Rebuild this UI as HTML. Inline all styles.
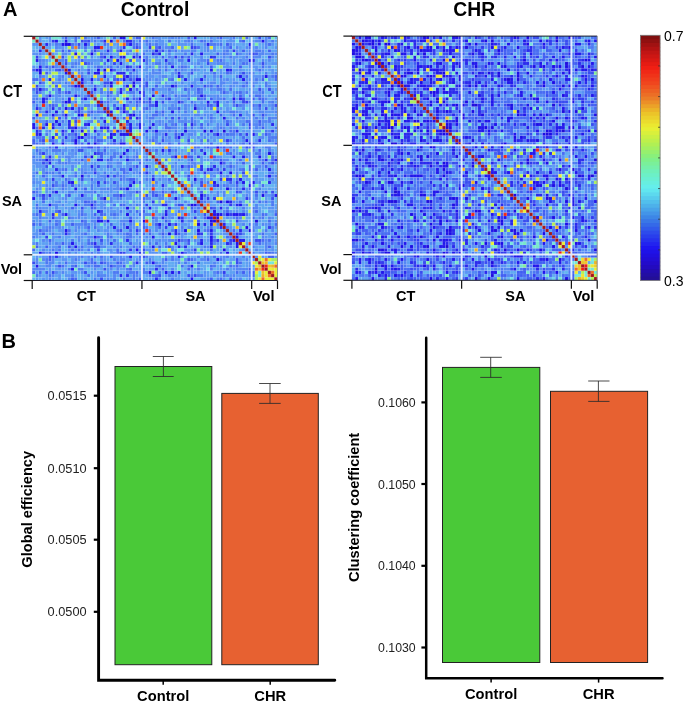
<!DOCTYPE html>
<html><head><meta charset="utf-8"><style>
html,body{margin:0;padding:0;background:#fff;width:685px;height:703px;overflow:hidden}
svg{display:block;font-family:"Liberation Sans",sans-serif;will-change:transform}
</style></head><body><svg width="685" height="703" viewBox="0 0 685 703" font-family="Liberation Sans, sans-serif"><defs><filter id="bl" x="-2%" y="-2%" width="104%" height="104%"><feGaussianBlur stdDeviation="0.45"/></filter></defs><rect width="685" height="703" fill="#fff"/><text x="3" y="16" font-size="20" font-weight="bold">A</text><text x="155" y="15.5" text-anchor="middle" font-size="19.3" font-weight="bold">Control</text><text x="474.2" y="15.5" text-anchor="middle" font-size="19.3" font-weight="bold">CHR</text><g filter="url(#bl)"><g transform="translate(32.20 36.30) scale(3.2276 3.2132)"><path fill="#200ddd" d="M22 10h1v1h-1zM10 22h1v1h-1zM50 22h1v1h-1zM59 29h1v1h-1zM22 50h1v1h-1zM57 55h1v1h-1zM55 57h1v1h-1zM69 57h1v1h-1zM29 59h1v1h-1zM57 69h1v1h-1z"/><path fill="#1f0ee6" d="M24 1h1v1h-1zM10 2h1v1h-1zM11 2h1v1h-1zM18 5h1v1h-1zM67 7h1v1h-1zM2 10h1v1h-1zM20 10h1v1h-1zM2 11h1v1h-1zM15 13h1v1h-1zM28 13h1v1h-1zM32 13h1v1h-1zM33 13h1v1h-1zM24 14h1v1h-1zM13 15h1v1h-1zM31 15h1v1h-1zM43 15h1v1h-1zM30 16h1v1h-1zM5 18h1v1h-1zM37 18h1v1h-1zM33 19h1v1h-1zM10 20h1v1h-1zM1 24h1v1h-1zM14 24h1v1h-1zM31 24h1v1h-1zM13 28h1v1h-1zM47 29h1v1h-1zM53 29h1v1h-1zM55 29h1v1h-1zM16 30h1v1h-1zM15 31h1v1h-1zM24 31h1v1h-1zM13 32h1v1h-1zM13 33h1v1h-1zM19 33h1v1h-1zM57 34h1v1h-1zM73 36h1v1h-1zM18 37h1v1h-1zM61 42h1v1h-1zM15 43h1v1h-1zM50 44h1v1h-1zM29 47h1v1h-1zM60 47h1v1h-1zM52 49h1v1h-1zM71 49h1v1h-1zM44 50h1v1h-1zM58 51h1v1h-1zM60 51h1v1h-1zM49 52h1v1h-1zM29 53h1v1h-1zM29 55h1v1h-1zM57 56h1v1h-1zM34 57h1v1h-1zM56 57h1v1h-1zM51 58h1v1h-1zM66 59h1v1h-1zM47 60h1v1h-1zM51 60h1v1h-1zM67 60h1v1h-1zM42 61h1v1h-1zM59 66h1v1h-1zM7 67h1v1h-1zM60 67h1v1h-1zM49 71h1v1h-1zM36 73h1v1h-1z"/><path fill="#2117ec" d="M27 0h1v1h-1zM28 0h1v1h-1zM50 0h1v1h-1zM7 1h1v1h-1zM10 1h1v1h-1zM71 1h1v1h-1zM9 2h1v1h-1zM16 2h1v1h-1zM30 2h1v1h-1zM67 2h1v1h-1zM19 3h1v1h-1zM20 3h1v1h-1zM27 4h1v1h-1zM38 4h1v1h-1zM13 5h1v1h-1zM39 5h1v1h-1zM52 5h1v1h-1zM24 6h1v1h-1zM28 6h1v1h-1zM31 6h1v1h-1zM33 6h1v1h-1zM1 7h1v1h-1zM23 7h1v1h-1zM26 7h1v1h-1zM48 7h1v1h-1zM27 8h1v1h-1zM2 9h1v1h-1zM33 9h1v1h-1zM43 9h1v1h-1zM1 10h1v1h-1zM11 10h1v1h-1zM24 10h1v1h-1zM55 10h1v1h-1zM60 10h1v1h-1zM10 11h1v1h-1zM19 11h1v1h-1zM20 11h1v1h-1zM22 12h1v1h-1zM29 12h1v1h-1zM45 12h1v1h-1zM64 12h1v1h-1zM72 12h1v1h-1zM5 13h1v1h-1zM18 13h1v1h-1zM47 13h1v1h-1zM52 13h1v1h-1zM65 13h1v1h-1zM15 14h1v1h-1zM31 14h1v1h-1zM14 15h1v1h-1zM24 15h1v1h-1zM29 15h1v1h-1zM49 15h1v1h-1zM2 16h1v1h-1zM19 16h1v1h-1zM27 17h1v1h-1zM33 17h1v1h-1zM13 18h1v1h-1zM52 18h1v1h-1zM3 19h1v1h-1zM11 19h1v1h-1zM16 19h1v1h-1zM29 19h1v1h-1zM62 19h1v1h-1zM3 20h1v1h-1zM11 20h1v1h-1zM38 20h1v1h-1zM54 20h1v1h-1zM57 20h1v1h-1zM28 21h1v1h-1zM38 21h1v1h-1zM57 21h1v1h-1zM12 22h1v1h-1zM26 22h1v1h-1zM7 23h1v1h-1zM24 23h1v1h-1zM28 23h1v1h-1zM43 23h1v1h-1zM57 23h1v1h-1zM6 24h1v1h-1zM10 24h1v1h-1zM15 24h1v1h-1zM23 24h1v1h-1zM30 24h1v1h-1zM59 25h1v1h-1zM7 26h1v1h-1zM22 26h1v1h-1zM0 27h1v1h-1zM4 27h1v1h-1zM8 27h1v1h-1zM17 27h1v1h-1zM30 27h1v1h-1zM33 27h1v1h-1zM37 27h1v1h-1zM0 28h1v1h-1zM6 28h1v1h-1zM21 28h1v1h-1zM23 28h1v1h-1zM30 28h1v1h-1zM33 28h1v1h-1zM36 28h1v1h-1zM12 29h1v1h-1zM15 29h1v1h-1zM19 29h1v1h-1zM30 29h1v1h-1zM35 29h1v1h-1zM38 29h1v1h-1zM2 30h1v1h-1zM24 30h1v1h-1zM27 30h1v1h-1zM28 30h1v1h-1zM29 30h1v1h-1zM46 30h1v1h-1zM57 30h1v1h-1zM68 30h1v1h-1zM6 31h1v1h-1zM14 31h1v1h-1zM45 31h1v1h-1zM66 32h1v1h-1zM6 33h1v1h-1zM9 33h1v1h-1zM17 33h1v1h-1zM27 33h1v1h-1zM28 33h1v1h-1zM29 35h1v1h-1zM40 35h1v1h-1zM28 36h1v1h-1zM53 36h1v1h-1zM27 37h1v1h-1zM44 37h1v1h-1zM62 37h1v1h-1zM65 37h1v1h-1zM70 37h1v1h-1zM4 38h1v1h-1zM20 38h1v1h-1zM21 38h1v1h-1zM29 38h1v1h-1zM5 39h1v1h-1zM58 39h1v1h-1zM35 40h1v1h-1zM55 41h1v1h-1zM73 41h1v1h-1zM58 42h1v1h-1zM9 43h1v1h-1zM23 43h1v1h-1zM73 43h1v1h-1zM37 44h1v1h-1zM64 44h1v1h-1zM12 45h1v1h-1zM31 45h1v1h-1zM56 45h1v1h-1zM65 45h1v1h-1zM68 45h1v1h-1zM30 46h1v1h-1zM67 46h1v1h-1zM13 47h1v1h-1zM7 48h1v1h-1zM15 49h1v1h-1zM75 49h1v1h-1zM0 50h1v1h-1zM52 50h1v1h-1zM5 52h1v1h-1zM13 52h1v1h-1zM18 52h1v1h-1zM50 52h1v1h-1zM64 52h1v1h-1zM36 53h1v1h-1zM20 54h1v1h-1zM56 54h1v1h-1zM10 55h1v1h-1zM41 55h1v1h-1zM56 55h1v1h-1zM58 55h1v1h-1zM60 55h1v1h-1zM62 55h1v1h-1zM63 55h1v1h-1zM65 55h1v1h-1zM45 56h1v1h-1zM54 56h1v1h-1zM55 56h1v1h-1zM20 57h1v1h-1zM21 57h1v1h-1zM23 57h1v1h-1zM30 57h1v1h-1zM39 58h1v1h-1zM42 58h1v1h-1zM55 58h1v1h-1zM25 59h1v1h-1zM10 60h1v1h-1zM55 60h1v1h-1zM19 62h1v1h-1zM37 62h1v1h-1zM55 62h1v1h-1zM63 62h1v1h-1zM55 63h1v1h-1zM62 63h1v1h-1zM64 63h1v1h-1zM65 63h1v1h-1zM12 64h1v1h-1zM44 64h1v1h-1zM52 64h1v1h-1zM63 64h1v1h-1zM13 65h1v1h-1zM37 65h1v1h-1zM45 65h1v1h-1zM55 65h1v1h-1zM63 65h1v1h-1zM32 66h1v1h-1zM2 67h1v1h-1zM46 67h1v1h-1zM30 68h1v1h-1zM45 68h1v1h-1zM37 70h1v1h-1zM1 71h1v1h-1zM12 72h1v1h-1zM41 73h1v1h-1zM43 73h1v1h-1zM49 75h1v1h-1z"/><path fill="#2929ed" d="M22 1h1v1h-1zM29 1h1v1h-1zM30 1h1v1h-1zM4 2h1v1h-1zM54 2h1v1h-1zM28 3h1v1h-1zM2 4h1v1h-1zM23 4h1v1h-1zM37 5h1v1h-1zM49 5h1v1h-1zM22 6h1v1h-1zM27 6h1v1h-1zM55 6h1v1h-1zM34 7h1v1h-1zM41 7h1v1h-1zM68 7h1v1h-1zM29 9h1v1h-1zM31 10h1v1h-1zM61 10h1v1h-1zM26 11h1v1h-1zM27 11h1v1h-1zM28 11h1v1h-1zM45 11h1v1h-1zM27 16h1v1h-1zM40 18h1v1h-1zM36 19h1v1h-1zM64 19h1v1h-1zM21 20h1v1h-1zM45 20h1v1h-1zM20 21h1v1h-1zM1 22h1v1h-1zM6 22h1v1h-1zM28 22h1v1h-1zM4 23h1v1h-1zM64 24h1v1h-1zM30 25h1v1h-1zM32 25h1v1h-1zM11 26h1v1h-1zM29 26h1v1h-1zM6 27h1v1h-1zM11 27h1v1h-1zM16 27h1v1h-1zM49 27h1v1h-1zM74 27h1v1h-1zM3 28h1v1h-1zM11 28h1v1h-1zM22 28h1v1h-1zM1 29h1v1h-1zM9 29h1v1h-1zM26 29h1v1h-1zM63 29h1v1h-1zM1 30h1v1h-1zM25 30h1v1h-1zM41 30h1v1h-1zM10 31h1v1h-1zM25 32h1v1h-1zM70 32h1v1h-1zM67 33h1v1h-1zM7 34h1v1h-1zM19 36h1v1h-1zM5 37h1v1h-1zM72 38h1v1h-1zM75 38h1v1h-1zM18 40h1v1h-1zM46 40h1v1h-1zM52 40h1v1h-1zM56 40h1v1h-1zM7 41h1v1h-1zM30 41h1v1h-1zM52 41h1v1h-1zM54 41h1v1h-1zM60 44h1v1h-1zM61 44h1v1h-1zM11 45h1v1h-1zM20 45h1v1h-1zM73 45h1v1h-1zM40 46h1v1h-1zM57 46h1v1h-1zM65 47h1v1h-1zM5 49h1v1h-1zM27 49h1v1h-1zM61 51h1v1h-1zM40 52h1v1h-1zM41 52h1v1h-1zM63 52h1v1h-1zM58 53h1v1h-1zM2 54h1v1h-1zM41 54h1v1h-1zM6 55h1v1h-1zM64 55h1v1h-1zM40 56h1v1h-1zM46 57h1v1h-1zM53 58h1v1h-1zM59 58h1v1h-1zM58 59h1v1h-1zM44 60h1v1h-1zM64 60h1v1h-1zM10 61h1v1h-1zM44 61h1v1h-1zM51 61h1v1h-1zM29 63h1v1h-1zM52 63h1v1h-1zM19 64h1v1h-1zM24 64h1v1h-1zM55 64h1v1h-1zM60 64h1v1h-1zM47 65h1v1h-1zM33 67h1v1h-1zM7 68h1v1h-1zM32 70h1v1h-1zM38 72h1v1h-1zM45 73h1v1h-1zM27 74h1v1h-1zM38 75h1v1h-1z"/><path fill="#313bef" d="M6 1h1v1h-1zM36 3h1v1h-1zM49 3h1v1h-1zM62 4h1v1h-1zM1 6h1v1h-1zM44 6h1v1h-1zM56 6h1v1h-1zM28 12h1v1h-1zM42 19h1v1h-1zM66 20h1v1h-1zM23 22h1v1h-1zM22 23h1v1h-1zM67 27h1v1h-1zM12 28h1v1h-1zM74 29h1v1h-1zM66 30h1v1h-1zM60 32h1v1h-1zM42 35h1v1h-1zM52 35h1v1h-1zM3 36h1v1h-1zM51 37h1v1h-1zM59 41h1v1h-1zM19 42h1v1h-1zM35 42h1v1h-1zM53 42h1v1h-1zM6 44h1v1h-1zM58 44h1v1h-1zM63 45h1v1h-1zM56 46h1v1h-1zM3 49h1v1h-1zM54 50h1v1h-1zM56 50h1v1h-1zM66 50h1v1h-1zM37 51h1v1h-1zM35 52h1v1h-1zM61 52h1v1h-1zM42 53h1v1h-1zM50 54h1v1h-1zM61 55h1v1h-1zM6 56h1v1h-1zM46 56h1v1h-1zM50 56h1v1h-1zM63 57h1v1h-1zM44 58h1v1h-1zM41 59h1v1h-1zM73 59h1v1h-1zM32 60h1v1h-1zM52 61h1v1h-1zM55 61h1v1h-1zM63 61h1v1h-1zM4 62h1v1h-1zM45 63h1v1h-1zM57 63h1v1h-1zM61 63h1v1h-1zM20 66h1v1h-1zM30 66h1v1h-1zM50 66h1v1h-1zM27 67h1v1h-1zM59 73h1v1h-1zM29 74h1v1h-1z"/><path fill="#394df0" d="M70 0h1v1h-1zM15 1h1v1h-1zM17 1h1v1h-1zM14 2h1v1h-1zM32 3h1v1h-1zM39 3h1v1h-1zM50 3h1v1h-1zM19 4h1v1h-1zM40 4h1v1h-1zM68 5h1v1h-1zM9 6h1v1h-1zM46 6h1v1h-1zM73 6h1v1h-1zM30 7h1v1h-1zM10 8h1v1h-1zM16 8h1v1h-1zM25 8h1v1h-1zM54 8h1v1h-1zM71 8h1v1h-1zM6 9h1v1h-1zM30 9h1v1h-1zM8 10h1v1h-1zM17 11h1v1h-1zM49 11h1v1h-1zM65 11h1v1h-1zM26 13h1v1h-1zM30 13h1v1h-1zM2 14h1v1h-1zM22 14h1v1h-1zM23 14h1v1h-1zM35 14h1v1h-1zM1 15h1v1h-1zM35 15h1v1h-1zM44 15h1v1h-1zM53 15h1v1h-1zM8 16h1v1h-1zM37 16h1v1h-1zM70 16h1v1h-1zM73 16h1v1h-1zM1 17h1v1h-1zM11 17h1v1h-1zM18 17h1v1h-1zM34 17h1v1h-1zM17 18h1v1h-1zM34 18h1v1h-1zM4 19h1v1h-1zM65 19h1v1h-1zM36 20h1v1h-1zM40 20h1v1h-1zM65 20h1v1h-1zM54 21h1v1h-1zM63 21h1v1h-1zM70 21h1v1h-1zM75 21h1v1h-1zM14 22h1v1h-1zM45 22h1v1h-1zM72 22h1v1h-1zM14 23h1v1h-1zM68 24h1v1h-1zM71 24h1v1h-1zM8 25h1v1h-1zM43 25h1v1h-1zM45 25h1v1h-1zM13 26h1v1h-1zM47 27h1v1h-1zM60 27h1v1h-1zM67 28h1v1h-1zM7 30h1v1h-1zM9 30h1v1h-1zM13 30h1v1h-1zM3 32h1v1h-1zM40 32h1v1h-1zM48 32h1v1h-1zM17 34h1v1h-1zM18 34h1v1h-1zM66 34h1v1h-1zM68 34h1v1h-1zM14 35h1v1h-1zM15 35h1v1h-1zM49 35h1v1h-1zM20 36h1v1h-1zM16 37h1v1h-1zM49 38h1v1h-1zM3 39h1v1h-1zM74 39h1v1h-1zM4 40h1v1h-1zM20 40h1v1h-1zM32 40h1v1h-1zM65 42h1v1h-1zM25 43h1v1h-1zM48 43h1v1h-1zM15 44h1v1h-1zM22 45h1v1h-1zM25 45h1v1h-1zM52 45h1v1h-1zM6 46h1v1h-1zM52 46h1v1h-1zM27 47h1v1h-1zM32 48h1v1h-1zM43 48h1v1h-1zM63 48h1v1h-1zM69 48h1v1h-1zM74 48h1v1h-1zM11 49h1v1h-1zM35 49h1v1h-1zM38 49h1v1h-1zM3 50h1v1h-1zM74 50h1v1h-1zM45 52h1v1h-1zM46 52h1v1h-1zM15 53h1v1h-1zM55 53h1v1h-1zM8 54h1v1h-1zM21 54h1v1h-1zM53 55h1v1h-1zM27 60h1v1h-1zM64 61h1v1h-1zM21 63h1v1h-1zM48 63h1v1h-1zM69 63h1v1h-1zM70 63h1v1h-1zM61 64h1v1h-1zM11 65h1v1h-1zM19 65h1v1h-1zM20 65h1v1h-1zM42 65h1v1h-1zM34 66h1v1h-1zM28 67h1v1h-1zM5 68h1v1h-1zM24 68h1v1h-1zM34 68h1v1h-1zM48 69h1v1h-1zM63 69h1v1h-1zM0 70h1v1h-1zM16 70h1v1h-1zM21 70h1v1h-1zM63 70h1v1h-1zM8 71h1v1h-1zM24 71h1v1h-1zM22 72h1v1h-1zM6 73h1v1h-1zM16 73h1v1h-1zM39 74h1v1h-1zM48 74h1v1h-1zM50 74h1v1h-1zM21 75h1v1h-1z"/><path fill="#415ff2" d="M10 0h1v1h-1zM20 0h1v1h-1zM25 0h1v1h-1zM32 0h1v1h-1zM33 0h1v1h-1zM48 0h1v1h-1zM58 0h1v1h-1zM16 1h1v1h-1zM65 1h1v1h-1zM29 2h1v1h-1zM60 2h1v1h-1zM43 3h1v1h-1zM61 3h1v1h-1zM9 4h1v1h-1zM11 4h1v1h-1zM65 4h1v1h-1zM73 4h1v1h-1zM38 5h1v1h-1zM57 5h1v1h-1zM63 5h1v1h-1zM69 5h1v1h-1zM21 6h1v1h-1zM40 6h1v1h-1zM48 6h1v1h-1zM10 7h1v1h-1zM15 7h1v1h-1zM4 9h1v1h-1zM55 9h1v1h-1zM64 9h1v1h-1zM0 10h1v1h-1zM7 10h1v1h-1zM17 10h1v1h-1zM25 10h1v1h-1zM4 11h1v1h-1zM46 12h1v1h-1zM53 12h1v1h-1zM58 12h1v1h-1zM75 12h1v1h-1zM25 13h1v1h-1zM71 13h1v1h-1zM7 15h1v1h-1zM19 15h1v1h-1zM22 15h1v1h-1zM33 15h1v1h-1zM38 15h1v1h-1zM57 15h1v1h-1zM1 16h1v1h-1zM32 16h1v1h-1zM47 16h1v1h-1zM51 16h1v1h-1zM10 17h1v1h-1zM24 17h1v1h-1zM59 17h1v1h-1zM23 18h1v1h-1zM53 18h1v1h-1zM64 18h1v1h-1zM15 19h1v1h-1zM31 19h1v1h-1zM51 19h1v1h-1zM55 19h1v1h-1zM68 19h1v1h-1zM70 19h1v1h-1zM0 20h1v1h-1zM32 20h1v1h-1zM34 20h1v1h-1zM46 20h1v1h-1zM56 20h1v1h-1zM62 20h1v1h-1zM6 21h1v1h-1zM25 21h1v1h-1zM36 21h1v1h-1zM37 21h1v1h-1zM50 21h1v1h-1zM55 21h1v1h-1zM15 22h1v1h-1zM35 22h1v1h-1zM18 23h1v1h-1zM29 23h1v1h-1zM38 23h1v1h-1zM40 23h1v1h-1zM17 24h1v1h-1zM58 24h1v1h-1zM0 25h1v1h-1zM10 25h1v1h-1zM13 25h1v1h-1zM21 25h1v1h-1zM28 25h1v1h-1zM33 25h1v1h-1zM70 26h1v1h-1zM52 27h1v1h-1zM25 28h1v1h-1zM47 28h1v1h-1zM71 28h1v1h-1zM2 29h1v1h-1zM23 29h1v1h-1zM44 30h1v1h-1zM56 30h1v1h-1zM64 30h1v1h-1zM72 30h1v1h-1zM19 31h1v1h-1zM44 31h1v1h-1zM0 32h1v1h-1zM16 32h1v1h-1zM20 32h1v1h-1zM0 33h1v1h-1zM15 33h1v1h-1zM25 33h1v1h-1zM39 33h1v1h-1zM45 33h1v1h-1zM55 33h1v1h-1zM75 33h1v1h-1zM20 34h1v1h-1zM54 34h1v1h-1zM59 34h1v1h-1zM22 35h1v1h-1zM70 35h1v1h-1zM21 36h1v1h-1zM21 37h1v1h-1zM43 37h1v1h-1zM48 37h1v1h-1zM49 37h1v1h-1zM56 37h1v1h-1zM5 38h1v1h-1zM15 38h1v1h-1zM23 38h1v1h-1zM58 38h1v1h-1zM33 39h1v1h-1zM59 39h1v1h-1zM65 39h1v1h-1zM71 39h1v1h-1zM6 40h1v1h-1zM23 40h1v1h-1zM48 40h1v1h-1zM61 40h1v1h-1zM67 40h1v1h-1zM72 40h1v1h-1zM57 41h1v1h-1zM67 41h1v1h-1zM69 41h1v1h-1zM3 43h1v1h-1zM37 43h1v1h-1zM30 44h1v1h-1zM31 44h1v1h-1zM48 44h1v1h-1zM33 45h1v1h-1zM61 45h1v1h-1zM12 46h1v1h-1zM20 46h1v1h-1zM16 47h1v1h-1zM28 47h1v1h-1zM0 48h1v1h-1zM6 48h1v1h-1zM37 48h1v1h-1zM40 48h1v1h-1zM44 48h1v1h-1zM52 48h1v1h-1zM64 48h1v1h-1zM72 48h1v1h-1zM37 49h1v1h-1zM53 49h1v1h-1zM21 50h1v1h-1zM16 51h1v1h-1zM19 51h1v1h-1zM57 51h1v1h-1zM27 52h1v1h-1zM48 52h1v1h-1zM12 53h1v1h-1zM18 53h1v1h-1zM49 53h1v1h-1zM56 53h1v1h-1zM34 54h1v1h-1zM69 54h1v1h-1zM9 55h1v1h-1zM19 55h1v1h-1zM21 55h1v1h-1zM33 55h1v1h-1zM75 55h1v1h-1zM20 56h1v1h-1zM30 56h1v1h-1zM37 56h1v1h-1zM53 56h1v1h-1zM5 57h1v1h-1zM15 57h1v1h-1zM41 57h1v1h-1zM51 57h1v1h-1zM0 58h1v1h-1zM12 58h1v1h-1zM24 58h1v1h-1zM38 58h1v1h-1zM17 59h1v1h-1zM34 59h1v1h-1zM39 59h1v1h-1zM2 60h1v1h-1zM3 61h1v1h-1zM40 61h1v1h-1zM45 61h1v1h-1zM75 61h1v1h-1zM20 62h1v1h-1zM5 63h1v1h-1zM9 64h1v1h-1zM18 64h1v1h-1zM30 64h1v1h-1zM48 64h1v1h-1zM1 65h1v1h-1zM4 65h1v1h-1zM39 65h1v1h-1zM73 65h1v1h-1zM40 67h1v1h-1zM41 67h1v1h-1zM72 67h1v1h-1zM19 68h1v1h-1zM73 68h1v1h-1zM74 68h1v1h-1zM5 69h1v1h-1zM41 69h1v1h-1zM54 69h1v1h-1zM19 70h1v1h-1zM26 70h1v1h-1zM35 70h1v1h-1zM13 71h1v1h-1zM28 71h1v1h-1zM39 71h1v1h-1zM30 72h1v1h-1zM40 72h1v1h-1zM48 72h1v1h-1zM67 72h1v1h-1zM4 73h1v1h-1zM65 73h1v1h-1zM68 73h1v1h-1zM68 74h1v1h-1zM12 75h1v1h-1zM33 75h1v1h-1zM55 75h1v1h-1zM61 75h1v1h-1z"/><path fill="#476cf3" d="M13 0h1v1h-1zM66 0h1v1h-1zM73 0h1v1h-1zM13 1h1v1h-1zM28 1h1v1h-1zM33 1h1v1h-1zM35 1h1v1h-1zM42 1h1v1h-1zM52 1h1v1h-1zM55 1h1v1h-1zM12 2h1v1h-1zM22 2h1v1h-1zM32 2h1v1h-1zM36 2h1v1h-1zM49 2h1v1h-1zM58 2h1v1h-1zM73 2h1v1h-1zM16 3h1v1h-1zM31 3h1v1h-1zM33 3h1v1h-1zM38 3h1v1h-1zM51 3h1v1h-1zM67 3h1v1h-1zM26 4h1v1h-1zM42 4h1v1h-1zM21 5h1v1h-1zM32 5h1v1h-1zM34 5h1v1h-1zM67 5h1v1h-1zM14 6h1v1h-1zM32 6h1v1h-1zM54 7h1v1h-1zM58 7h1v1h-1zM17 8h1v1h-1zM22 8h1v1h-1zM42 8h1v1h-1zM65 8h1v1h-1zM20 9h1v1h-1zM24 9h1v1h-1zM32 9h1v1h-1zM46 9h1v1h-1zM71 9h1v1h-1zM29 10h1v1h-1zM41 10h1v1h-1zM44 10h1v1h-1zM70 10h1v1h-1zM22 11h1v1h-1zM30 11h1v1h-1zM56 11h1v1h-1zM60 11h1v1h-1zM2 12h1v1h-1zM15 12h1v1h-1zM32 12h1v1h-1zM66 12h1v1h-1zM0 13h1v1h-1zM1 13h1v1h-1zM23 13h1v1h-1zM31 13h1v1h-1zM43 13h1v1h-1zM75 13h1v1h-1zM6 14h1v1h-1zM18 14h1v1h-1zM66 14h1v1h-1zM12 15h1v1h-1zM55 15h1v1h-1zM65 15h1v1h-1zM3 16h1v1h-1zM61 16h1v1h-1zM8 17h1v1h-1zM51 17h1v1h-1zM64 17h1v1h-1zM74 17h1v1h-1zM14 18h1v1h-1zM44 18h1v1h-1zM69 18h1v1h-1zM70 18h1v1h-1zM32 19h1v1h-1zM41 19h1v1h-1zM48 19h1v1h-1zM53 19h1v1h-1zM59 19h1v1h-1zM71 19h1v1h-1zM9 20h1v1h-1zM23 20h1v1h-1zM30 20h1v1h-1zM33 20h1v1h-1zM49 20h1v1h-1zM71 20h1v1h-1zM5 21h1v1h-1zM32 21h1v1h-1zM68 21h1v1h-1zM2 22h1v1h-1zM8 22h1v1h-1zM11 22h1v1h-1zM70 22h1v1h-1zM13 23h1v1h-1zM20 23h1v1h-1zM9 24h1v1h-1zM37 24h1v1h-1zM38 24h1v1h-1zM62 24h1v1h-1zM49 25h1v1h-1zM52 25h1v1h-1zM55 25h1v1h-1zM63 25h1v1h-1zM4 26h1v1h-1zM49 26h1v1h-1zM60 26h1v1h-1zM66 26h1v1h-1zM67 26h1v1h-1zM29 27h1v1h-1zM41 27h1v1h-1zM44 27h1v1h-1zM70 27h1v1h-1zM1 28h1v1h-1zM41 28h1v1h-1zM42 28h1v1h-1zM49 28h1v1h-1zM52 28h1v1h-1zM10 29h1v1h-1zM27 29h1v1h-1zM61 29h1v1h-1zM11 30h1v1h-1zM20 30h1v1h-1zM60 30h1v1h-1zM3 31h1v1h-1zM13 31h1v1h-1zM65 31h1v1h-1zM2 32h1v1h-1zM5 32h1v1h-1zM6 32h1v1h-1zM9 32h1v1h-1zM12 32h1v1h-1zM19 32h1v1h-1zM21 32h1v1h-1zM37 32h1v1h-1zM54 32h1v1h-1zM61 32h1v1h-1zM73 32h1v1h-1zM1 33h1v1h-1zM3 33h1v1h-1zM20 33h1v1h-1zM42 33h1v1h-1zM65 33h1v1h-1zM68 33h1v1h-1zM5 34h1v1h-1zM50 34h1v1h-1zM61 34h1v1h-1zM67 34h1v1h-1zM1 35h1v1h-1zM38 35h1v1h-1zM2 36h1v1h-1zM61 36h1v1h-1zM24 37h1v1h-1zM32 37h1v1h-1zM74 37h1v1h-1zM3 38h1v1h-1zM24 38h1v1h-1zM35 38h1v1h-1zM39 38h1v1h-1zM64 38h1v1h-1zM74 38h1v1h-1zM38 39h1v1h-1zM10 41h1v1h-1zM19 41h1v1h-1zM27 41h1v1h-1zM28 41h1v1h-1zM65 41h1v1h-1zM1 42h1v1h-1zM4 42h1v1h-1zM8 42h1v1h-1zM28 42h1v1h-1zM33 42h1v1h-1zM44 42h1v1h-1zM13 43h1v1h-1zM10 44h1v1h-1zM18 44h1v1h-1zM27 44h1v1h-1zM42 44h1v1h-1zM9 46h1v1h-1zM49 46h1v1h-1zM63 46h1v1h-1zM71 46h1v1h-1zM67 47h1v1h-1zM19 48h1v1h-1zM2 49h1v1h-1zM20 49h1v1h-1zM25 49h1v1h-1zM26 49h1v1h-1zM28 49h1v1h-1zM46 49h1v1h-1zM69 49h1v1h-1zM34 50h1v1h-1zM3 51h1v1h-1zM17 51h1v1h-1zM52 51h1v1h-1zM64 51h1v1h-1zM70 51h1v1h-1zM1 52h1v1h-1zM25 52h1v1h-1zM28 52h1v1h-1zM51 52h1v1h-1zM19 53h1v1h-1zM7 54h1v1h-1zM32 54h1v1h-1zM60 54h1v1h-1zM1 55h1v1h-1zM15 55h1v1h-1zM25 55h1v1h-1zM59 55h1v1h-1zM66 55h1v1h-1zM71 55h1v1h-1zM11 56h1v1h-1zM63 56h1v1h-1zM68 56h1v1h-1zM73 57h1v1h-1zM2 58h1v1h-1zM7 58h1v1h-1zM67 58h1v1h-1zM75 58h1v1h-1zM19 59h1v1h-1zM55 59h1v1h-1zM11 60h1v1h-1zM26 60h1v1h-1zM30 60h1v1h-1zM54 60h1v1h-1zM62 60h1v1h-1zM16 61h1v1h-1zM29 61h1v1h-1zM32 61h1v1h-1zM34 61h1v1h-1zM36 61h1v1h-1zM71 61h1v1h-1zM24 62h1v1h-1zM60 62h1v1h-1zM25 63h1v1h-1zM46 63h1v1h-1zM56 63h1v1h-1zM71 63h1v1h-1zM73 63h1v1h-1zM17 64h1v1h-1zM38 64h1v1h-1zM51 64h1v1h-1zM70 64h1v1h-1zM8 65h1v1h-1zM15 65h1v1h-1zM31 65h1v1h-1zM33 65h1v1h-1zM41 65h1v1h-1zM0 66h1v1h-1zM12 66h1v1h-1zM14 66h1v1h-1zM26 66h1v1h-1zM55 66h1v1h-1zM3 67h1v1h-1zM5 67h1v1h-1zM26 67h1v1h-1zM34 67h1v1h-1zM47 67h1v1h-1zM58 67h1v1h-1zM73 67h1v1h-1zM21 68h1v1h-1zM33 68h1v1h-1zM56 68h1v1h-1zM18 69h1v1h-1zM49 69h1v1h-1zM10 70h1v1h-1zM18 70h1v1h-1zM22 70h1v1h-1zM27 70h1v1h-1zM51 70h1v1h-1zM64 70h1v1h-1zM9 71h1v1h-1zM19 71h1v1h-1zM20 71h1v1h-1zM46 71h1v1h-1zM55 71h1v1h-1zM61 71h1v1h-1zM63 71h1v1h-1zM0 73h1v1h-1zM2 73h1v1h-1zM32 73h1v1h-1zM57 73h1v1h-1zM63 73h1v1h-1zM67 73h1v1h-1zM17 74h1v1h-1zM37 74h1v1h-1zM38 74h1v1h-1zM13 75h1v1h-1zM58 75h1v1h-1z"/><path fill="#4c79f3" d="M16 0h1v1h-1zM37 0h1v1h-1zM62 0h1v1h-1zM19 1h1v1h-1zM21 1h1v1h-1zM31 1h1v1h-1zM48 1h1v1h-1zM53 1h1v1h-1zM64 1h1v1h-1zM74 1h1v1h-1zM7 2h1v1h-1zM17 2h1v1h-1zM31 2h1v1h-1zM38 2h1v1h-1zM55 2h1v1h-1zM56 2h1v1h-1zM14 3h1v1h-1zM18 4h1v1h-1zM30 4h1v1h-1zM39 4h1v1h-1zM44 4h1v1h-1zM60 4h1v1h-1zM69 4h1v1h-1zM70 4h1v1h-1zM47 5h1v1h-1zM59 5h1v1h-1zM74 5h1v1h-1zM35 6h1v1h-1zM42 6h1v1h-1zM61 6h1v1h-1zM66 6h1v1h-1zM68 6h1v1h-1zM2 7h1v1h-1zM21 7h1v1h-1zM24 7h1v1h-1zM35 7h1v1h-1zM45 7h1v1h-1zM46 7h1v1h-1zM57 7h1v1h-1zM13 8h1v1h-1zM35 8h1v1h-1zM38 8h1v1h-1zM39 8h1v1h-1zM62 8h1v1h-1zM66 8h1v1h-1zM10 9h1v1h-1zM12 9h1v1h-1zM21 9h1v1h-1zM23 9h1v1h-1zM26 9h1v1h-1zM41 9h1v1h-1zM47 9h1v1h-1zM9 10h1v1h-1zM14 10h1v1h-1zM39 10h1v1h-1zM49 10h1v1h-1zM61 11h1v1h-1zM67 11h1v1h-1zM72 11h1v1h-1zM9 12h1v1h-1zM25 12h1v1h-1zM30 12h1v1h-1zM63 12h1v1h-1zM71 12h1v1h-1zM74 12h1v1h-1zM8 13h1v1h-1zM20 13h1v1h-1zM27 13h1v1h-1zM42 13h1v1h-1zM69 13h1v1h-1zM3 14h1v1h-1zM10 14h1v1h-1zM72 14h1v1h-1zM28 15h1v1h-1zM34 15h1v1h-1zM54 15h1v1h-1zM68 15h1v1h-1zM72 15h1v1h-1zM0 16h1v1h-1zM21 16h1v1h-1zM34 16h1v1h-1zM42 16h1v1h-1zM52 16h1v1h-1zM57 16h1v1h-1zM58 16h1v1h-1zM2 17h1v1h-1zM21 17h1v1h-1zM23 17h1v1h-1zM30 17h1v1h-1zM31 17h1v1h-1zM52 17h1v1h-1zM63 17h1v1h-1zM66 17h1v1h-1zM71 17h1v1h-1zM4 18h1v1h-1zM46 18h1v1h-1zM47 18h1v1h-1zM51 18h1v1h-1zM67 18h1v1h-1zM1 19h1v1h-1zM25 19h1v1h-1zM52 19h1v1h-1zM75 19h1v1h-1zM13 20h1v1h-1zM35 20h1v1h-1zM67 20h1v1h-1zM74 20h1v1h-1zM1 21h1v1h-1zM7 21h1v1h-1zM9 21h1v1h-1zM16 21h1v1h-1zM17 21h1v1h-1zM23 21h1v1h-1zM29 21h1v1h-1zM62 21h1v1h-1zM64 21h1v1h-1zM27 22h1v1h-1zM34 22h1v1h-1zM42 22h1v1h-1zM55 22h1v1h-1zM57 22h1v1h-1zM9 23h1v1h-1zM17 23h1v1h-1zM21 23h1v1h-1zM31 23h1v1h-1zM47 23h1v1h-1zM61 23h1v1h-1zM62 23h1v1h-1zM7 24h1v1h-1zM29 24h1v1h-1zM33 24h1v1h-1zM40 24h1v1h-1zM55 24h1v1h-1zM12 25h1v1h-1zM19 25h1v1h-1zM26 25h1v1h-1zM36 25h1v1h-1zM37 25h1v1h-1zM41 25h1v1h-1zM69 25h1v1h-1zM71 25h1v1h-1zM73 25h1v1h-1zM9 26h1v1h-1zM25 26h1v1h-1zM73 26h1v1h-1zM13 27h1v1h-1zM22 27h1v1h-1zM32 27h1v1h-1zM43 27h1v1h-1zM50 27h1v1h-1zM54 27h1v1h-1zM65 27h1v1h-1zM15 28h1v1h-1zM58 28h1v1h-1zM75 28h1v1h-1zM21 29h1v1h-1zM24 29h1v1h-1zM37 29h1v1h-1zM44 29h1v1h-1zM62 29h1v1h-1zM72 29h1v1h-1zM4 30h1v1h-1zM12 30h1v1h-1zM17 30h1v1h-1zM38 30h1v1h-1zM45 30h1v1h-1zM54 30h1v1h-1zM58 30h1v1h-1zM61 30h1v1h-1zM62 30h1v1h-1zM73 30h1v1h-1zM1 31h1v1h-1zM2 31h1v1h-1zM17 31h1v1h-1zM23 31h1v1h-1zM38 31h1v1h-1zM40 31h1v1h-1zM73 31h1v1h-1zM74 31h1v1h-1zM75 31h1v1h-1zM27 32h1v1h-1zM52 32h1v1h-1zM24 33h1v1h-1zM48 33h1v1h-1zM60 33h1v1h-1zM15 34h1v1h-1zM16 34h1v1h-1zM22 34h1v1h-1zM51 34h1v1h-1zM53 34h1v1h-1zM58 34h1v1h-1zM72 34h1v1h-1zM73 34h1v1h-1zM6 35h1v1h-1zM7 35h1v1h-1zM8 35h1v1h-1zM20 35h1v1h-1zM36 35h1v1h-1zM44 35h1v1h-1zM59 35h1v1h-1zM68 35h1v1h-1zM73 35h1v1h-1zM25 36h1v1h-1zM35 36h1v1h-1zM60 36h1v1h-1zM64 36h1v1h-1zM69 36h1v1h-1zM70 36h1v1h-1zM74 36h1v1h-1zM0 37h1v1h-1zM25 37h1v1h-1zM29 37h1v1h-1zM46 37h1v1h-1zM2 38h1v1h-1zM8 38h1v1h-1zM30 38h1v1h-1zM31 38h1v1h-1zM41 38h1v1h-1zM71 38h1v1h-1zM4 39h1v1h-1zM8 39h1v1h-1zM10 39h1v1h-1zM73 39h1v1h-1zM24 40h1v1h-1zM31 40h1v1h-1zM41 40h1v1h-1zM49 40h1v1h-1zM9 41h1v1h-1zM25 41h1v1h-1zM38 41h1v1h-1zM40 41h1v1h-1zM64 41h1v1h-1zM6 42h1v1h-1zM13 42h1v1h-1zM16 42h1v1h-1zM22 42h1v1h-1zM74 42h1v1h-1zM27 43h1v1h-1zM58 43h1v1h-1zM60 43h1v1h-1zM68 43h1v1h-1zM69 43h1v1h-1zM75 43h1v1h-1zM4 44h1v1h-1zM29 44h1v1h-1zM35 44h1v1h-1zM52 44h1v1h-1zM63 44h1v1h-1zM7 45h1v1h-1zM30 45h1v1h-1zM54 45h1v1h-1zM7 46h1v1h-1zM18 46h1v1h-1zM37 46h1v1h-1zM59 46h1v1h-1zM5 47h1v1h-1zM9 47h1v1h-1zM18 47h1v1h-1zM23 47h1v1h-1zM63 47h1v1h-1zM70 47h1v1h-1zM1 48h1v1h-1zM33 48h1v1h-1zM71 48h1v1h-1zM10 49h1v1h-1zM40 49h1v1h-1zM74 49h1v1h-1zM27 50h1v1h-1zM67 50h1v1h-1zM18 51h1v1h-1zM34 51h1v1h-1zM53 51h1v1h-1zM68 51h1v1h-1zM72 51h1v1h-1zM74 51h1v1h-1zM16 52h1v1h-1zM17 52h1v1h-1zM19 52h1v1h-1zM32 52h1v1h-1zM44 52h1v1h-1zM74 52h1v1h-1zM1 53h1v1h-1zM34 53h1v1h-1zM51 53h1v1h-1zM60 53h1v1h-1zM65 53h1v1h-1zM68 53h1v1h-1zM15 54h1v1h-1zM27 54h1v1h-1zM30 54h1v1h-1zM45 54h1v1h-1zM2 55h1v1h-1zM22 55h1v1h-1zM24 55h1v1h-1zM72 55h1v1h-1zM2 56h1v1h-1zM71 56h1v1h-1zM7 57h1v1h-1zM16 57h1v1h-1zM22 57h1v1h-1zM16 58h1v1h-1zM28 58h1v1h-1zM30 58h1v1h-1zM34 58h1v1h-1zM43 58h1v1h-1zM69 58h1v1h-1zM5 59h1v1h-1zM35 59h1v1h-1zM46 59h1v1h-1zM60 59h1v1h-1zM74 59h1v1h-1zM4 60h1v1h-1zM33 60h1v1h-1zM36 60h1v1h-1zM43 60h1v1h-1zM53 60h1v1h-1zM59 60h1v1h-1zM68 60h1v1h-1zM72 60h1v1h-1zM6 61h1v1h-1zM11 61h1v1h-1zM23 61h1v1h-1zM30 61h1v1h-1zM62 61h1v1h-1zM0 62h1v1h-1zM8 62h1v1h-1zM21 62h1v1h-1zM23 62h1v1h-1zM29 62h1v1h-1zM30 62h1v1h-1zM61 62h1v1h-1zM12 63h1v1h-1zM17 63h1v1h-1zM44 63h1v1h-1zM47 63h1v1h-1zM1 64h1v1h-1zM21 64h1v1h-1zM36 64h1v1h-1zM41 64h1v1h-1zM27 65h1v1h-1zM53 65h1v1h-1zM68 65h1v1h-1zM6 66h1v1h-1zM8 66h1v1h-1zM17 66h1v1h-1zM11 67h1v1h-1zM18 67h1v1h-1zM20 67h1v1h-1zM50 67h1v1h-1zM68 67h1v1h-1zM74 67h1v1h-1zM6 68h1v1h-1zM15 68h1v1h-1zM35 68h1v1h-1zM43 68h1v1h-1zM51 68h1v1h-1zM53 68h1v1h-1zM60 68h1v1h-1zM65 68h1v1h-1zM67 68h1v1h-1zM4 69h1v1h-1zM13 69h1v1h-1zM25 69h1v1h-1zM36 69h1v1h-1zM43 69h1v1h-1zM58 69h1v1h-1zM4 70h1v1h-1zM36 70h1v1h-1zM47 70h1v1h-1zM12 71h1v1h-1zM17 71h1v1h-1zM25 71h1v1h-1zM38 71h1v1h-1zM48 71h1v1h-1zM56 71h1v1h-1zM11 72h1v1h-1zM14 72h1v1h-1zM15 72h1v1h-1zM29 72h1v1h-1zM34 72h1v1h-1zM51 72h1v1h-1zM55 72h1v1h-1zM60 72h1v1h-1zM25 73h1v1h-1zM26 73h1v1h-1zM30 73h1v1h-1zM31 73h1v1h-1zM34 73h1v1h-1zM35 73h1v1h-1zM39 73h1v1h-1zM1 74h1v1h-1zM5 74h1v1h-1zM12 74h1v1h-1zM20 74h1v1h-1zM31 74h1v1h-1zM36 74h1v1h-1zM42 74h1v1h-1zM49 74h1v1h-1zM51 74h1v1h-1zM52 74h1v1h-1zM59 74h1v1h-1zM67 74h1v1h-1zM19 75h1v1h-1zM28 75h1v1h-1zM31 75h1v1h-1zM43 75h1v1h-1z"/><path fill="#5286f4" d="M19 0h1v1h-1zM43 0h1v1h-1zM45 0h1v1h-1zM55 0h1v1h-1zM57 0h1v1h-1zM72 0h1v1h-1zM38 1h1v1h-1zM47 1h1v1h-1zM49 1h1v1h-1zM69 1h1v1h-1zM70 1h1v1h-1zM72 1h1v1h-1zM5 2h1v1h-1zM8 2h1v1h-1zM13 2h1v1h-1zM23 2h1v1h-1zM33 2h1v1h-1zM35 2h1v1h-1zM53 2h1v1h-1zM57 2h1v1h-1zM61 2h1v1h-1zM72 2h1v1h-1zM7 3h1v1h-1zM12 3h1v1h-1zM24 3h1v1h-1zM27 3h1v1h-1zM41 3h1v1h-1zM42 3h1v1h-1zM54 3h1v1h-1zM60 3h1v1h-1zM63 3h1v1h-1zM66 3h1v1h-1zM69 3h1v1h-1zM72 3h1v1h-1zM16 4h1v1h-1zM20 4h1v1h-1zM24 4h1v1h-1zM35 4h1v1h-1zM37 4h1v1h-1zM46 4h1v1h-1zM49 4h1v1h-1zM50 4h1v1h-1zM54 4h1v1h-1zM59 4h1v1h-1zM67 4h1v1h-1zM71 4h1v1h-1zM2 5h1v1h-1zM9 5h1v1h-1zM10 5h1v1h-1zM22 5h1v1h-1zM23 5h1v1h-1zM29 5h1v1h-1zM42 5h1v1h-1zM60 5h1v1h-1zM64 5h1v1h-1zM70 5h1v1h-1zM71 5h1v1h-1zM75 5h1v1h-1zM16 6h1v1h-1zM18 6h1v1h-1zM25 6h1v1h-1zM38 6h1v1h-1zM52 6h1v1h-1zM59 6h1v1h-1zM69 6h1v1h-1zM70 6h1v1h-1zM74 6h1v1h-1zM3 7h1v1h-1zM8 7h1v1h-1zM9 7h1v1h-1zM27 7h1v1h-1zM52 7h1v1h-1zM53 7h1v1h-1zM64 7h1v1h-1zM71 7h1v1h-1zM73 7h1v1h-1zM2 8h1v1h-1zM7 8h1v1h-1zM12 8h1v1h-1zM14 8h1v1h-1zM18 8h1v1h-1zM41 8h1v1h-1zM43 8h1v1h-1zM51 8h1v1h-1zM57 8h1v1h-1zM58 8h1v1h-1zM59 8h1v1h-1zM68 8h1v1h-1zM5 9h1v1h-1zM7 9h1v1h-1zM19 9h1v1h-1zM36 9h1v1h-1zM39 9h1v1h-1zM45 9h1v1h-1zM52 9h1v1h-1zM73 9h1v1h-1zM5 10h1v1h-1zM37 10h1v1h-1zM46 10h1v1h-1zM50 10h1v1h-1zM12 11h1v1h-1zM15 11h1v1h-1zM37 11h1v1h-1zM38 11h1v1h-1zM39 11h1v1h-1zM44 11h1v1h-1zM48 11h1v1h-1zM64 11h1v1h-1zM68 11h1v1h-1zM75 11h1v1h-1zM3 12h1v1h-1zM8 12h1v1h-1zM11 12h1v1h-1zM31 12h1v1h-1zM35 12h1v1h-1zM40 12h1v1h-1zM41 12h1v1h-1zM48 12h1v1h-1zM56 12h1v1h-1zM2 13h1v1h-1zM29 13h1v1h-1zM34 13h1v1h-1zM36 13h1v1h-1zM38 13h1v1h-1zM58 13h1v1h-1zM60 13h1v1h-1zM67 13h1v1h-1zM8 14h1v1h-1zM32 14h1v1h-1zM33 14h1v1h-1zM39 14h1v1h-1zM44 14h1v1h-1zM46 14h1v1h-1zM52 14h1v1h-1zM55 14h1v1h-1zM56 14h1v1h-1zM58 14h1v1h-1zM59 14h1v1h-1zM62 14h1v1h-1zM63 14h1v1h-1zM68 14h1v1h-1zM11 15h1v1h-1zM23 15h1v1h-1zM41 15h1v1h-1zM42 15h1v1h-1zM58 15h1v1h-1zM61 15h1v1h-1zM66 15h1v1h-1zM73 15h1v1h-1zM4 16h1v1h-1zM6 16h1v1h-1zM18 16h1v1h-1zM28 16h1v1h-1zM48 16h1v1h-1zM55 16h1v1h-1zM59 16h1v1h-1zM26 17h1v1h-1zM29 17h1v1h-1zM43 17h1v1h-1zM48 17h1v1h-1zM58 17h1v1h-1zM60 17h1v1h-1zM62 17h1v1h-1zM68 17h1v1h-1zM70 17h1v1h-1zM6 18h1v1h-1zM8 18h1v1h-1zM16 18h1v1h-1zM26 18h1v1h-1zM31 18h1v1h-1zM41 18h1v1h-1zM48 18h1v1h-1zM57 18h1v1h-1zM62 18h1v1h-1zM0 19h1v1h-1zM9 19h1v1h-1zM23 19h1v1h-1zM34 19h1v1h-1zM57 19h1v1h-1zM58 19h1v1h-1zM72 19h1v1h-1zM4 20h1v1h-1zM22 20h1v1h-1zM26 20h1v1h-1zM60 20h1v1h-1zM73 20h1v1h-1zM43 21h1v1h-1zM47 21h1v1h-1zM65 21h1v1h-1zM69 21h1v1h-1zM74 21h1v1h-1zM5 22h1v1h-1zM20 22h1v1h-1zM25 22h1v1h-1zM36 22h1v1h-1zM43 22h1v1h-1zM44 22h1v1h-1zM47 22h1v1h-1zM51 22h1v1h-1zM53 22h1v1h-1zM65 22h1v1h-1zM74 22h1v1h-1zM2 23h1v1h-1zM5 23h1v1h-1zM15 23h1v1h-1zM19 23h1v1h-1zM27 23h1v1h-1zM33 23h1v1h-1zM34 23h1v1h-1zM45 23h1v1h-1zM59 23h1v1h-1zM63 23h1v1h-1zM70 23h1v1h-1zM71 23h1v1h-1zM75 23h1v1h-1zM3 24h1v1h-1zM4 24h1v1h-1zM50 24h1v1h-1zM51 24h1v1h-1zM53 24h1v1h-1zM72 24h1v1h-1zM6 25h1v1h-1zM22 25h1v1h-1zM47 25h1v1h-1zM65 25h1v1h-1zM74 25h1v1h-1zM75 25h1v1h-1zM17 26h1v1h-1zM18 26h1v1h-1zM20 26h1v1h-1zM33 26h1v1h-1zM36 26h1v1h-1zM39 26h1v1h-1zM42 26h1v1h-1zM43 26h1v1h-1zM45 26h1v1h-1zM46 26h1v1h-1zM47 26h1v1h-1zM50 26h1v1h-1zM55 26h1v1h-1zM61 26h1v1h-1zM71 26h1v1h-1zM72 26h1v1h-1zM3 27h1v1h-1zM7 27h1v1h-1zM23 27h1v1h-1zM34 27h1v1h-1zM39 27h1v1h-1zM57 27h1v1h-1zM68 27h1v1h-1zM69 27h1v1h-1zM71 27h1v1h-1zM16 28h1v1h-1zM29 28h1v1h-1zM43 28h1v1h-1zM44 28h1v1h-1zM57 28h1v1h-1zM59 28h1v1h-1zM61 28h1v1h-1zM69 28h1v1h-1zM5 29h1v1h-1zM13 29h1v1h-1zM17 29h1v1h-1zM28 29h1v1h-1zM42 29h1v1h-1zM57 29h1v1h-1zM68 29h1v1h-1zM73 29h1v1h-1zM34 30h1v1h-1zM40 30h1v1h-1zM48 30h1v1h-1zM49 30h1v1h-1zM52 30h1v1h-1zM59 30h1v1h-1zM69 30h1v1h-1zM12 31h1v1h-1zM18 31h1v1h-1zM32 31h1v1h-1zM35 31h1v1h-1zM37 31h1v1h-1zM42 31h1v1h-1zM48 31h1v1h-1zM53 31h1v1h-1zM70 31h1v1h-1zM71 31h1v1h-1zM14 32h1v1h-1zM31 32h1v1h-1zM36 32h1v1h-1zM38 32h1v1h-1zM59 32h1v1h-1zM65 32h1v1h-1zM74 32h1v1h-1zM2 33h1v1h-1zM14 33h1v1h-1zM23 33h1v1h-1zM26 33h1v1h-1zM38 33h1v1h-1zM52 33h1v1h-1zM62 33h1v1h-1zM64 33h1v1h-1zM69 33h1v1h-1zM13 34h1v1h-1zM19 34h1v1h-1zM23 34h1v1h-1zM27 34h1v1h-1zM30 34h1v1h-1zM42 34h1v1h-1zM55 34h1v1h-1zM56 34h1v1h-1zM63 34h1v1h-1zM2 35h1v1h-1zM4 35h1v1h-1zM12 35h1v1h-1zM31 35h1v1h-1zM50 35h1v1h-1zM55 35h1v1h-1zM62 35h1v1h-1zM9 36h1v1h-1zM13 36h1v1h-1zM22 36h1v1h-1zM26 36h1v1h-1zM32 36h1v1h-1zM38 36h1v1h-1zM40 36h1v1h-1zM42 36h1v1h-1zM48 36h1v1h-1zM50 36h1v1h-1zM55 36h1v1h-1zM65 36h1v1h-1zM4 37h1v1h-1zM10 37h1v1h-1zM11 37h1v1h-1zM31 37h1v1h-1zM66 37h1v1h-1zM1 38h1v1h-1zM6 38h1v1h-1zM11 38h1v1h-1zM13 38h1v1h-1zM32 38h1v1h-1zM33 38h1v1h-1zM36 38h1v1h-1zM45 38h1v1h-1zM48 38h1v1h-1zM56 38h1v1h-1zM57 38h1v1h-1zM59 38h1v1h-1zM60 38h1v1h-1zM70 38h1v1h-1zM9 39h1v1h-1zM11 39h1v1h-1zM14 39h1v1h-1zM26 39h1v1h-1zM27 39h1v1h-1zM44 39h1v1h-1zM49 39h1v1h-1zM50 39h1v1h-1zM61 39h1v1h-1zM63 39h1v1h-1zM75 39h1v1h-1zM12 40h1v1h-1zM30 40h1v1h-1zM36 40h1v1h-1zM43 40h1v1h-1zM47 40h1v1h-1zM50 40h1v1h-1zM55 40h1v1h-1zM58 40h1v1h-1zM60 40h1v1h-1zM62 40h1v1h-1zM69 40h1v1h-1zM70 40h1v1h-1zM3 41h1v1h-1zM8 41h1v1h-1zM12 41h1v1h-1zM15 41h1v1h-1zM18 41h1v1h-1zM48 41h1v1h-1zM51 41h1v1h-1zM56 41h1v1h-1zM3 42h1v1h-1zM5 42h1v1h-1zM15 42h1v1h-1zM26 42h1v1h-1zM29 42h1v1h-1zM31 42h1v1h-1zM34 42h1v1h-1zM36 42h1v1h-1zM57 42h1v1h-1zM63 42h1v1h-1zM73 42h1v1h-1zM0 43h1v1h-1zM8 43h1v1h-1zM17 43h1v1h-1zM21 43h1v1h-1zM22 43h1v1h-1zM26 43h1v1h-1zM28 43h1v1h-1zM40 43h1v1h-1zM56 43h1v1h-1zM63 43h1v1h-1zM65 43h1v1h-1zM66 43h1v1h-1zM72 43h1v1h-1zM11 44h1v1h-1zM14 44h1v1h-1zM22 44h1v1h-1zM28 44h1v1h-1zM39 44h1v1h-1zM55 44h1v1h-1zM74 44h1v1h-1zM0 45h1v1h-1zM9 45h1v1h-1zM23 45h1v1h-1zM26 45h1v1h-1zM38 45h1v1h-1zM50 45h1v1h-1zM67 45h1v1h-1zM70 45h1v1h-1zM4 46h1v1h-1zM10 46h1v1h-1zM14 46h1v1h-1zM26 46h1v1h-1zM60 46h1v1h-1zM1 47h1v1h-1zM21 47h1v1h-1zM22 47h1v1h-1zM25 47h1v1h-1zM26 47h1v1h-1zM40 47h1v1h-1zM51 47h1v1h-1zM61 47h1v1h-1zM11 48h1v1h-1zM12 48h1v1h-1zM16 48h1v1h-1zM17 48h1v1h-1zM18 48h1v1h-1zM30 48h1v1h-1zM31 48h1v1h-1zM36 48h1v1h-1zM38 48h1v1h-1zM41 48h1v1h-1zM55 48h1v1h-1zM57 48h1v1h-1zM59 48h1v1h-1zM1 49h1v1h-1zM4 49h1v1h-1zM30 49h1v1h-1zM39 49h1v1h-1zM54 49h1v1h-1zM57 49h1v1h-1zM59 49h1v1h-1zM66 49h1v1h-1zM4 50h1v1h-1zM10 50h1v1h-1zM24 50h1v1h-1zM26 50h1v1h-1zM35 50h1v1h-1zM36 50h1v1h-1zM39 50h1v1h-1zM40 50h1v1h-1zM45 50h1v1h-1zM63 50h1v1h-1zM69 50h1v1h-1zM8 51h1v1h-1zM22 51h1v1h-1zM24 51h1v1h-1zM41 51h1v1h-1zM47 51h1v1h-1zM59 51h1v1h-1zM62 51h1v1h-1zM6 52h1v1h-1zM7 52h1v1h-1zM9 52h1v1h-1zM14 52h1v1h-1zM30 52h1v1h-1zM33 52h1v1h-1zM66 52h1v1h-1zM69 52h1v1h-1zM2 53h1v1h-1zM7 53h1v1h-1zM22 53h1v1h-1zM24 53h1v1h-1zM31 53h1v1h-1zM69 53h1v1h-1zM3 54h1v1h-1zM4 54h1v1h-1zM49 54h1v1h-1zM59 54h1v1h-1zM65 54h1v1h-1zM68 54h1v1h-1zM75 54h1v1h-1zM0 55h1v1h-1zM14 55h1v1h-1zM16 55h1v1h-1zM26 55h1v1h-1zM34 55h1v1h-1zM35 55h1v1h-1zM36 55h1v1h-1zM40 55h1v1h-1zM44 55h1v1h-1zM48 55h1v1h-1zM12 56h1v1h-1zM14 56h1v1h-1zM34 56h1v1h-1zM38 56h1v1h-1zM41 56h1v1h-1zM43 56h1v1h-1zM62 56h1v1h-1zM64 56h1v1h-1zM70 56h1v1h-1zM73 56h1v1h-1zM0 57h1v1h-1zM2 57h1v1h-1zM8 57h1v1h-1zM18 57h1v1h-1zM19 57h1v1h-1zM27 57h1v1h-1zM28 57h1v1h-1zM29 57h1v1h-1zM38 57h1v1h-1zM42 57h1v1h-1zM48 57h1v1h-1zM49 57h1v1h-1zM58 57h1v1h-1zM75 57h1v1h-1zM8 58h1v1h-1zM13 58h1v1h-1zM14 58h1v1h-1zM15 58h1v1h-1zM17 58h1v1h-1zM19 58h1v1h-1zM40 58h1v1h-1zM57 58h1v1h-1zM65 58h1v1h-1zM71 58h1v1h-1zM73 58h1v1h-1zM4 59h1v1h-1zM6 59h1v1h-1zM8 59h1v1h-1zM14 59h1v1h-1zM16 59h1v1h-1zM23 59h1v1h-1zM28 59h1v1h-1zM30 59h1v1h-1zM32 59h1v1h-1zM38 59h1v1h-1zM48 59h1v1h-1zM49 59h1v1h-1zM51 59h1v1h-1zM54 59h1v1h-1zM68 59h1v1h-1zM3 60h1v1h-1zM5 60h1v1h-1zM13 60h1v1h-1zM17 60h1v1h-1zM20 60h1v1h-1zM38 60h1v1h-1zM40 60h1v1h-1zM46 60h1v1h-1zM74 60h1v1h-1zM2 61h1v1h-1zM15 61h1v1h-1zM26 61h1v1h-1zM28 61h1v1h-1zM39 61h1v1h-1zM47 61h1v1h-1zM65 61h1v1h-1zM14 62h1v1h-1zM17 62h1v1h-1zM18 62h1v1h-1zM33 62h1v1h-1zM35 62h1v1h-1zM40 62h1v1h-1zM51 62h1v1h-1zM56 62h1v1h-1zM68 62h1v1h-1zM71 62h1v1h-1zM74 62h1v1h-1zM3 63h1v1h-1zM14 63h1v1h-1zM23 63h1v1h-1zM34 63h1v1h-1zM39 63h1v1h-1zM42 63h1v1h-1zM43 63h1v1h-1zM50 63h1v1h-1zM72 63h1v1h-1zM5 64h1v1h-1zM7 64h1v1h-1zM11 64h1v1h-1zM33 64h1v1h-1zM56 64h1v1h-1zM72 64h1v1h-1zM75 64h1v1h-1zM21 65h1v1h-1zM22 65h1v1h-1zM25 65h1v1h-1zM32 65h1v1h-1zM36 65h1v1h-1zM43 65h1v1h-1zM54 65h1v1h-1zM58 65h1v1h-1zM61 65h1v1h-1zM66 65h1v1h-1zM72 65h1v1h-1zM3 66h1v1h-1zM15 66h1v1h-1zM37 66h1v1h-1zM43 66h1v1h-1zM49 66h1v1h-1zM52 66h1v1h-1zM65 66h1v1h-1zM69 66h1v1h-1zM72 66h1v1h-1zM4 67h1v1h-1zM13 67h1v1h-1zM45 67h1v1h-1zM75 67h1v1h-1zM8 68h1v1h-1zM11 68h1v1h-1zM14 68h1v1h-1zM17 68h1v1h-1zM27 68h1v1h-1zM29 68h1v1h-1zM54 68h1v1h-1zM59 68h1v1h-1zM62 68h1v1h-1zM69 68h1v1h-1zM1 69h1v1h-1zM3 69h1v1h-1zM6 69h1v1h-1zM21 69h1v1h-1zM27 69h1v1h-1zM28 69h1v1h-1zM30 69h1v1h-1zM33 69h1v1h-1zM40 69h1v1h-1zM50 69h1v1h-1zM52 69h1v1h-1zM53 69h1v1h-1zM66 69h1v1h-1zM68 69h1v1h-1zM1 70h1v1h-1zM5 70h1v1h-1zM6 70h1v1h-1zM17 70h1v1h-1zM23 70h1v1h-1zM31 70h1v1h-1zM38 70h1v1h-1zM40 70h1v1h-1zM45 70h1v1h-1zM56 70h1v1h-1zM4 71h1v1h-1zM5 71h1v1h-1zM7 71h1v1h-1zM23 71h1v1h-1zM26 71h1v1h-1zM27 71h1v1h-1zM31 71h1v1h-1zM58 71h1v1h-1zM62 71h1v1h-1zM0 72h1v1h-1zM1 72h1v1h-1zM2 72h1v1h-1zM3 72h1v1h-1zM19 72h1v1h-1zM24 72h1v1h-1zM26 72h1v1h-1zM43 72h1v1h-1zM63 72h1v1h-1zM64 72h1v1h-1zM65 72h1v1h-1zM66 72h1v1h-1zM7 73h1v1h-1zM9 73h1v1h-1zM15 73h1v1h-1zM20 73h1v1h-1zM29 73h1v1h-1zM42 73h1v1h-1zM56 73h1v1h-1zM58 73h1v1h-1zM6 74h1v1h-1zM21 74h1v1h-1zM22 74h1v1h-1zM25 74h1v1h-1zM32 74h1v1h-1zM44 74h1v1h-1zM60 74h1v1h-1zM62 74h1v1h-1zM5 75h1v1h-1zM11 75h1v1h-1zM23 75h1v1h-1zM25 75h1v1h-1zM39 75h1v1h-1zM54 75h1v1h-1zM57 75h1v1h-1zM64 75h1v1h-1zM67 75h1v1h-1z"/><path fill="#5893f5" d="M2 0h1v1h-1zM5 0h1v1h-1zM9 0h1v1h-1zM14 0h1v1h-1zM18 0h1v1h-1zM31 0h1v1h-1zM38 0h1v1h-1zM39 0h1v1h-1zM42 0h1v1h-1zM44 0h1v1h-1zM61 0h1v1h-1zM64 0h1v1h-1zM2 1h1v1h-1zM5 1h1v1h-1zM18 1h1v1h-1zM34 1h1v1h-1zM36 1h1v1h-1zM39 1h1v1h-1zM40 1h1v1h-1zM45 1h1v1h-1zM58 1h1v1h-1zM60 1h1v1h-1zM61 1h1v1h-1zM62 1h1v1h-1zM68 1h1v1h-1zM0 2h1v1h-1zM1 2h1v1h-1zM20 2h1v1h-1zM26 2h1v1h-1zM37 2h1v1h-1zM39 2h1v1h-1zM40 2h1v1h-1zM45 2h1v1h-1zM46 2h1v1h-1zM47 2h1v1h-1zM74 2h1v1h-1zM8 3h1v1h-1zM9 3h1v1h-1zM23 3h1v1h-1zM26 3h1v1h-1zM40 3h1v1h-1zM53 3h1v1h-1zM56 3h1v1h-1zM59 3h1v1h-1zM68 3h1v1h-1zM75 3h1v1h-1zM7 4h1v1h-1zM22 4h1v1h-1zM29 4h1v1h-1zM36 4h1v1h-1zM43 4h1v1h-1zM47 4h1v1h-1zM48 4h1v1h-1zM53 4h1v1h-1zM56 4h1v1h-1zM63 4h1v1h-1zM68 4h1v1h-1zM0 5h1v1h-1zM1 5h1v1h-1zM6 5h1v1h-1zM17 5h1v1h-1zM24 5h1v1h-1zM31 5h1v1h-1zM58 5h1v1h-1zM61 5h1v1h-1zM66 5h1v1h-1zM72 5h1v1h-1zM73 5h1v1h-1zM5 6h1v1h-1zM34 6h1v1h-1zM43 6h1v1h-1zM45 6h1v1h-1zM47 6h1v1h-1zM62 6h1v1h-1zM63 6h1v1h-1zM65 6h1v1h-1zM4 7h1v1h-1zM14 7h1v1h-1zM16 7h1v1h-1zM17 7h1v1h-1zM18 7h1v1h-1zM19 7h1v1h-1zM20 7h1v1h-1zM32 7h1v1h-1zM33 7h1v1h-1zM36 7h1v1h-1zM39 7h1v1h-1zM43 7h1v1h-1zM51 7h1v1h-1zM56 7h1v1h-1zM59 7h1v1h-1zM62 7h1v1h-1zM65 7h1v1h-1zM66 7h1v1h-1zM3 8h1v1h-1zM9 8h1v1h-1zM24 8h1v1h-1zM31 8h1v1h-1zM37 8h1v1h-1zM46 8h1v1h-1zM49 8h1v1h-1zM55 8h1v1h-1zM56 8h1v1h-1zM60 8h1v1h-1zM64 8h1v1h-1zM67 8h1v1h-1zM70 8h1v1h-1zM72 8h1v1h-1zM74 8h1v1h-1zM75 8h1v1h-1zM0 9h1v1h-1zM3 9h1v1h-1zM8 9h1v1h-1zM13 9h1v1h-1zM17 9h1v1h-1zM35 9h1v1h-1zM48 9h1v1h-1zM50 9h1v1h-1zM59 9h1v1h-1zM60 9h1v1h-1zM61 9h1v1h-1zM67 9h1v1h-1zM68 9h1v1h-1zM69 9h1v1h-1zM30 10h1v1h-1zM32 10h1v1h-1zM34 10h1v1h-1zM35 10h1v1h-1zM45 10h1v1h-1zM47 10h1v1h-1zM51 10h1v1h-1zM53 10h1v1h-1zM58 10h1v1h-1zM64 10h1v1h-1zM69 10h1v1h-1zM71 10h1v1h-1zM74 10h1v1h-1zM14 11h1v1h-1zM32 11h1v1h-1zM36 11h1v1h-1zM43 11h1v1h-1zM55 11h1v1h-1zM58 11h1v1h-1zM66 11h1v1h-1zM74 11h1v1h-1zM18 12h1v1h-1zM36 12h1v1h-1zM37 12h1v1h-1zM39 12h1v1h-1zM43 12h1v1h-1zM65 12h1v1h-1zM68 12h1v1h-1zM69 12h1v1h-1zM70 12h1v1h-1zM73 12h1v1h-1zM9 13h1v1h-1zM16 13h1v1h-1zM17 13h1v1h-1zM35 13h1v1h-1zM39 13h1v1h-1zM48 13h1v1h-1zM50 13h1v1h-1zM51 13h1v1h-1zM53 13h1v1h-1zM56 13h1v1h-1zM59 13h1v1h-1zM62 13h1v1h-1zM64 13h1v1h-1zM66 13h1v1h-1zM68 13h1v1h-1zM70 13h1v1h-1zM73 13h1v1h-1zM0 14h1v1h-1zM7 14h1v1h-1zM11 14h1v1h-1zM16 14h1v1h-1zM28 14h1v1h-1zM30 14h1v1h-1zM34 14h1v1h-1zM38 14h1v1h-1zM41 14h1v1h-1zM49 14h1v1h-1zM50 14h1v1h-1zM54 14h1v1h-1zM65 14h1v1h-1zM69 14h1v1h-1zM20 15h1v1h-1zM40 15h1v1h-1zM47 15h1v1h-1zM50 15h1v1h-1zM51 15h1v1h-1zM62 15h1v1h-1zM64 15h1v1h-1zM70 15h1v1h-1zM7 16h1v1h-1zM13 16h1v1h-1zM14 16h1v1h-1zM31 16h1v1h-1zM36 16h1v1h-1zM38 16h1v1h-1zM39 16h1v1h-1zM40 16h1v1h-1zM41 16h1v1h-1zM49 16h1v1h-1zM50 16h1v1h-1zM56 16h1v1h-1zM67 16h1v1h-1zM71 16h1v1h-1zM75 16h1v1h-1zM5 17h1v1h-1zM7 17h1v1h-1zM9 17h1v1h-1zM13 17h1v1h-1zM19 17h1v1h-1zM37 17h1v1h-1zM42 17h1v1h-1zM50 17h1v1h-1zM65 17h1v1h-1zM69 17h1v1h-1zM0 18h1v1h-1zM1 18h1v1h-1zM7 18h1v1h-1zM12 18h1v1h-1zM24 18h1v1h-1zM42 18h1v1h-1zM45 18h1v1h-1zM49 18h1v1h-1zM50 18h1v1h-1zM54 18h1v1h-1zM55 18h1v1h-1zM56 18h1v1h-1zM65 18h1v1h-1zM71 18h1v1h-1zM73 18h1v1h-1zM7 19h1v1h-1zM17 19h1v1h-1zM21 19h1v1h-1zM28 19h1v1h-1zM39 19h1v1h-1zM40 19h1v1h-1zM44 19h1v1h-1zM45 19h1v1h-1zM56 19h1v1h-1zM63 19h1v1h-1zM2 20h1v1h-1zM7 20h1v1h-1zM15 20h1v1h-1zM29 20h1v1h-1zM42 20h1v1h-1zM43 20h1v1h-1zM44 20h1v1h-1zM50 20h1v1h-1zM52 20h1v1h-1zM19 21h1v1h-1zM33 21h1v1h-1zM44 21h1v1h-1zM48 21h1v1h-1zM51 21h1v1h-1zM52 21h1v1h-1zM53 21h1v1h-1zM56 21h1v1h-1zM73 21h1v1h-1zM4 22h1v1h-1zM32 22h1v1h-1zM52 22h1v1h-1zM58 22h1v1h-1zM60 22h1v1h-1zM68 22h1v1h-1zM69 22h1v1h-1zM3 23h1v1h-1zM36 23h1v1h-1zM39 23h1v1h-1zM49 23h1v1h-1zM51 23h1v1h-1zM60 23h1v1h-1zM64 23h1v1h-1zM66 23h1v1h-1zM72 23h1v1h-1zM73 23h1v1h-1zM74 23h1v1h-1zM5 24h1v1h-1zM8 24h1v1h-1zM18 24h1v1h-1zM32 24h1v1h-1zM35 24h1v1h-1zM39 24h1v1h-1zM42 24h1v1h-1zM44 24h1v1h-1zM46 24h1v1h-1zM47 24h1v1h-1zM48 24h1v1h-1zM54 24h1v1h-1zM61 24h1v1h-1zM66 24h1v1h-1zM67 24h1v1h-1zM70 24h1v1h-1zM75 24h1v1h-1zM35 25h1v1h-1zM54 25h1v1h-1zM56 25h1v1h-1zM67 25h1v1h-1zM68 25h1v1h-1zM2 26h1v1h-1zM3 26h1v1h-1zM38 26h1v1h-1zM40 26h1v1h-1zM48 26h1v1h-1zM59 26h1v1h-1zM64 26h1v1h-1zM65 26h1v1h-1zM68 26h1v1h-1zM69 26h1v1h-1zM36 27h1v1h-1zM40 27h1v1h-1zM58 27h1v1h-1zM61 27h1v1h-1zM14 28h1v1h-1zM19 28h1v1h-1zM31 28h1v1h-1zM32 28h1v1h-1zM62 28h1v1h-1zM63 28h1v1h-1zM70 28h1v1h-1zM4 29h1v1h-1zM20 29h1v1h-1zM39 29h1v1h-1zM40 29h1v1h-1zM41 29h1v1h-1zM48 29h1v1h-1zM49 29h1v1h-1zM50 29h1v1h-1zM65 29h1v1h-1zM10 30h1v1h-1zM14 30h1v1h-1zM39 30h1v1h-1zM50 30h1v1h-1zM63 30h1v1h-1zM71 30h1v1h-1zM75 30h1v1h-1zM0 31h1v1h-1zM5 31h1v1h-1zM8 31h1v1h-1zM16 31h1v1h-1zM28 31h1v1h-1zM33 31h1v1h-1zM41 31h1v1h-1zM51 31h1v1h-1zM55 31h1v1h-1zM57 31h1v1h-1zM58 31h1v1h-1zM59 31h1v1h-1zM62 31h1v1h-1zM7 32h1v1h-1zM10 32h1v1h-1zM11 32h1v1h-1zM22 32h1v1h-1zM24 32h1v1h-1zM28 32h1v1h-1zM35 32h1v1h-1zM41 32h1v1h-1zM42 32h1v1h-1zM44 32h1v1h-1zM45 32h1v1h-1zM56 32h1v1h-1zM63 32h1v1h-1zM67 32h1v1h-1zM69 32h1v1h-1zM75 32h1v1h-1zM7 33h1v1h-1zM21 33h1v1h-1zM31 33h1v1h-1zM43 33h1v1h-1zM49 33h1v1h-1zM50 33h1v1h-1zM58 33h1v1h-1zM70 33h1v1h-1zM1 34h1v1h-1zM6 34h1v1h-1zM10 34h1v1h-1zM14 34h1v1h-1zM40 34h1v1h-1zM60 34h1v1h-1zM65 34h1v1h-1zM9 35h1v1h-1zM10 35h1v1h-1zM13 35h1v1h-1zM24 35h1v1h-1zM25 35h1v1h-1zM32 35h1v1h-1zM37 35h1v1h-1zM41 35h1v1h-1zM43 35h1v1h-1zM66 35h1v1h-1zM1 36h1v1h-1zM4 36h1v1h-1zM7 36h1v1h-1zM11 36h1v1h-1zM12 36h1v1h-1zM16 36h1v1h-1zM23 36h1v1h-1zM27 36h1v1h-1zM44 36h1v1h-1zM63 36h1v1h-1zM66 36h1v1h-1zM67 36h1v1h-1zM72 36h1v1h-1zM2 37h1v1h-1zM8 37h1v1h-1zM12 37h1v1h-1zM17 37h1v1h-1zM35 37h1v1h-1zM52 37h1v1h-1zM57 37h1v1h-1zM58 37h1v1h-1zM67 37h1v1h-1zM72 37h1v1h-1zM75 37h1v1h-1zM0 38h1v1h-1zM14 38h1v1h-1zM16 38h1v1h-1zM26 38h1v1h-1zM52 38h1v1h-1zM54 38h1v1h-1zM63 38h1v1h-1zM67 38h1v1h-1zM0 39h1v1h-1zM1 39h1v1h-1zM2 39h1v1h-1zM7 39h1v1h-1zM12 39h1v1h-1zM13 39h1v1h-1zM16 39h1v1h-1zM19 39h1v1h-1zM23 39h1v1h-1zM24 39h1v1h-1zM29 39h1v1h-1zM30 39h1v1h-1zM48 39h1v1h-1zM52 39h1v1h-1zM55 39h1v1h-1zM1 40h1v1h-1zM2 40h1v1h-1zM3 40h1v1h-1zM15 40h1v1h-1zM16 40h1v1h-1zM19 40h1v1h-1zM26 40h1v1h-1zM27 40h1v1h-1zM29 40h1v1h-1zM34 40h1v1h-1zM44 40h1v1h-1zM63 40h1v1h-1zM71 40h1v1h-1zM14 41h1v1h-1zM16 41h1v1h-1zM29 41h1v1h-1zM31 41h1v1h-1zM32 41h1v1h-1zM35 41h1v1h-1zM44 41h1v1h-1zM46 41h1v1h-1zM61 41h1v1h-1zM63 41h1v1h-1zM68 41h1v1h-1zM71 41h1v1h-1zM74 41h1v1h-1zM0 42h1v1h-1zM17 42h1v1h-1zM18 42h1v1h-1zM20 42h1v1h-1zM24 42h1v1h-1zM32 42h1v1h-1zM45 42h1v1h-1zM47 42h1v1h-1zM51 42h1v1h-1zM54 42h1v1h-1zM55 42h1v1h-1zM56 42h1v1h-1zM4 43h1v1h-1zM6 43h1v1h-1zM7 43h1v1h-1zM11 43h1v1h-1zM12 43h1v1h-1zM20 43h1v1h-1zM33 43h1v1h-1zM35 43h1v1h-1zM50 43h1v1h-1zM55 43h1v1h-1zM74 43h1v1h-1zM0 44h1v1h-1zM19 44h1v1h-1zM20 44h1v1h-1zM21 44h1v1h-1zM24 44h1v1h-1zM32 44h1v1h-1zM36 44h1v1h-1zM40 44h1v1h-1zM41 44h1v1h-1zM69 44h1v1h-1zM73 44h1v1h-1zM1 45h1v1h-1zM2 45h1v1h-1zM6 45h1v1h-1zM10 45h1v1h-1zM18 45h1v1h-1zM19 45h1v1h-1zM32 45h1v1h-1zM42 45h1v1h-1zM46 45h1v1h-1zM60 45h1v1h-1zM64 45h1v1h-1zM69 45h1v1h-1zM2 46h1v1h-1zM8 46h1v1h-1zM24 46h1v1h-1zM41 46h1v1h-1zM45 46h1v1h-1zM47 46h1v1h-1zM58 46h1v1h-1zM61 46h1v1h-1zM62 46h1v1h-1zM65 46h1v1h-1zM68 46h1v1h-1zM2 47h1v1h-1zM4 47h1v1h-1zM6 47h1v1h-1zM10 47h1v1h-1zM15 47h1v1h-1zM24 47h1v1h-1zM42 47h1v1h-1zM46 47h1v1h-1zM53 47h1v1h-1zM58 47h1v1h-1zM64 47h1v1h-1zM66 47h1v1h-1zM69 47h1v1h-1zM4 48h1v1h-1zM9 48h1v1h-1zM13 48h1v1h-1zM21 48h1v1h-1zM24 48h1v1h-1zM26 48h1v1h-1zM29 48h1v1h-1zM39 48h1v1h-1zM49 48h1v1h-1zM66 48h1v1h-1zM67 48h1v1h-1zM68 48h1v1h-1zM8 49h1v1h-1zM14 49h1v1h-1zM16 49h1v1h-1zM18 49h1v1h-1zM23 49h1v1h-1zM29 49h1v1h-1zM33 49h1v1h-1zM48 49h1v1h-1zM62 49h1v1h-1zM67 49h1v1h-1zM72 49h1v1h-1zM73 49h1v1h-1zM9 50h1v1h-1zM13 50h1v1h-1zM14 50h1v1h-1zM15 50h1v1h-1zM16 50h1v1h-1zM17 50h1v1h-1zM18 50h1v1h-1zM20 50h1v1h-1zM29 50h1v1h-1zM30 50h1v1h-1zM33 50h1v1h-1zM43 50h1v1h-1zM53 50h1v1h-1zM7 51h1v1h-1zM10 51h1v1h-1zM13 51h1v1h-1zM15 51h1v1h-1zM21 51h1v1h-1zM23 51h1v1h-1zM31 51h1v1h-1zM42 51h1v1h-1zM54 51h1v1h-1zM55 51h1v1h-1zM63 51h1v1h-1zM71 51h1v1h-1zM20 52h1v1h-1zM21 52h1v1h-1zM22 52h1v1h-1zM37 52h1v1h-1zM38 52h1v1h-1zM39 52h1v1h-1zM62 52h1v1h-1zM3 53h1v1h-1zM4 53h1v1h-1zM10 53h1v1h-1zM13 53h1v1h-1zM21 53h1v1h-1zM47 53h1v1h-1zM50 53h1v1h-1zM73 53h1v1h-1zM74 53h1v1h-1zM14 54h1v1h-1zM18 54h1v1h-1zM24 54h1v1h-1zM25 54h1v1h-1zM38 54h1v1h-1zM42 54h1v1h-1zM51 54h1v1h-1zM61 54h1v1h-1zM63 54h1v1h-1zM8 55h1v1h-1zM11 55h1v1h-1zM18 55h1v1h-1zM31 55h1v1h-1zM39 55h1v1h-1zM42 55h1v1h-1zM43 55h1v1h-1zM51 55h1v1h-1zM3 56h1v1h-1zM4 56h1v1h-1zM7 56h1v1h-1zM8 56h1v1h-1zM13 56h1v1h-1zM16 56h1v1h-1zM18 56h1v1h-1zM19 56h1v1h-1zM21 56h1v1h-1zM25 56h1v1h-1zM32 56h1v1h-1zM42 56h1v1h-1zM60 56h1v1h-1zM74 56h1v1h-1zM31 57h1v1h-1zM37 57h1v1h-1zM59 57h1v1h-1zM64 57h1v1h-1zM1 58h1v1h-1zM5 58h1v1h-1zM10 58h1v1h-1zM11 58h1v1h-1zM22 58h1v1h-1zM27 58h1v1h-1zM31 58h1v1h-1zM33 58h1v1h-1zM37 58h1v1h-1zM46 58h1v1h-1zM47 58h1v1h-1zM68 58h1v1h-1zM72 58h1v1h-1zM3 59h1v1h-1zM7 59h1v1h-1zM9 59h1v1h-1zM13 59h1v1h-1zM26 59h1v1h-1zM31 59h1v1h-1zM57 59h1v1h-1zM61 59h1v1h-1zM69 59h1v1h-1zM70 59h1v1h-1zM75 59h1v1h-1zM1 60h1v1h-1zM8 60h1v1h-1zM9 60h1v1h-1zM22 60h1v1h-1zM23 60h1v1h-1zM34 60h1v1h-1zM45 60h1v1h-1zM56 60h1v1h-1zM61 60h1v1h-1zM0 61h1v1h-1zM1 61h1v1h-1zM5 61h1v1h-1zM9 61h1v1h-1zM24 61h1v1h-1zM27 61h1v1h-1zM41 61h1v1h-1zM46 61h1v1h-1zM54 61h1v1h-1zM59 61h1v1h-1zM60 61h1v1h-1zM70 61h1v1h-1zM74 61h1v1h-1zM1 62h1v1h-1zM6 62h1v1h-1zM7 62h1v1h-1zM13 62h1v1h-1zM15 62h1v1h-1zM28 62h1v1h-1zM31 62h1v1h-1zM46 62h1v1h-1zM49 62h1v1h-1zM52 62h1v1h-1zM72 62h1v1h-1zM4 63h1v1h-1zM6 63h1v1h-1zM19 63h1v1h-1zM28 63h1v1h-1zM30 63h1v1h-1zM32 63h1v1h-1zM36 63h1v1h-1zM38 63h1v1h-1zM40 63h1v1h-1zM41 63h1v1h-1zM51 63h1v1h-1zM54 63h1v1h-1zM67 63h1v1h-1zM75 63h1v1h-1zM0 64h1v1h-1zM8 64h1v1h-1zM10 64h1v1h-1zM13 64h1v1h-1zM15 64h1v1h-1zM23 64h1v1h-1zM26 64h1v1h-1zM45 64h1v1h-1zM47 64h1v1h-1zM57 64h1v1h-1zM66 64h1v1h-1zM69 64h1v1h-1zM71 64h1v1h-1zM73 64h1v1h-1zM6 65h1v1h-1zM7 65h1v1h-1zM12 65h1v1h-1zM14 65h1v1h-1zM17 65h1v1h-1zM18 65h1v1h-1zM26 65h1v1h-1zM29 65h1v1h-1zM34 65h1v1h-1zM46 65h1v1h-1zM74 65h1v1h-1zM5 66h1v1h-1zM7 66h1v1h-1zM11 66h1v1h-1zM13 66h1v1h-1zM23 66h1v1h-1zM24 66h1v1h-1zM35 66h1v1h-1zM36 66h1v1h-1zM47 66h1v1h-1zM48 66h1v1h-1zM64 66h1v1h-1zM67 66h1v1h-1zM74 66h1v1h-1zM8 67h1v1h-1zM9 67h1v1h-1zM16 67h1v1h-1zM24 67h1v1h-1zM25 67h1v1h-1zM32 67h1v1h-1zM36 67h1v1h-1zM37 67h1v1h-1zM38 67h1v1h-1zM48 67h1v1h-1zM49 67h1v1h-1zM63 67h1v1h-1zM66 67h1v1h-1zM70 67h1v1h-1zM71 67h1v1h-1zM1 68h1v1h-1zM3 68h1v1h-1zM4 68h1v1h-1zM9 68h1v1h-1zM12 68h1v1h-1zM13 68h1v1h-1zM22 68h1v1h-1zM25 68h1v1h-1zM26 68h1v1h-1zM41 68h1v1h-1zM46 68h1v1h-1zM48 68h1v1h-1zM58 68h1v1h-1zM71 68h1v1h-1zM75 68h1v1h-1zM9 69h1v1h-1zM10 69h1v1h-1zM12 69h1v1h-1zM14 69h1v1h-1zM17 69h1v1h-1zM22 69h1v1h-1zM26 69h1v1h-1zM32 69h1v1h-1zM44 69h1v1h-1zM45 69h1v1h-1zM47 69h1v1h-1zM59 69h1v1h-1zM64 69h1v1h-1zM8 70h1v1h-1zM12 70h1v1h-1zM13 70h1v1h-1zM15 70h1v1h-1zM24 70h1v1h-1zM28 70h1v1h-1zM33 70h1v1h-1zM59 70h1v1h-1zM61 70h1v1h-1zM67 70h1v1h-1zM10 71h1v1h-1zM16 71h1v1h-1zM18 71h1v1h-1zM30 71h1v1h-1zM40 71h1v1h-1zM41 71h1v1h-1zM51 71h1v1h-1zM64 71h1v1h-1zM67 71h1v1h-1zM68 71h1v1h-1zM5 72h1v1h-1zM8 72h1v1h-1zM23 72h1v1h-1zM36 72h1v1h-1zM37 72h1v1h-1zM49 72h1v1h-1zM58 72h1v1h-1zM62 72h1v1h-1zM5 73h1v1h-1zM12 73h1v1h-1zM13 73h1v1h-1zM18 73h1v1h-1zM21 73h1v1h-1zM23 73h1v1h-1zM44 73h1v1h-1zM49 73h1v1h-1zM53 73h1v1h-1zM64 73h1v1h-1zM2 74h1v1h-1zM8 74h1v1h-1zM10 74h1v1h-1zM11 74h1v1h-1zM23 74h1v1h-1zM41 74h1v1h-1zM43 74h1v1h-1zM53 74h1v1h-1zM56 74h1v1h-1zM61 74h1v1h-1zM65 74h1v1h-1zM66 74h1v1h-1zM3 75h1v1h-1zM8 75h1v1h-1zM16 75h1v1h-1zM24 75h1v1h-1zM30 75h1v1h-1zM32 75h1v1h-1zM37 75h1v1h-1zM59 75h1v1h-1zM63 75h1v1h-1zM68 75h1v1h-1z"/><path fill="#5c9ff3" d="M4 0h1v1h-1zM17 0h1v1h-1zM21 0h1v1h-1zM36 0h1v1h-1zM40 0h1v1h-1zM41 0h1v1h-1zM46 0h1v1h-1zM49 0h1v1h-1zM56 0h1v1h-1zM59 0h1v1h-1zM60 0h1v1h-1zM69 0h1v1h-1zM20 1h1v1h-1zM32 1h1v1h-1zM37 1h1v1h-1zM44 1h1v1h-1zM51 1h1v1h-1zM54 1h1v1h-1zM56 1h1v1h-1zM57 1h1v1h-1zM73 1h1v1h-1zM75 1h1v1h-1zM3 2h1v1h-1zM6 2h1v1h-1zM15 2h1v1h-1zM19 2h1v1h-1zM25 2h1v1h-1zM41 2h1v1h-1zM48 2h1v1h-1zM50 2h1v1h-1zM62 2h1v1h-1zM65 2h1v1h-1zM71 2h1v1h-1zM2 3h1v1h-1zM4 3h1v1h-1zM5 3h1v1h-1zM15 3h1v1h-1zM46 3h1v1h-1zM52 3h1v1h-1zM58 3h1v1h-1zM64 3h1v1h-1zM71 3h1v1h-1zM0 4h1v1h-1zM3 4h1v1h-1zM10 4h1v1h-1zM21 4h1v1h-1zM34 4h1v1h-1zM41 4h1v1h-1zM52 4h1v1h-1zM55 4h1v1h-1zM64 4h1v1h-1zM66 4h1v1h-1zM74 4h1v1h-1zM75 4h1v1h-1zM3 5h1v1h-1zM11 5h1v1h-1zM15 5h1v1h-1zM19 5h1v1h-1zM26 5h1v1h-1zM35 5h1v1h-1zM36 5h1v1h-1zM44 5h1v1h-1zM45 5h1v1h-1zM46 5h1v1h-1zM50 5h1v1h-1zM53 5h1v1h-1zM54 5h1v1h-1zM55 5h1v1h-1zM56 5h1v1h-1zM65 5h1v1h-1zM2 6h1v1h-1zM20 6h1v1h-1zM26 6h1v1h-1zM37 6h1v1h-1zM50 6h1v1h-1zM51 6h1v1h-1zM58 6h1v1h-1zM60 6h1v1h-1zM64 6h1v1h-1zM75 6h1v1h-1zM13 7h1v1h-1zM28 7h1v1h-1zM38 7h1v1h-1zM42 7h1v1h-1zM61 7h1v1h-1zM72 7h1v1h-1zM74 7h1v1h-1zM19 8h1v1h-1zM20 8h1v1h-1zM26 8h1v1h-1zM28 8h1v1h-1zM44 8h1v1h-1zM47 8h1v1h-1zM50 8h1v1h-1zM52 8h1v1h-1zM61 8h1v1h-1zM73 8h1v1h-1zM15 9h1v1h-1zM22 9h1v1h-1zM27 9h1v1h-1zM28 9h1v1h-1zM31 9h1v1h-1zM37 9h1v1h-1zM40 9h1v1h-1zM72 9h1v1h-1zM4 10h1v1h-1zM13 10h1v1h-1zM15 10h1v1h-1zM16 10h1v1h-1zM18 10h1v1h-1zM26 10h1v1h-1zM27 10h1v1h-1zM33 10h1v1h-1zM38 10h1v1h-1zM42 10h1v1h-1zM57 10h1v1h-1zM62 10h1v1h-1zM63 10h1v1h-1zM65 10h1v1h-1zM67 10h1v1h-1zM73 10h1v1h-1zM5 11h1v1h-1zM18 11h1v1h-1zM24 11h1v1h-1zM31 11h1v1h-1zM35 11h1v1h-1zM46 11h1v1h-1zM47 11h1v1h-1zM53 11h1v1h-1zM54 11h1v1h-1zM59 11h1v1h-1zM62 11h1v1h-1zM70 11h1v1h-1zM13 12h1v1h-1zM16 12h1v1h-1zM20 12h1v1h-1zM21 12h1v1h-1zM33 12h1v1h-1zM57 12h1v1h-1zM7 13h1v1h-1zM10 13h1v1h-1zM12 13h1v1h-1zM19 13h1v1h-1zM22 13h1v1h-1zM37 13h1v1h-1zM46 13h1v1h-1zM54 13h1v1h-1zM61 13h1v1h-1zM74 13h1v1h-1zM25 14h1v1h-1zM29 14h1v1h-1zM48 14h1v1h-1zM60 14h1v1h-1zM61 14h1v1h-1zM73 14h1v1h-1zM2 15h1v1h-1zM3 15h1v1h-1zM5 15h1v1h-1zM9 15h1v1h-1zM10 15h1v1h-1zM17 15h1v1h-1zM18 15h1v1h-1zM45 15h1v1h-1zM46 15h1v1h-1zM48 15h1v1h-1zM52 15h1v1h-1zM56 15h1v1h-1zM59 15h1v1h-1zM63 15h1v1h-1zM10 16h1v1h-1zM12 16h1v1h-1zM35 16h1v1h-1zM44 16h1v1h-1zM53 16h1v1h-1zM64 16h1v1h-1zM65 16h1v1h-1zM68 16h1v1h-1zM74 16h1v1h-1zM0 17h1v1h-1zM15 17h1v1h-1zM22 17h1v1h-1zM36 17h1v1h-1zM40 17h1v1h-1zM41 17h1v1h-1zM44 17h1v1h-1zM61 17h1v1h-1zM10 18h1v1h-1zM11 18h1v1h-1zM15 18h1v1h-1zM33 18h1v1h-1zM35 18h1v1h-1zM39 18h1v1h-1zM58 18h1v1h-1zM68 18h1v1h-1zM2 19h1v1h-1zM5 19h1v1h-1zM8 19h1v1h-1zM13 19h1v1h-1zM24 19h1v1h-1zM35 19h1v1h-1zM46 19h1v1h-1zM47 19h1v1h-1zM66 19h1v1h-1zM67 19h1v1h-1zM74 19h1v1h-1zM1 20h1v1h-1zM6 20h1v1h-1zM8 20h1v1h-1zM12 20h1v1h-1zM24 20h1v1h-1zM31 20h1v1h-1zM47 20h1v1h-1zM59 20h1v1h-1zM64 20h1v1h-1zM75 20h1v1h-1zM0 21h1v1h-1zM4 21h1v1h-1zM12 21h1v1h-1zM27 21h1v1h-1zM30 21h1v1h-1zM31 21h1v1h-1zM35 21h1v1h-1zM40 21h1v1h-1zM41 21h1v1h-1zM49 21h1v1h-1zM59 21h1v1h-1zM60 21h1v1h-1zM67 21h1v1h-1zM71 21h1v1h-1zM72 21h1v1h-1zM9 22h1v1h-1zM13 22h1v1h-1zM17 22h1v1h-1zM38 22h1v1h-1zM40 22h1v1h-1zM48 22h1v1h-1zM61 22h1v1h-1zM75 22h1v1h-1zM41 23h1v1h-1zM48 23h1v1h-1zM53 23h1v1h-1zM54 23h1v1h-1zM69 23h1v1h-1zM11 24h1v1h-1zM19 24h1v1h-1zM20 24h1v1h-1zM27 24h1v1h-1zM36 24h1v1h-1zM43 24h1v1h-1zM45 24h1v1h-1zM49 24h1v1h-1zM52 24h1v1h-1zM59 24h1v1h-1zM73 24h1v1h-1zM2 25h1v1h-1zM14 25h1v1h-1zM39 25h1v1h-1zM46 25h1v1h-1zM50 25h1v1h-1zM60 25h1v1h-1zM64 25h1v1h-1zM70 25h1v1h-1zM5 26h1v1h-1zM6 26h1v1h-1zM8 26h1v1h-1zM10 26h1v1h-1zM51 26h1v1h-1zM53 26h1v1h-1zM54 26h1v1h-1zM56 26h1v1h-1zM63 26h1v1h-1zM74 26h1v1h-1zM9 27h1v1h-1zM10 27h1v1h-1zM21 27h1v1h-1zM24 27h1v1h-1zM38 27h1v1h-1zM46 27h1v1h-1zM55 27h1v1h-1zM59 27h1v1h-1zM62 27h1v1h-1zM64 27h1v1h-1zM72 27h1v1h-1zM7 28h1v1h-1zM8 28h1v1h-1zM9 28h1v1h-1zM38 28h1v1h-1zM45 28h1v1h-1zM51 28h1v1h-1zM53 28h1v1h-1zM56 28h1v1h-1zM68 28h1v1h-1zM72 28h1v1h-1zM14 29h1v1h-1zM36 29h1v1h-1zM43 29h1v1h-1zM54 29h1v1h-1zM56 29h1v1h-1zM66 29h1v1h-1zM67 29h1v1h-1zM69 29h1v1h-1zM70 29h1v1h-1zM75 29h1v1h-1zM21 30h1v1h-1zM35 30h1v1h-1zM37 30h1v1h-1zM47 30h1v1h-1zM65 30h1v1h-1zM67 30h1v1h-1zM74 30h1v1h-1zM9 31h1v1h-1zM11 31h1v1h-1zM20 31h1v1h-1zM21 31h1v1h-1zM52 31h1v1h-1zM56 31h1v1h-1zM64 31h1v1h-1zM66 31h1v1h-1zM67 31h1v1h-1zM1 32h1v1h-1zM50 32h1v1h-1zM64 32h1v1h-1zM10 33h1v1h-1zM12 33h1v1h-1zM18 33h1v1h-1zM34 33h1v1h-1zM35 33h1v1h-1zM40 33h1v1h-1zM41 33h1v1h-1zM54 33h1v1h-1zM57 33h1v1h-1zM66 33h1v1h-1zM71 33h1v1h-1zM72 33h1v1h-1zM74 33h1v1h-1zM4 34h1v1h-1zM33 34h1v1h-1zM35 34h1v1h-1zM37 34h1v1h-1zM39 34h1v1h-1zM44 34h1v1h-1zM47 34h1v1h-1zM69 34h1v1h-1zM71 34h1v1h-1zM5 35h1v1h-1zM11 35h1v1h-1zM16 35h1v1h-1zM18 35h1v1h-1zM19 35h1v1h-1zM21 35h1v1h-1zM30 35h1v1h-1zM33 35h1v1h-1zM34 35h1v1h-1zM46 35h1v1h-1zM53 35h1v1h-1zM74 35h1v1h-1zM0 36h1v1h-1zM5 36h1v1h-1zM17 36h1v1h-1zM24 36h1v1h-1zM29 36h1v1h-1zM45 36h1v1h-1zM62 36h1v1h-1zM68 36h1v1h-1zM75 36h1v1h-1zM1 37h1v1h-1zM6 37h1v1h-1zM9 37h1v1h-1zM13 37h1v1h-1zM30 37h1v1h-1zM34 37h1v1h-1zM61 37h1v1h-1zM63 37h1v1h-1zM68 37h1v1h-1zM69 37h1v1h-1zM7 38h1v1h-1zM10 38h1v1h-1zM22 38h1v1h-1zM27 38h1v1h-1zM28 38h1v1h-1zM46 38h1v1h-1zM53 38h1v1h-1zM18 39h1v1h-1zM25 39h1v1h-1zM34 39h1v1h-1zM40 39h1v1h-1zM51 39h1v1h-1zM64 39h1v1h-1zM70 39h1v1h-1zM72 39h1v1h-1zM0 40h1v1h-1zM9 40h1v1h-1zM17 40h1v1h-1zM21 40h1v1h-1zM22 40h1v1h-1zM33 40h1v1h-1zM39 40h1v1h-1zM45 40h1v1h-1zM59 40h1v1h-1zM73 40h1v1h-1zM0 41h1v1h-1zM2 41h1v1h-1zM4 41h1v1h-1zM17 41h1v1h-1zM21 41h1v1h-1zM23 41h1v1h-1zM33 41h1v1h-1zM45 41h1v1h-1zM58 41h1v1h-1zM62 41h1v1h-1zM70 41h1v1h-1zM72 41h1v1h-1zM7 42h1v1h-1zM10 42h1v1h-1zM48 42h1v1h-1zM50 42h1v1h-1zM69 42h1v1h-1zM75 42h1v1h-1zM24 43h1v1h-1zM29 43h1v1h-1zM45 43h1v1h-1zM47 43h1v1h-1zM53 43h1v1h-1zM59 43h1v1h-1zM1 44h1v1h-1zM5 44h1v1h-1zM8 44h1v1h-1zM16 44h1v1h-1zM17 44h1v1h-1zM34 44h1v1h-1zM51 44h1v1h-1zM53 44h1v1h-1zM66 44h1v1h-1zM67 44h1v1h-1zM70 44h1v1h-1zM71 44h1v1h-1zM75 44h1v1h-1zM5 45h1v1h-1zM15 45h1v1h-1zM24 45h1v1h-1zM28 45h1v1h-1zM36 45h1v1h-1zM40 45h1v1h-1zM41 45h1v1h-1zM43 45h1v1h-1zM49 45h1v1h-1zM53 45h1v1h-1zM58 45h1v1h-1zM62 45h1v1h-1zM74 45h1v1h-1zM75 45h1v1h-1zM0 46h1v1h-1zM3 46h1v1h-1zM5 46h1v1h-1zM11 46h1v1h-1zM13 46h1v1h-1zM15 46h1v1h-1zM19 46h1v1h-1zM25 46h1v1h-1zM27 46h1v1h-1zM35 46h1v1h-1zM38 46h1v1h-1zM54 46h1v1h-1zM55 46h1v1h-1zM8 47h1v1h-1zM11 47h1v1h-1zM19 47h1v1h-1zM20 47h1v1h-1zM30 47h1v1h-1zM34 47h1v1h-1zM43 47h1v1h-1zM49 47h1v1h-1zM56 47h1v1h-1zM73 47h1v1h-1zM75 47h1v1h-1zM2 48h1v1h-1zM14 48h1v1h-1zM15 48h1v1h-1zM22 48h1v1h-1zM23 48h1v1h-1zM42 48h1v1h-1zM58 48h1v1h-1zM70 48h1v1h-1zM0 49h1v1h-1zM21 49h1v1h-1zM24 49h1v1h-1zM45 49h1v1h-1zM47 49h1v1h-1zM50 49h1v1h-1zM56 49h1v1h-1zM65 49h1v1h-1zM2 50h1v1h-1zM5 50h1v1h-1zM6 50h1v1h-1zM8 50h1v1h-1zM25 50h1v1h-1zM32 50h1v1h-1zM42 50h1v1h-1zM49 50h1v1h-1zM72 50h1v1h-1zM1 51h1v1h-1zM6 51h1v1h-1zM26 51h1v1h-1zM28 51h1v1h-1zM39 51h1v1h-1zM44 51h1v1h-1zM73 51h1v1h-1zM3 52h1v1h-1zM4 52h1v1h-1zM8 52h1v1h-1zM15 52h1v1h-1zM24 52h1v1h-1zM31 52h1v1h-1zM55 52h1v1h-1zM56 52h1v1h-1zM59 52h1v1h-1zM65 52h1v1h-1zM72 52h1v1h-1zM75 52h1v1h-1zM5 53h1v1h-1zM11 53h1v1h-1zM16 53h1v1h-1zM23 53h1v1h-1zM26 53h1v1h-1zM28 53h1v1h-1zM35 53h1v1h-1zM38 53h1v1h-1zM43 53h1v1h-1zM44 53h1v1h-1zM45 53h1v1h-1zM63 53h1v1h-1zM70 53h1v1h-1zM75 53h1v1h-1zM1 54h1v1h-1zM5 54h1v1h-1zM11 54h1v1h-1zM13 54h1v1h-1zM23 54h1v1h-1zM26 54h1v1h-1zM29 54h1v1h-1zM33 54h1v1h-1zM46 54h1v1h-1zM62 54h1v1h-1zM66 54h1v1h-1zM70 54h1v1h-1zM73 54h1v1h-1zM74 54h1v1h-1zM4 55h1v1h-1zM5 55h1v1h-1zM27 55h1v1h-1zM46 55h1v1h-1zM52 55h1v1h-1zM67 55h1v1h-1zM68 55h1v1h-1zM69 55h1v1h-1zM70 55h1v1h-1zM0 56h1v1h-1zM1 56h1v1h-1zM5 56h1v1h-1zM15 56h1v1h-1zM26 56h1v1h-1zM28 56h1v1h-1zM29 56h1v1h-1zM31 56h1v1h-1zM47 56h1v1h-1zM49 56h1v1h-1zM52 56h1v1h-1zM61 56h1v1h-1zM1 57h1v1h-1zM10 57h1v1h-1zM12 57h1v1h-1zM33 57h1v1h-1zM65 57h1v1h-1zM66 57h1v1h-1zM70 57h1v1h-1zM74 57h1v1h-1zM3 58h1v1h-1zM6 58h1v1h-1zM18 58h1v1h-1zM41 58h1v1h-1zM45 58h1v1h-1zM48 58h1v1h-1zM61 58h1v1h-1zM63 58h1v1h-1zM64 58h1v1h-1zM0 59h1v1h-1zM11 59h1v1h-1zM15 59h1v1h-1zM20 59h1v1h-1zM21 59h1v1h-1zM24 59h1v1h-1zM27 59h1v1h-1zM40 59h1v1h-1zM43 59h1v1h-1zM52 59h1v1h-1zM72 59h1v1h-1zM0 60h1v1h-1zM6 60h1v1h-1zM14 60h1v1h-1zM21 60h1v1h-1zM25 60h1v1h-1zM65 60h1v1h-1zM66 60h1v1h-1zM7 61h1v1h-1zM8 61h1v1h-1zM13 61h1v1h-1zM14 61h1v1h-1zM17 61h1v1h-1zM22 61h1v1h-1zM37 61h1v1h-1zM56 61h1v1h-1zM58 61h1v1h-1zM69 61h1v1h-1zM72 61h1v1h-1zM73 61h1v1h-1zM2 62h1v1h-1zM10 62h1v1h-1zM11 62h1v1h-1zM27 62h1v1h-1zM36 62h1v1h-1zM41 62h1v1h-1zM45 62h1v1h-1zM54 62h1v1h-1zM64 62h1v1h-1zM66 62h1v1h-1zM69 62h1v1h-1zM73 62h1v1h-1zM75 62h1v1h-1zM10 63h1v1h-1zM15 63h1v1h-1zM26 63h1v1h-1zM37 63h1v1h-1zM53 63h1v1h-1zM58 63h1v1h-1zM68 63h1v1h-1zM74 63h1v1h-1zM3 64h1v1h-1zM4 64h1v1h-1zM6 64h1v1h-1zM16 64h1v1h-1zM20 64h1v1h-1zM25 64h1v1h-1zM27 64h1v1h-1zM31 64h1v1h-1zM32 64h1v1h-1zM39 64h1v1h-1zM58 64h1v1h-1zM62 64h1v1h-1zM68 64h1v1h-1zM74 64h1v1h-1zM2 65h1v1h-1zM5 65h1v1h-1zM10 65h1v1h-1zM16 65h1v1h-1zM30 65h1v1h-1zM49 65h1v1h-1zM52 65h1v1h-1zM57 65h1v1h-1zM60 65h1v1h-1zM69 65h1v1h-1zM4 66h1v1h-1zM19 66h1v1h-1zM29 66h1v1h-1zM31 66h1v1h-1zM33 66h1v1h-1zM44 66h1v1h-1zM54 66h1v1h-1zM57 66h1v1h-1zM60 66h1v1h-1zM62 66h1v1h-1zM70 66h1v1h-1zM71 66h1v1h-1zM73 66h1v1h-1zM10 67h1v1h-1zM19 67h1v1h-1zM21 67h1v1h-1zM29 67h1v1h-1zM30 67h1v1h-1zM31 67h1v1h-1zM44 67h1v1h-1zM55 67h1v1h-1zM16 68h1v1h-1zM18 68h1v1h-1zM28 68h1v1h-1zM36 68h1v1h-1zM37 68h1v1h-1zM55 68h1v1h-1zM63 68h1v1h-1zM64 68h1v1h-1zM0 69h1v1h-1zM23 69h1v1h-1zM29 69h1v1h-1zM34 69h1v1h-1zM37 69h1v1h-1zM42 69h1v1h-1zM55 69h1v1h-1zM61 69h1v1h-1zM62 69h1v1h-1zM65 69h1v1h-1zM11 70h1v1h-1zM25 70h1v1h-1zM29 70h1v1h-1zM39 70h1v1h-1zM41 70h1v1h-1zM44 70h1v1h-1zM48 70h1v1h-1zM53 70h1v1h-1zM54 70h1v1h-1zM55 70h1v1h-1zM57 70h1v1h-1zM66 70h1v1h-1zM2 71h1v1h-1zM3 71h1v1h-1zM21 71h1v1h-1zM33 71h1v1h-1zM34 71h1v1h-1zM44 71h1v1h-1zM66 71h1v1h-1zM7 72h1v1h-1zM9 72h1v1h-1zM21 72h1v1h-1zM27 72h1v1h-1zM28 72h1v1h-1zM33 72h1v1h-1zM39 72h1v1h-1zM41 72h1v1h-1zM50 72h1v1h-1zM52 72h1v1h-1zM59 72h1v1h-1zM61 72h1v1h-1zM1 73h1v1h-1zM8 73h1v1h-1zM10 73h1v1h-1zM14 73h1v1h-1zM24 73h1v1h-1zM40 73h1v1h-1zM47 73h1v1h-1zM51 73h1v1h-1zM54 73h1v1h-1zM61 73h1v1h-1zM62 73h1v1h-1zM66 73h1v1h-1zM4 74h1v1h-1zM7 74h1v1h-1zM13 74h1v1h-1zM16 74h1v1h-1zM19 74h1v1h-1zM26 74h1v1h-1zM30 74h1v1h-1zM33 74h1v1h-1zM35 74h1v1h-1zM45 74h1v1h-1zM54 74h1v1h-1zM57 74h1v1h-1zM63 74h1v1h-1zM64 74h1v1h-1zM1 75h1v1h-1zM4 75h1v1h-1zM6 75h1v1h-1zM20 75h1v1h-1zM22 75h1v1h-1zM29 75h1v1h-1zM36 75h1v1h-1zM42 75h1v1h-1zM44 75h1v1h-1zM45 75h1v1h-1zM47 75h1v1h-1zM52 75h1v1h-1zM53 75h1v1h-1zM62 75h1v1h-1z"/><path fill="#60aaf2" d="M11 0h1v1h-1zM12 0h1v1h-1zM22 0h1v1h-1zM35 0h1v1h-1zM53 0h1v1h-1zM67 0h1v1h-1zM71 0h1v1h-1zM3 1h1v1h-1zM9 1h1v1h-1zM11 1h1v1h-1zM25 1h1v1h-1zM46 1h1v1h-1zM67 1h1v1h-1zM34 2h1v1h-1zM43 2h1v1h-1zM44 2h1v1h-1zM51 2h1v1h-1zM52 2h1v1h-1zM63 2h1v1h-1zM64 2h1v1h-1zM66 2h1v1h-1zM68 2h1v1h-1zM70 2h1v1h-1zM75 2h1v1h-1zM1 3h1v1h-1zM10 3h1v1h-1zM17 3h1v1h-1zM18 3h1v1h-1zM34 3h1v1h-1zM35 3h1v1h-1zM44 3h1v1h-1zM65 3h1v1h-1zM70 3h1v1h-1zM74 3h1v1h-1zM5 4h1v1h-1zM8 4h1v1h-1zM12 4h1v1h-1zM13 4h1v1h-1zM28 4h1v1h-1zM45 4h1v1h-1zM57 4h1v1h-1zM58 4h1v1h-1zM61 4h1v1h-1zM72 4h1v1h-1zM4 5h1v1h-1zM7 5h1v1h-1zM25 5h1v1h-1zM30 5h1v1h-1zM41 5h1v1h-1zM48 5h1v1h-1zM51 5h1v1h-1zM10 6h1v1h-1zM12 6h1v1h-1zM36 6h1v1h-1zM41 6h1v1h-1zM49 6h1v1h-1zM54 6h1v1h-1zM57 6h1v1h-1zM67 6h1v1h-1zM71 6h1v1h-1zM5 7h1v1h-1zM40 7h1v1h-1zM44 7h1v1h-1zM49 7h1v1h-1zM63 7h1v1h-1zM69 7h1v1h-1zM75 7h1v1h-1zM4 8h1v1h-1zM11 8h1v1h-1zM33 8h1v1h-1zM36 8h1v1h-1zM40 8h1v1h-1zM48 8h1v1h-1zM53 8h1v1h-1zM63 8h1v1h-1zM69 8h1v1h-1zM1 9h1v1h-1zM14 9h1v1h-1zM18 9h1v1h-1zM25 9h1v1h-1zM53 9h1v1h-1zM54 9h1v1h-1zM56 9h1v1h-1zM62 9h1v1h-1zM63 9h1v1h-1zM70 9h1v1h-1zM3 10h1v1h-1zM6 10h1v1h-1zM19 10h1v1h-1zM21 10h1v1h-1zM28 10h1v1h-1zM40 10h1v1h-1zM48 10h1v1h-1zM52 10h1v1h-1zM66 10h1v1h-1zM68 10h1v1h-1zM72 10h1v1h-1zM75 10h1v1h-1zM0 11h1v1h-1zM1 11h1v1h-1zM8 11h1v1h-1zM34 11h1v1h-1zM40 11h1v1h-1zM51 11h1v1h-1zM52 11h1v1h-1zM57 11h1v1h-1zM63 11h1v1h-1zM73 11h1v1h-1zM0 12h1v1h-1zM4 12h1v1h-1zM6 12h1v1h-1zM17 12h1v1h-1zM23 12h1v1h-1zM24 12h1v1h-1zM34 12h1v1h-1zM38 12h1v1h-1zM42 12h1v1h-1zM51 12h1v1h-1zM54 12h1v1h-1zM55 12h1v1h-1zM60 12h1v1h-1zM61 12h1v1h-1zM67 12h1v1h-1zM4 13h1v1h-1zM40 13h1v1h-1zM55 13h1v1h-1zM9 14h1v1h-1zM17 14h1v1h-1zM21 14h1v1h-1zM43 14h1v1h-1zM45 14h1v1h-1zM47 14h1v1h-1zM51 14h1v1h-1zM64 14h1v1h-1zM67 14h1v1h-1zM70 14h1v1h-1zM16 15h1v1h-1zM21 15h1v1h-1zM37 15h1v1h-1zM39 15h1v1h-1zM60 15h1v1h-1zM74 15h1v1h-1zM75 15h1v1h-1zM15 16h1v1h-1zM17 16h1v1h-1zM23 16h1v1h-1zM26 16h1v1h-1zM43 16h1v1h-1zM46 16h1v1h-1zM62 16h1v1h-1zM66 16h1v1h-1zM69 16h1v1h-1zM72 16h1v1h-1zM3 17h1v1h-1zM12 17h1v1h-1zM14 17h1v1h-1zM16 17h1v1h-1zM32 17h1v1h-1zM39 17h1v1h-1zM46 17h1v1h-1zM55 17h1v1h-1zM56 17h1v1h-1zM67 17h1v1h-1zM3 18h1v1h-1zM9 18h1v1h-1zM19 18h1v1h-1zM21 18h1v1h-1zM22 18h1v1h-1zM25 18h1v1h-1zM59 18h1v1h-1zM60 18h1v1h-1zM63 18h1v1h-1zM72 18h1v1h-1zM74 18h1v1h-1zM75 18h1v1h-1zM10 19h1v1h-1zM18 19h1v1h-1zM30 19h1v1h-1zM38 19h1v1h-1zM43 19h1v1h-1zM60 19h1v1h-1zM61 19h1v1h-1zM69 19h1v1h-1zM73 19h1v1h-1zM25 20h1v1h-1zM37 20h1v1h-1zM39 20h1v1h-1zM51 20h1v1h-1zM53 20h1v1h-1zM55 20h1v1h-1zM58 20h1v1h-1zM61 20h1v1h-1zM63 20h1v1h-1zM68 20h1v1h-1zM70 20h1v1h-1zM72 20h1v1h-1zM10 21h1v1h-1zM14 21h1v1h-1zM15 21h1v1h-1zM18 21h1v1h-1zM22 21h1v1h-1zM34 21h1v1h-1zM42 21h1v1h-1zM46 21h1v1h-1zM0 22h1v1h-1zM18 22h1v1h-1zM21 22h1v1h-1zM30 22h1v1h-1zM41 22h1v1h-1zM46 22h1v1h-1zM54 22h1v1h-1zM63 22h1v1h-1zM64 22h1v1h-1zM67 22h1v1h-1zM71 22h1v1h-1zM12 23h1v1h-1zM16 23h1v1h-1zM32 23h1v1h-1zM35 23h1v1h-1zM37 23h1v1h-1zM42 23h1v1h-1zM55 23h1v1h-1zM56 23h1v1h-1zM58 23h1v1h-1zM65 23h1v1h-1zM67 23h1v1h-1zM68 23h1v1h-1zM12 24h1v1h-1zM26 24h1v1h-1zM34 24h1v1h-1zM41 24h1v1h-1zM56 24h1v1h-1zM60 24h1v1h-1zM63 24h1v1h-1zM65 24h1v1h-1zM69 24h1v1h-1zM74 24h1v1h-1zM1 25h1v1h-1zM5 25h1v1h-1zM9 25h1v1h-1zM18 25h1v1h-1zM20 25h1v1h-1zM27 25h1v1h-1zM34 25h1v1h-1zM38 25h1v1h-1zM42 25h1v1h-1zM44 25h1v1h-1zM48 25h1v1h-1zM51 25h1v1h-1zM53 25h1v1h-1zM58 25h1v1h-1zM61 25h1v1h-1zM66 25h1v1h-1zM16 26h1v1h-1zM24 26h1v1h-1zM30 26h1v1h-1zM31 26h1v1h-1zM34 26h1v1h-1zM35 26h1v1h-1zM41 26h1v1h-1zM44 26h1v1h-1zM57 26h1v1h-1zM58 26h1v1h-1zM62 26h1v1h-1zM25 27h1v1h-1zM31 27h1v1h-1zM42 27h1v1h-1zM51 27h1v1h-1zM53 27h1v1h-1zM66 27h1v1h-1zM73 27h1v1h-1zM75 27h1v1h-1zM4 28h1v1h-1zM10 28h1v1h-1zM34 28h1v1h-1zM35 28h1v1h-1zM37 28h1v1h-1zM40 28h1v1h-1zM46 28h1v1h-1zM48 28h1v1h-1zM50 28h1v1h-1zM54 28h1v1h-1zM60 28h1v1h-1zM65 28h1v1h-1zM73 28h1v1h-1zM74 28h1v1h-1zM34 29h1v1h-1zM45 29h1v1h-1zM46 29h1v1h-1zM51 29h1v1h-1zM52 29h1v1h-1zM58 29h1v1h-1zM60 29h1v1h-1zM5 30h1v1h-1zM19 30h1v1h-1zM22 30h1v1h-1zM26 30h1v1h-1zM42 30h1v1h-1zM43 30h1v1h-1zM53 30h1v1h-1zM55 30h1v1h-1zM26 31h1v1h-1zM27 31h1v1h-1zM36 31h1v1h-1zM47 31h1v1h-1zM49 31h1v1h-1zM50 31h1v1h-1zM54 31h1v1h-1zM60 31h1v1h-1zM61 31h1v1h-1zM68 31h1v1h-1zM69 31h1v1h-1zM72 31h1v1h-1zM17 32h1v1h-1zM23 32h1v1h-1zM33 32h1v1h-1zM43 32h1v1h-1zM55 32h1v1h-1zM62 32h1v1h-1zM68 32h1v1h-1zM72 32h1v1h-1zM8 33h1v1h-1zM32 33h1v1h-1zM36 33h1v1h-1zM46 33h1v1h-1zM47 33h1v1h-1zM51 33h1v1h-1zM61 33h1v1h-1zM63 33h1v1h-1zM73 33h1v1h-1zM2 34h1v1h-1zM3 34h1v1h-1zM11 34h1v1h-1zM12 34h1v1h-1zM21 34h1v1h-1zM24 34h1v1h-1zM25 34h1v1h-1zM26 34h1v1h-1zM28 34h1v1h-1zM29 34h1v1h-1zM36 34h1v1h-1zM38 34h1v1h-1zM43 34h1v1h-1zM45 34h1v1h-1zM52 34h1v1h-1zM62 34h1v1h-1zM74 34h1v1h-1zM75 34h1v1h-1zM0 35h1v1h-1zM3 35h1v1h-1zM23 35h1v1h-1zM26 35h1v1h-1zM28 35h1v1h-1zM39 35h1v1h-1zM45 35h1v1h-1zM47 35h1v1h-1zM61 35h1v1h-1zM63 35h1v1h-1zM65 35h1v1h-1zM69 35h1v1h-1zM72 35h1v1h-1zM75 35h1v1h-1zM6 36h1v1h-1zM8 36h1v1h-1zM31 36h1v1h-1zM33 36h1v1h-1zM34 36h1v1h-1zM39 36h1v1h-1zM41 36h1v1h-1zM43 36h1v1h-1zM46 36h1v1h-1zM49 36h1v1h-1zM51 36h1v1h-1zM59 36h1v1h-1zM71 36h1v1h-1zM15 37h1v1h-1zM20 37h1v1h-1zM23 37h1v1h-1zM28 37h1v1h-1zM38 37h1v1h-1zM39 37h1v1h-1zM40 37h1v1h-1zM41 37h1v1h-1zM42 37h1v1h-1zM50 37h1v1h-1zM54 37h1v1h-1zM59 37h1v1h-1zM60 37h1v1h-1zM64 37h1v1h-1zM71 37h1v1h-1zM12 38h1v1h-1zM19 38h1v1h-1zM25 38h1v1h-1zM34 38h1v1h-1zM37 38h1v1h-1zM44 38h1v1h-1zM50 38h1v1h-1zM55 38h1v1h-1zM65 38h1v1h-1zM15 39h1v1h-1zM17 39h1v1h-1zM20 39h1v1h-1zM35 39h1v1h-1zM36 39h1v1h-1zM37 39h1v1h-1zM43 39h1v1h-1zM56 39h1v1h-1zM60 39h1v1h-1zM66 39h1v1h-1zM67 39h1v1h-1zM68 39h1v1h-1zM7 40h1v1h-1zM8 40h1v1h-1zM10 40h1v1h-1zM11 40h1v1h-1zM13 40h1v1h-1zM28 40h1v1h-1zM37 40h1v1h-1zM57 40h1v1h-1zM64 40h1v1h-1zM65 40h1v1h-1zM74 40h1v1h-1zM5 41h1v1h-1zM6 41h1v1h-1zM22 41h1v1h-1zM24 41h1v1h-1zM26 41h1v1h-1zM36 41h1v1h-1zM37 41h1v1h-1zM43 41h1v1h-1zM47 41h1v1h-1zM53 41h1v1h-1zM60 41h1v1h-1zM75 41h1v1h-1zM12 42h1v1h-1zM21 42h1v1h-1zM23 42h1v1h-1zM25 42h1v1h-1zM27 42h1v1h-1zM30 42h1v1h-1zM37 42h1v1h-1zM52 42h1v1h-1zM60 42h1v1h-1zM67 42h1v1h-1zM68 42h1v1h-1zM70 42h1v1h-1zM71 42h1v1h-1zM2 43h1v1h-1zM14 43h1v1h-1zM16 43h1v1h-1zM19 43h1v1h-1zM30 43h1v1h-1zM32 43h1v1h-1zM34 43h1v1h-1zM36 43h1v1h-1zM39 43h1v1h-1zM41 43h1v1h-1zM49 43h1v1h-1zM61 43h1v1h-1zM70 43h1v1h-1zM71 43h1v1h-1zM2 44h1v1h-1zM3 44h1v1h-1zM7 44h1v1h-1zM25 44h1v1h-1zM26 44h1v1h-1zM38 44h1v1h-1zM54 44h1v1h-1zM62 44h1v1h-1zM65 44h1v1h-1zM68 44h1v1h-1zM4 45h1v1h-1zM14 45h1v1h-1zM29 45h1v1h-1zM34 45h1v1h-1zM35 45h1v1h-1zM51 45h1v1h-1zM57 45h1v1h-1zM1 46h1v1h-1zM16 46h1v1h-1zM17 46h1v1h-1zM21 46h1v1h-1zM22 46h1v1h-1zM28 46h1v1h-1zM29 46h1v1h-1zM33 46h1v1h-1zM36 46h1v1h-1zM75 46h1v1h-1zM14 47h1v1h-1zM31 47h1v1h-1zM33 47h1v1h-1zM35 47h1v1h-1zM41 47h1v1h-1zM48 47h1v1h-1zM57 47h1v1h-1zM62 47h1v1h-1zM71 47h1v1h-1zM72 47h1v1h-1zM74 47h1v1h-1zM5 48h1v1h-1zM8 48h1v1h-1zM10 48h1v1h-1zM25 48h1v1h-1zM28 48h1v1h-1zM47 48h1v1h-1zM51 48h1v1h-1zM56 48h1v1h-1zM75 48h1v1h-1zM6 49h1v1h-1zM7 49h1v1h-1zM31 49h1v1h-1zM36 49h1v1h-1zM43 49h1v1h-1zM55 49h1v1h-1zM68 49h1v1h-1zM28 50h1v1h-1zM31 50h1v1h-1zM37 50h1v1h-1zM38 50h1v1h-1zM51 50h1v1h-1zM55 50h1v1h-1zM60 50h1v1h-1zM61 50h1v1h-1zM65 50h1v1h-1zM68 50h1v1h-1zM73 50h1v1h-1zM2 51h1v1h-1zM5 51h1v1h-1zM11 51h1v1h-1zM12 51h1v1h-1zM14 51h1v1h-1zM20 51h1v1h-1zM25 51h1v1h-1zM27 51h1v1h-1zM29 51h1v1h-1zM33 51h1v1h-1zM36 51h1v1h-1zM45 51h1v1h-1zM48 51h1v1h-1zM50 51h1v1h-1zM65 51h1v1h-1zM67 51h1v1h-1zM2 52h1v1h-1zM10 52h1v1h-1zM11 52h1v1h-1zM29 52h1v1h-1zM34 52h1v1h-1zM42 52h1v1h-1zM53 52h1v1h-1zM58 52h1v1h-1zM60 52h1v1h-1zM70 52h1v1h-1zM71 52h1v1h-1zM0 53h1v1h-1zM8 53h1v1h-1zM9 53h1v1h-1zM20 53h1v1h-1zM25 53h1v1h-1zM27 53h1v1h-1zM30 53h1v1h-1zM41 53h1v1h-1zM52 53h1v1h-1zM57 53h1v1h-1zM59 53h1v1h-1zM64 53h1v1h-1zM66 53h1v1h-1zM71 53h1v1h-1zM72 53h1v1h-1zM6 54h1v1h-1zM9 54h1v1h-1zM12 54h1v1h-1zM22 54h1v1h-1zM28 54h1v1h-1zM31 54h1v1h-1zM37 54h1v1h-1zM44 54h1v1h-1zM55 54h1v1h-1zM57 54h1v1h-1zM58 54h1v1h-1zM64 54h1v1h-1zM12 55h1v1h-1zM13 55h1v1h-1zM17 55h1v1h-1zM20 55h1v1h-1zM23 55h1v1h-1zM30 55h1v1h-1zM32 55h1v1h-1zM38 55h1v1h-1zM49 55h1v1h-1zM50 55h1v1h-1zM54 55h1v1h-1zM74 55h1v1h-1zM9 56h1v1h-1zM17 56h1v1h-1zM23 56h1v1h-1zM24 56h1v1h-1zM39 56h1v1h-1zM48 56h1v1h-1zM59 56h1v1h-1zM66 56h1v1h-1zM67 56h1v1h-1zM69 56h1v1h-1zM4 57h1v1h-1zM6 57h1v1h-1zM11 57h1v1h-1zM26 57h1v1h-1zM40 57h1v1h-1zM45 57h1v1h-1zM47 57h1v1h-1zM53 57h1v1h-1zM54 57h1v1h-1zM61 57h1v1h-1zM68 57h1v1h-1zM71 57h1v1h-1zM72 57h1v1h-1zM4 58h1v1h-1zM20 58h1v1h-1zM23 58h1v1h-1zM25 58h1v1h-1zM26 58h1v1h-1zM29 58h1v1h-1zM52 58h1v1h-1zM54 58h1v1h-1zM74 58h1v1h-1zM18 59h1v1h-1zM36 59h1v1h-1zM37 59h1v1h-1zM53 59h1v1h-1zM56 59h1v1h-1zM64 59h1v1h-1zM67 59h1v1h-1zM12 60h1v1h-1zM15 60h1v1h-1zM18 60h1v1h-1zM19 60h1v1h-1zM24 60h1v1h-1zM28 60h1v1h-1zM29 60h1v1h-1zM31 60h1v1h-1zM37 60h1v1h-1zM39 60h1v1h-1zM41 60h1v1h-1zM42 60h1v1h-1zM50 60h1v1h-1zM52 60h1v1h-1zM63 60h1v1h-1zM71 60h1v1h-1zM4 61h1v1h-1zM12 61h1v1h-1zM19 61h1v1h-1zM20 61h1v1h-1zM25 61h1v1h-1zM31 61h1v1h-1zM33 61h1v1h-1zM35 61h1v1h-1zM43 61h1v1h-1zM50 61h1v1h-1zM57 61h1v1h-1zM68 61h1v1h-1zM9 62h1v1h-1zM16 62h1v1h-1zM26 62h1v1h-1zM32 62h1v1h-1zM34 62h1v1h-1zM44 62h1v1h-1zM47 62h1v1h-1zM65 62h1v1h-1zM67 62h1v1h-1zM2 63h1v1h-1zM7 63h1v1h-1zM8 63h1v1h-1zM9 63h1v1h-1zM11 63h1v1h-1zM18 63h1v1h-1zM20 63h1v1h-1zM22 63h1v1h-1zM24 63h1v1h-1zM33 63h1v1h-1zM35 63h1v1h-1zM60 63h1v1h-1zM2 64h1v1h-1zM14 64h1v1h-1zM22 64h1v1h-1zM37 64h1v1h-1zM40 64h1v1h-1zM53 64h1v1h-1zM54 64h1v1h-1zM59 64h1v1h-1zM3 65h1v1h-1zM23 65h1v1h-1zM24 65h1v1h-1zM28 65h1v1h-1zM35 65h1v1h-1zM38 65h1v1h-1zM40 65h1v1h-1zM44 65h1v1h-1zM50 65h1v1h-1zM51 65h1v1h-1zM62 65h1v1h-1zM70 65h1v1h-1zM71 65h1v1h-1zM2 66h1v1h-1zM10 66h1v1h-1zM16 66h1v1h-1zM25 66h1v1h-1zM27 66h1v1h-1zM39 66h1v1h-1zM53 66h1v1h-1zM56 66h1v1h-1zM68 66h1v1h-1zM75 66h1v1h-1zM0 67h1v1h-1zM1 67h1v1h-1zM6 67h1v1h-1zM12 67h1v1h-1zM14 67h1v1h-1zM17 67h1v1h-1zM22 67h1v1h-1zM23 67h1v1h-1zM39 67h1v1h-1zM42 67h1v1h-1zM51 67h1v1h-1zM56 67h1v1h-1zM59 67h1v1h-1zM62 67h1v1h-1zM69 67h1v1h-1zM2 68h1v1h-1zM10 68h1v1h-1zM20 68h1v1h-1zM23 68h1v1h-1zM31 68h1v1h-1zM32 68h1v1h-1zM39 68h1v1h-1zM42 68h1v1h-1zM44 68h1v1h-1zM49 68h1v1h-1zM50 68h1v1h-1zM57 68h1v1h-1zM61 68h1v1h-1zM66 68h1v1h-1zM72 68h1v1h-1zM7 69h1v1h-1zM8 69h1v1h-1zM16 69h1v1h-1zM19 69h1v1h-1zM24 69h1v1h-1zM31 69h1v1h-1zM35 69h1v1h-1zM56 69h1v1h-1zM67 69h1v1h-1zM2 70h1v1h-1zM3 70h1v1h-1zM9 70h1v1h-1zM14 70h1v1h-1zM20 70h1v1h-1zM42 70h1v1h-1zM43 70h1v1h-1zM52 70h1v1h-1zM65 70h1v1h-1zM0 71h1v1h-1zM6 71h1v1h-1zM22 71h1v1h-1zM36 71h1v1h-1zM37 71h1v1h-1zM42 71h1v1h-1zM43 71h1v1h-1zM47 71h1v1h-1zM52 71h1v1h-1zM53 71h1v1h-1zM57 71h1v1h-1zM60 71h1v1h-1zM65 71h1v1h-1zM4 72h1v1h-1zM10 72h1v1h-1zM16 72h1v1h-1zM18 72h1v1h-1zM20 72h1v1h-1zM31 72h1v1h-1zM32 72h1v1h-1zM35 72h1v1h-1zM47 72h1v1h-1zM53 72h1v1h-1zM57 72h1v1h-1zM68 72h1v1h-1zM11 73h1v1h-1zM19 73h1v1h-1zM27 73h1v1h-1zM28 73h1v1h-1zM33 73h1v1h-1zM50 73h1v1h-1zM3 74h1v1h-1zM15 74h1v1h-1zM18 74h1v1h-1zM24 74h1v1h-1zM28 74h1v1h-1zM34 74h1v1h-1zM40 74h1v1h-1zM47 74h1v1h-1zM55 74h1v1h-1zM58 74h1v1h-1zM2 75h1v1h-1zM7 75h1v1h-1zM10 75h1v1h-1zM15 75h1v1h-1zM18 75h1v1h-1zM27 75h1v1h-1zM34 75h1v1h-1zM35 75h1v1h-1zM41 75h1v1h-1zM46 75h1v1h-1zM48 75h1v1h-1zM66 75h1v1h-1z"/><path fill="#64b5f0" d="M26 0h1v1h-1zM47 0h1v1h-1zM51 0h1v1h-1zM52 0h1v1h-1zM54 0h1v1h-1zM63 0h1v1h-1zM68 0h1v1h-1zM75 0h1v1h-1zM4 1h1v1h-1zM27 1h1v1h-1zM41 1h1v1h-1zM43 1h1v1h-1zM50 1h1v1h-1zM59 1h1v1h-1zM21 2h1v1h-1zM59 2h1v1h-1zM22 3h1v1h-1zM25 3h1v1h-1zM57 3h1v1h-1zM73 3h1v1h-1zM1 4h1v1h-1zM33 5h1v1h-1zM19 6h1v1h-1zM23 6h1v1h-1zM39 6h1v1h-1zM53 6h1v1h-1zM72 6h1v1h-1zM12 7h1v1h-1zM47 7h1v1h-1zM50 7h1v1h-1zM60 7h1v1h-1zM29 8h1v1h-1zM45 8h1v1h-1zM11 9h1v1h-1zM34 9h1v1h-1zM42 9h1v1h-1zM44 9h1v1h-1zM51 9h1v1h-1zM65 9h1v1h-1zM66 9h1v1h-1zM75 9h1v1h-1zM12 10h1v1h-1zM36 10h1v1h-1zM59 10h1v1h-1zM9 11h1v1h-1zM16 11h1v1h-1zM23 11h1v1h-1zM33 11h1v1h-1zM41 11h1v1h-1zM69 11h1v1h-1zM71 11h1v1h-1zM7 12h1v1h-1zM10 12h1v1h-1zM44 12h1v1h-1zM50 12h1v1h-1zM52 12h1v1h-1zM59 12h1v1h-1zM62 12h1v1h-1zM14 13h1v1h-1zM49 13h1v1h-1zM57 13h1v1h-1zM63 13h1v1h-1zM13 14h1v1h-1zM37 14h1v1h-1zM42 14h1v1h-1zM53 14h1v1h-1zM57 14h1v1h-1zM71 14h1v1h-1zM74 14h1v1h-1zM75 14h1v1h-1zM36 15h1v1h-1zM67 15h1v1h-1zM69 15h1v1h-1zM11 16h1v1h-1zM20 16h1v1h-1zM33 16h1v1h-1zM54 16h1v1h-1zM60 16h1v1h-1zM63 16h1v1h-1zM20 17h1v1h-1zM35 17h1v1h-1zM45 17h1v1h-1zM49 17h1v1h-1zM53 17h1v1h-1zM54 17h1v1h-1zM57 17h1v1h-1zM72 17h1v1h-1zM73 17h1v1h-1zM75 17h1v1h-1zM30 18h1v1h-1zM32 18h1v1h-1zM38 18h1v1h-1zM43 18h1v1h-1zM61 18h1v1h-1zM6 19h1v1h-1zM16 20h1v1h-1zM17 20h1v1h-1zM41 20h1v1h-1zM48 20h1v1h-1zM69 20h1v1h-1zM2 21h1v1h-1zM26 21h1v1h-1zM45 21h1v1h-1zM61 21h1v1h-1zM66 21h1v1h-1zM3 22h1v1h-1zM37 22h1v1h-1zM49 22h1v1h-1zM59 22h1v1h-1zM73 22h1v1h-1zM6 23h1v1h-1zM11 23h1v1h-1zM44 23h1v1h-1zM46 23h1v1h-1zM25 24h1v1h-1zM57 24h1v1h-1zM3 25h1v1h-1zM24 25h1v1h-1zM40 25h1v1h-1zM57 25h1v1h-1zM62 25h1v1h-1zM72 25h1v1h-1zM0 26h1v1h-1zM21 26h1v1h-1zM32 26h1v1h-1zM37 26h1v1h-1zM75 26h1v1h-1zM1 27h1v1h-1zM35 27h1v1h-1zM45 27h1v1h-1zM56 27h1v1h-1zM55 28h1v1h-1zM64 28h1v1h-1zM66 28h1v1h-1zM8 29h1v1h-1zM33 29h1v1h-1zM64 29h1v1h-1zM18 30h1v1h-1zM36 30h1v1h-1zM34 31h1v1h-1zM43 31h1v1h-1zM46 31h1v1h-1zM63 31h1v1h-1zM18 32h1v1h-1zM26 32h1v1h-1zM34 32h1v1h-1zM39 32h1v1h-1zM47 32h1v1h-1zM51 32h1v1h-1zM71 32h1v1h-1zM5 33h1v1h-1zM11 33h1v1h-1zM16 33h1v1h-1zM29 33h1v1h-1zM53 33h1v1h-1zM56 33h1v1h-1zM59 33h1v1h-1zM9 34h1v1h-1zM31 34h1v1h-1zM32 34h1v1h-1zM70 34h1v1h-1zM17 35h1v1h-1zM27 35h1v1h-1zM51 35h1v1h-1zM54 35h1v1h-1zM58 35h1v1h-1zM71 35h1v1h-1zM10 36h1v1h-1zM15 36h1v1h-1zM30 36h1v1h-1zM47 36h1v1h-1zM52 36h1v1h-1zM14 37h1v1h-1zM22 37h1v1h-1zM26 37h1v1h-1zM53 37h1v1h-1zM18 38h1v1h-1zM43 38h1v1h-1zM47 38h1v1h-1zM61 38h1v1h-1zM68 38h1v1h-1zM69 38h1v1h-1zM73 38h1v1h-1zM6 39h1v1h-1zM32 39h1v1h-1zM42 39h1v1h-1zM45 39h1v1h-1zM46 39h1v1h-1zM47 39h1v1h-1zM57 39h1v1h-1zM62 39h1v1h-1zM69 39h1v1h-1zM25 40h1v1h-1zM54 40h1v1h-1zM75 40h1v1h-1zM1 41h1v1h-1zM11 41h1v1h-1zM20 41h1v1h-1zM50 41h1v1h-1zM9 42h1v1h-1zM14 42h1v1h-1zM39 42h1v1h-1zM59 42h1v1h-1zM62 42h1v1h-1zM64 42h1v1h-1zM72 42h1v1h-1zM1 43h1v1h-1zM18 43h1v1h-1zM31 43h1v1h-1zM38 43h1v1h-1zM51 43h1v1h-1zM9 44h1v1h-1zM12 44h1v1h-1zM23 44h1v1h-1zM49 44h1v1h-1zM57 44h1v1h-1zM72 44h1v1h-1zM8 45h1v1h-1zM17 45h1v1h-1zM21 45h1v1h-1zM27 45h1v1h-1zM39 45h1v1h-1zM59 45h1v1h-1zM23 46h1v1h-1zM31 46h1v1h-1zM39 46h1v1h-1zM50 46h1v1h-1zM51 46h1v1h-1zM64 46h1v1h-1zM70 46h1v1h-1zM72 46h1v1h-1zM73 46h1v1h-1zM74 46h1v1h-1zM0 47h1v1h-1zM7 47h1v1h-1zM32 47h1v1h-1zM36 47h1v1h-1zM38 47h1v1h-1zM39 47h1v1h-1zM52 47h1v1h-1zM54 47h1v1h-1zM59 47h1v1h-1zM20 48h1v1h-1zM61 48h1v1h-1zM65 48h1v1h-1zM13 49h1v1h-1zM17 49h1v1h-1zM22 49h1v1h-1zM44 49h1v1h-1zM60 49h1v1h-1zM61 49h1v1h-1zM63 49h1v1h-1zM70 49h1v1h-1zM1 50h1v1h-1zM7 50h1v1h-1zM12 50h1v1h-1zM41 50h1v1h-1zM46 50h1v1h-1zM59 50h1v1h-1zM64 50h1v1h-1zM70 50h1v1h-1zM75 50h1v1h-1zM0 51h1v1h-1zM9 51h1v1h-1zM32 51h1v1h-1zM35 51h1v1h-1zM43 51h1v1h-1zM46 51h1v1h-1zM56 51h1v1h-1zM69 51h1v1h-1zM75 51h1v1h-1zM0 52h1v1h-1zM12 52h1v1h-1zM36 52h1v1h-1zM47 52h1v1h-1zM57 52h1v1h-1zM68 52h1v1h-1zM73 52h1v1h-1zM6 53h1v1h-1zM14 53h1v1h-1zM17 53h1v1h-1zM33 53h1v1h-1zM37 53h1v1h-1zM62 53h1v1h-1zM67 53h1v1h-1zM0 54h1v1h-1zM16 54h1v1h-1zM17 54h1v1h-1zM35 54h1v1h-1zM40 54h1v1h-1zM47 54h1v1h-1zM71 54h1v1h-1zM28 55h1v1h-1zM73 55h1v1h-1zM27 56h1v1h-1zM33 56h1v1h-1zM51 56h1v1h-1zM72 56h1v1h-1zM75 56h1v1h-1zM3 57h1v1h-1zM13 57h1v1h-1zM14 57h1v1h-1zM17 57h1v1h-1zM24 57h1v1h-1zM25 57h1v1h-1zM39 57h1v1h-1zM44 57h1v1h-1zM52 57h1v1h-1zM67 57h1v1h-1zM35 58h1v1h-1zM60 58h1v1h-1zM66 58h1v1h-1zM70 58h1v1h-1zM1 59h1v1h-1zM2 59h1v1h-1zM10 59h1v1h-1zM12 59h1v1h-1zM22 59h1v1h-1zM33 59h1v1h-1zM42 59h1v1h-1zM45 59h1v1h-1zM47 59h1v1h-1zM50 59h1v1h-1zM62 59h1v1h-1zM7 60h1v1h-1zM16 60h1v1h-1zM49 60h1v1h-1zM58 60h1v1h-1zM69 60h1v1h-1zM73 60h1v1h-1zM75 60h1v1h-1zM18 61h1v1h-1zM21 61h1v1h-1zM38 61h1v1h-1zM48 61h1v1h-1zM49 61h1v1h-1zM67 61h1v1h-1zM12 62h1v1h-1zM25 62h1v1h-1zM39 62h1v1h-1zM42 62h1v1h-1zM53 62h1v1h-1zM59 62h1v1h-1zM0 63h1v1h-1zM13 63h1v1h-1zM16 63h1v1h-1zM31 63h1v1h-1zM49 63h1v1h-1zM66 63h1v1h-1zM28 64h1v1h-1zM29 64h1v1h-1zM42 64h1v1h-1zM46 64h1v1h-1zM50 64h1v1h-1zM9 65h1v1h-1zM48 65h1v1h-1zM9 66h1v1h-1zM21 66h1v1h-1zM28 66h1v1h-1zM58 66h1v1h-1zM63 66h1v1h-1zM15 67h1v1h-1zM53 67h1v1h-1zM57 67h1v1h-1zM61 67h1v1h-1zM0 68h1v1h-1zM38 68h1v1h-1zM52 68h1v1h-1zM11 69h1v1h-1zM15 69h1v1h-1zM20 69h1v1h-1zM38 69h1v1h-1zM39 69h1v1h-1zM51 69h1v1h-1zM60 69h1v1h-1zM34 70h1v1h-1zM46 70h1v1h-1zM49 70h1v1h-1zM50 70h1v1h-1zM58 70h1v1h-1zM11 71h1v1h-1zM14 71h1v1h-1zM32 71h1v1h-1zM35 71h1v1h-1zM54 71h1v1h-1zM6 72h1v1h-1zM17 72h1v1h-1zM25 72h1v1h-1zM42 72h1v1h-1zM44 72h1v1h-1zM46 72h1v1h-1zM56 72h1v1h-1zM3 73h1v1h-1zM17 73h1v1h-1zM22 73h1v1h-1zM38 73h1v1h-1zM46 73h1v1h-1zM52 73h1v1h-1zM55 73h1v1h-1zM60 73h1v1h-1zM14 74h1v1h-1zM46 74h1v1h-1zM0 75h1v1h-1zM9 75h1v1h-1zM14 75h1v1h-1zM17 75h1v1h-1zM26 75h1v1h-1zM40 75h1v1h-1zM50 75h1v1h-1zM51 75h1v1h-1zM56 75h1v1h-1zM60 75h1v1h-1z"/><path fill="#67beef" d="M3 0h1v1h-1zM24 0h1v1h-1zM8 1h1v1h-1zM12 1h1v1h-1zM66 1h1v1h-1zM0 3h1v1h-1zM62 3h1v1h-1zM51 4h1v1h-1zM43 5h1v1h-1zM22 7h1v1h-1zM70 7h1v1h-1zM1 8h1v1h-1zM23 8h1v1h-1zM34 8h1v1h-1zM74 9h1v1h-1zM43 10h1v1h-1zM54 10h1v1h-1zM42 11h1v1h-1zM50 11h1v1h-1zM1 12h1v1h-1zM47 12h1v1h-1zM49 12h1v1h-1zM36 14h1v1h-1zM28 17h1v1h-1zM47 17h1v1h-1zM36 18h1v1h-1zM24 21h1v1h-1zM39 21h1v1h-1zM7 22h1v1h-1zM39 22h1v1h-1zM8 23h1v1h-1zM0 24h1v1h-1zM21 24h1v1h-1zM17 28h1v1h-1zM39 31h1v1h-1zM57 32h1v1h-1zM44 33h1v1h-1zM8 34h1v1h-1zM14 36h1v1h-1zM18 36h1v1h-1zM62 38h1v1h-1zM21 39h1v1h-1zM22 39h1v1h-1zM31 39h1v1h-1zM11 42h1v1h-1zM5 43h1v1h-1zM10 43h1v1h-1zM46 43h1v1h-1zM33 44h1v1h-1zM56 44h1v1h-1zM43 46h1v1h-1zM12 47h1v1h-1zM17 47h1v1h-1zM62 48h1v1h-1zM73 48h1v1h-1zM12 49h1v1h-1zM58 49h1v1h-1zM11 50h1v1h-1zM4 51h1v1h-1zM10 54h1v1h-1zM44 56h1v1h-1zM32 57h1v1h-1zM49 58h1v1h-1zM3 62h1v1h-1zM38 62h1v1h-1zM48 62h1v1h-1zM75 65h1v1h-1zM1 66h1v1h-1zM7 70h1v1h-1zM48 73h1v1h-1zM9 74h1v1h-1zM65 75h1v1h-1z"/><path fill="#6bc8ee" d="M71 15h1v1h-1zM54 19h1v1h-1zM54 48h1v1h-1zM19 54h1v1h-1zM48 54h1v1h-1zM66 61h1v1h-1zM61 66h1v1h-1zM15 71h1v1h-1z"/><path fill="#6ed2ed" d="M6 3h1v1h-1zM30 3h1v1h-1zM3 6h1v1h-1zM66 18h1v1h-1zM3 30h1v1h-1zM54 36h1v1h-1zM36 54h1v1h-1zM18 66h1v1h-1z"/><path fill="#71dbec" d="M66 22h1v1h-1zM39 28h1v1h-1zM28 39h1v1h-1zM53 40h1v1h-1zM44 43h1v1h-1zM43 44h1v1h-1zM46 44h1v1h-1zM44 46h1v1h-1zM40 53h1v1h-1zM72 54h1v1h-1zM71 59h1v1h-1zM22 66h1v1h-1zM59 71h1v1h-1zM54 72h1v1h-1z"/><path fill="#73e2e7" d="M29 0h1v1h-1zM63 1h1v1h-1zM49 9h1v1h-1zM24 13h1v1h-1zM32 15h1v1h-1zM49 19h1v1h-1zM13 24h1v1h-1zM28 24h1v1h-1zM52 26h1v1h-1zM24 28h1v1h-1zM0 29h1v1h-1zM15 32h1v1h-1zM48 34h1v1h-1zM34 48h1v1h-1zM9 49h1v1h-1zM19 49h1v1h-1zM26 52h1v1h-1zM1 63h1v1h-1zM73 70h1v1h-1zM70 73h1v1h-1z"/><path fill="#75e4dc" d="M8 0h1v1h-1zM29 3h1v1h-1zM14 4h1v1h-1zM33 4h1v1h-1zM40 5h1v1h-1zM29 6h1v1h-1zM0 8h1v1h-1zM32 8h1v1h-1zM57 9h1v1h-1zM25 11h1v1h-1zM29 11h1v1h-1zM44 13h1v1h-1zM4 14h1v1h-1zM19 14h1v1h-1zM25 15h1v1h-1zM27 15h1v1h-1zM45 16h1v1h-1zM27 18h1v1h-1zM14 19h1v1h-1zM20 19h1v1h-1zM27 19h1v1h-1zM19 20h1v1h-1zM28 20h1v1h-1zM33 22h1v1h-1zM62 22h1v1h-1zM25 23h1v1h-1zM52 23h1v1h-1zM11 25h1v1h-1zM15 25h1v1h-1zM23 25h1v1h-1zM27 26h1v1h-1zM15 27h1v1h-1zM18 27h1v1h-1zM19 27h1v1h-1zM26 27h1v1h-1zM20 28h1v1h-1zM3 29h1v1h-1zM6 29h1v1h-1zM11 29h1v1h-1zM31 29h1v1h-1zM29 31h1v1h-1zM8 32h1v1h-1zM4 33h1v1h-1zM22 33h1v1h-1zM46 34h1v1h-1zM53 39h1v1h-1zM5 40h1v1h-1zM66 40h1v1h-1zM66 41h1v1h-1zM52 43h1v1h-1zM57 43h1v1h-1zM13 44h1v1h-1zM45 44h1v1h-1zM16 45h1v1h-1zM44 45h1v1h-1zM66 45h1v1h-1zM34 46h1v1h-1zM66 46h1v1h-1zM50 47h1v1h-1zM51 49h1v1h-1zM64 49h1v1h-1zM47 50h1v1h-1zM49 51h1v1h-1zM23 52h1v1h-1zM43 52h1v1h-1zM39 53h1v1h-1zM61 53h1v1h-1zM9 57h1v1h-1zM43 57h1v1h-1zM60 57h1v1h-1zM57 60h1v1h-1zM53 61h1v1h-1zM22 62h1v1h-1zM49 64h1v1h-1zM67 65h1v1h-1zM40 66h1v1h-1zM41 66h1v1h-1zM45 66h1v1h-1zM46 66h1v1h-1zM65 67h1v1h-1zM74 70h1v1h-1zM70 74h1v1h-1z"/><path fill="#76e7d1" d="M6 0h1v1h-1zM7 0h1v1h-1zM14 1h1v1h-1zM15 4h1v1h-1zM17 4h1v1h-1zM62 5h1v1h-1zM0 6h1v1h-1zM0 7h1v1h-1zM30 8h1v1h-1zM1 14h1v1h-1zM20 14h1v1h-1zM4 15h1v1h-1zM26 15h1v1h-1zM4 17h1v1h-1zM22 19h1v1h-1zM14 20h1v1h-1zM58 21h1v1h-1zM19 22h1v1h-1zM24 22h1v1h-1zM22 24h1v1h-1zM31 25h1v1h-1zM15 26h1v1h-1zM28 26h1v1h-1zM63 27h1v1h-1zM26 28h1v1h-1zM8 30h1v1h-1zM51 30h1v1h-1zM25 31h1v1h-1zM56 36h1v1h-1zM57 36h1v1h-1zM41 39h1v1h-1zM39 41h1v1h-1zM43 42h1v1h-1zM46 42h1v1h-1zM42 43h1v1h-1zM47 44h1v1h-1zM71 45h1v1h-1zM72 45h1v1h-1zM42 46h1v1h-1zM44 47h1v1h-1zM68 47h1v1h-1zM50 48h1v1h-1zM48 50h1v1h-1zM30 51h1v1h-1zM36 56h1v1h-1zM36 57h1v1h-1zM62 57h1v1h-1zM21 58h1v1h-1zM5 62h1v1h-1zM57 62h1v1h-1zM27 63h1v1h-1zM47 68h1v1h-1zM45 71h1v1h-1zM45 72h1v1h-1z"/><path fill="#77e9c6" d="M1 0h1v1h-1zM0 1h1v1h-1zM7 6h1v1h-1zM17 6h1v1h-1zM6 7h1v1h-1zM16 9h1v1h-1zM72 13h1v1h-1zM9 16h1v1h-1zM6 17h1v1h-1zM30 23h1v1h-1zM48 27h1v1h-1zM71 29h1v1h-1zM23 30h1v1h-1zM64 35h1v1h-1zM37 36h1v1h-1zM36 37h1v1h-1zM54 39h1v1h-1zM68 40h1v1h-1zM48 45h1v1h-1zM27 48h1v1h-1zM45 48h1v1h-1zM71 50h1v1h-1zM39 54h1v1h-1zM70 62h1v1h-1zM35 64h1v1h-1zM40 68h1v1h-1zM62 70h1v1h-1zM29 71h1v1h-1zM50 71h1v1h-1zM13 72h1v1h-1z"/><path fill="#79ebba" d="M23 0h1v1h-1zM74 0h1v1h-1zM16 5h1v1h-1zM30 6h1v1h-1zM40 14h1v1h-1zM5 16h1v1h-1zM50 19h1v1h-1zM0 23h1v1h-1zM6 30h1v1h-1zM14 40h1v1h-1zM69 46h1v1h-1zM19 50h1v1h-1zM65 59h1v1h-1zM59 65h1v1h-1zM46 69h1v1h-1zM0 74h1v1h-1z"/><path fill="#7fecaa" d="M69 2h1v1h-1zM48 3h1v1h-1zM8 5h1v1h-1zM5 8h1v1h-1zM21 8h1v1h-1zM56 10h1v1h-1zM41 13h1v1h-1zM25 17h1v1h-1zM29 18h1v1h-1zM37 19h1v1h-1zM8 21h1v1h-1zM17 25h1v1h-1zM18 29h1v1h-1zM70 30h1v1h-1zM56 35h1v1h-1zM19 37h1v1h-1zM51 38h1v1h-1zM13 41h1v1h-1zM3 48h1v1h-1zM38 51h1v1h-1zM66 51h1v1h-1zM10 56h1v1h-1zM35 56h1v1h-1zM70 60h1v1h-1zM51 66h1v1h-1zM2 69h1v1h-1zM30 70h1v1h-1zM60 70h1v1h-1z"/><path fill="#84ed9a" d="M38 9h1v1h-1zM32 29h1v1h-1zM31 30h1v1h-1zM30 31h1v1h-1zM29 32h1v1h-1zM46 32h1v1h-1zM49 32h1v1h-1zM9 38h1v1h-1zM32 46h1v1h-1zM53 48h1v1h-1zM32 49h1v1h-1zM48 53h1v1h-1z"/><path fill="#89ee8a" d="M42 2h1v1h-1zM25 4h1v1h-1zM31 4h1v1h-1zM4 25h1v1h-1zM4 31h1v1h-1zM53 32h1v1h-1zM73 37h1v1h-1zM2 42h1v1h-1zM32 53h1v1h-1zM37 73h1v1h-1z"/><path fill="#92ee7b" d="M67 35h1v1h-1zM35 67h1v1h-1z"/><path fill="#9eef6e" d="M58 9h1v1h-1zM9 58h1v1h-1z"/><path fill="#aaef61" d="M18 2h1v1h-1zM20 5h1v1h-1zM15 6h1v1h-1zM45 13h1v1h-1zM6 15h1v1h-1zM30 15h1v1h-1zM25 16h1v1h-1zM2 18h1v1h-1zM20 18h1v1h-1zM26 19h1v1h-1zM5 20h1v1h-1zM18 20h1v1h-1zM29 22h1v1h-1zM50 23h1v1h-1zM16 25h1v1h-1zM19 26h1v1h-1zM22 29h1v1h-1zM15 30h1v1h-1zM32 30h1v1h-1zM30 32h1v1h-1zM48 35h1v1h-1zM67 43h1v1h-1zM13 45h1v1h-1zM35 48h1v1h-1zM23 50h1v1h-1zM67 52h1v1h-1zM67 54h1v1h-1zM65 56h1v1h-1zM62 58h1v1h-1zM58 62h1v1h-1zM56 65h1v1h-1zM43 67h1v1h-1zM52 67h1v1h-1zM54 67h1v1h-1zM70 69h1v1h-1zM74 69h1v1h-1zM75 69h1v1h-1zM69 70h1v1h-1zM69 74h1v1h-1zM69 75h1v1h-1z"/><path fill="#b6f054" d="M65 0h1v1h-1zM11 3h1v1h-1zM37 3h1v1h-1zM47 3h1v1h-1zM12 5h1v1h-1zM14 5h1v1h-1zM11 6h1v1h-1zM11 7h1v1h-1zM37 7h1v1h-1zM3 11h1v1h-1zM6 11h1v1h-1zM7 11h1v1h-1zM21 11h1v1h-1zM5 12h1v1h-1zM26 12h1v1h-1zM5 14h1v1h-1zM22 16h1v1h-1zM29 16h1v1h-1zM11 21h1v1h-1zM16 22h1v1h-1zM26 23h1v1h-1zM12 26h1v1h-1zM23 26h1v1h-1zM16 29h1v1h-1zM64 34h1v1h-1zM3 37h1v1h-1zM7 37h1v1h-1zM42 38h1v1h-1zM42 40h1v1h-1zM42 41h1v1h-1zM38 42h1v1h-1zM40 42h1v1h-1zM41 42h1v1h-1zM62 43h1v1h-1zM64 43h1v1h-1zM3 47h1v1h-1zM60 48h1v1h-1zM48 60h1v1h-1zM43 62h1v1h-1zM34 64h1v1h-1zM43 64h1v1h-1zM0 65h1v1h-1z"/><path fill="#c2f04b" d="M28 18h1v1h-1zM18 28h1v1h-1zM40 38h1v1h-1zM38 40h1v1h-1z"/><path fill="#cef043" d="M37 33h1v1h-1zM33 37h1v1h-1z"/><path fill="#e6f035" d="M34 0h1v1h-1zM55 3h1v1h-1zM6 4h1v1h-1zM28 5h1v1h-1zM4 6h1v1h-1zM31 7h1v1h-1zM15 8h1v1h-1zM23 10h1v1h-1zM27 12h1v1h-1zM8 15h1v1h-1zM31 22h1v1h-1zM56 22h1v1h-1zM10 23h1v1h-1zM12 27h1v1h-1zM5 28h1v1h-1zM7 31h1v1h-1zM22 31h1v1h-1zM58 32h1v1h-1zM0 34h1v1h-1zM49 41h1v1h-1zM66 42h1v1h-1zM54 43h1v1h-1zM47 45h1v1h-1zM45 47h1v1h-1zM41 49h1v1h-1zM57 50h1v1h-1zM43 54h1v1h-1zM3 55h1v1h-1zM22 56h1v1h-1zM50 57h1v1h-1zM32 58h1v1h-1zM65 64h1v1h-1zM64 65h1v1h-1zM42 66h1v1h-1zM71 69h1v1h-1zM73 69h1v1h-1zM75 70h1v1h-1zM69 71h1v1h-1zM73 72h1v1h-1zM75 72h1v1h-1zM69 73h1v1h-1zM72 73h1v1h-1zM75 73h1v1h-1zM75 74h1v1h-1zM70 75h1v1h-1zM72 75h1v1h-1zM73 75h1v1h-1zM74 75h1v1h-1z"/><path fill="#ebe830" d="M15 0h1v1h-1zM30 0h1v1h-1zM45 3h1v1h-1zM27 5h1v1h-1zM13 6h1v1h-1zM25 7h1v1h-1zM55 7h1v1h-1zM13 11h1v1h-1zM19 12h1v1h-1zM6 13h1v1h-1zM11 13h1v1h-1zM27 14h1v1h-1zM0 15h1v1h-1zM12 19h1v1h-1zM7 25h1v1h-1zM5 27h1v1h-1zM14 27h1v1h-1zM0 30h1v1h-1zM51 40h1v1h-1zM59 44h1v1h-1zM3 45h1v1h-1zM58 50h1v1h-1zM40 51h1v1h-1zM54 53h1v1h-1zM53 54h1v1h-1zM7 55h1v1h-1zM50 58h1v1h-1zM44 59h1v1h-1zM70 68h1v1h-1zM68 70h1v1h-1zM74 72h1v1h-1zM72 74h1v1h-1z"/><path fill="#ebc429" d="M23 1h1v1h-1zM24 2h1v1h-1zM27 2h1v1h-1zM27 20h1v1h-1zM1 23h1v1h-1zM2 24h1v1h-1zM2 27h1v1h-1zM20 27h1v1h-1zM66 38h1v1h-1zM55 45h1v1h-1zM62 50h1v1h-1zM45 55h1v1h-1zM50 62h1v1h-1zM38 66h1v1h-1zM71 70h1v1h-1zM70 71h1v1h-1zM73 71h1v1h-1zM71 73h1v1h-1z"/><path fill="#ebb428" d="M32 4h1v1h-1zM8 6h1v1h-1zM29 7h1v1h-1zM6 8h1v1h-1zM24 16h1v1h-1zM16 24h1v1h-1zM29 25h1v1h-1zM7 29h1v1h-1zM25 29h1v1h-1zM33 30h1v1h-1zM4 32h1v1h-1zM30 33h1v1h-1zM41 34h1v1h-1zM49 34h1v1h-1zM58 36h1v1h-1zM45 37h1v1h-1zM34 41h1v1h-1zM37 45h1v1h-1zM48 46h1v1h-1zM46 48h1v1h-1zM34 49h1v1h-1zM58 56h1v1h-1zM36 58h1v1h-1zM56 58h1v1h-1zM63 59h1v1h-1zM59 63h1v1h-1zM72 70h1v1h-1zM74 71h1v1h-1zM70 72h1v1h-1zM71 74h1v1h-1z"/><path fill="#eb7d28" d="M13 3h1v1h-1zM3 13h1v1h-1z"/><path fill="#ec6e26" d="M14 12h1v1h-1zM21 13h1v1h-1zM12 14h1v1h-1zM26 14h1v1h-1zM38 17h1v1h-1zM13 21h1v1h-1zM14 26h1v1h-1zM28 27h1v1h-1zM27 28h1v1h-1zM17 38h1v1h-1zM53 46h1v1h-1zM54 52h1v1h-1zM46 53h1v1h-1zM52 54h1v1h-1zM72 69h1v1h-1zM75 71h1v1h-1zM69 72h1v1h-1zM74 73h1v1h-1zM73 74h1v1h-1zM71 75h1v1h-1z"/><path fill="#ed6123" d="M26 1h1v1h-1zM28 2h1v1h-1zM1 26h1v1h-1zM2 28h1v1h-1z"/><path fill="#f02917" d="M21 3h1v1h-1zM3 21h1v1h-1zM57 35h1v1h-1zM60 35h1v1h-1zM47 37h1v1h-1zM55 37h1v1h-1zM49 42h1v1h-1zM37 47h1v1h-1zM55 47h1v1h-1zM42 49h1v1h-1zM37 55h1v1h-1zM47 55h1v1h-1zM35 57h1v1h-1zM35 60h1v1h-1zM67 64h1v1h-1zM64 67h1v1h-1zM72 71h1v1h-1zM71 72h1v1h-1z"/><path fill="#a1181b" d="M0 0h1v1h-1zM1 1h1v1h-1zM2 2h1v1h-1zM3 3h1v1h-1zM4 4h1v1h-1zM5 5h1v1h-1zM6 6h1v1h-1zM7 7h1v1h-1zM8 8h1v1h-1zM9 9h1v1h-1zM10 10h1v1h-1zM11 11h1v1h-1zM12 12h1v1h-1zM13 13h1v1h-1zM14 14h1v1h-1zM15 15h1v1h-1zM16 16h1v1h-1zM17 17h1v1h-1zM18 18h1v1h-1zM19 19h1v1h-1zM20 20h1v1h-1zM21 21h1v1h-1zM22 22h1v1h-1zM23 23h1v1h-1zM24 24h1v1h-1zM25 25h1v1h-1zM26 26h1v1h-1zM27 27h1v1h-1zM28 28h1v1h-1zM29 29h1v1h-1zM30 30h1v1h-1zM31 31h1v1h-1zM32 32h1v1h-1zM33 33h1v1h-1zM34 34h1v1h-1zM35 35h1v1h-1zM36 36h1v1h-1zM37 37h1v1h-1zM38 38h1v1h-1zM39 39h1v1h-1zM40 40h1v1h-1zM41 41h1v1h-1zM42 42h1v1h-1zM43 43h1v1h-1zM44 44h1v1h-1zM45 45h1v1h-1zM46 46h1v1h-1zM47 47h1v1h-1zM48 48h1v1h-1zM49 49h1v1h-1zM50 50h1v1h-1zM51 51h1v1h-1zM52 52h1v1h-1zM53 53h1v1h-1zM54 54h1v1h-1zM55 55h1v1h-1zM56 56h1v1h-1zM57 57h1v1h-1zM58 58h1v1h-1zM59 59h1v1h-1zM60 60h1v1h-1zM61 61h1v1h-1zM62 62h1v1h-1zM63 63h1v1h-1zM64 64h1v1h-1zM65 65h1v1h-1zM66 66h1v1h-1zM67 67h1v1h-1zM68 68h1v1h-1zM69 69h1v1h-1zM70 70h1v1h-1zM71 71h1v1h-1zM72 72h1v1h-1zM73 73h1v1h-1zM74 74h1v1h-1zM75 75h1v1h-1z"/><path d="M1 0V76M2 0V76M3 0V76M4 0V76M5 0V76M6 0V76M7 0V76M8 0V76M9 0V76M10 0V76M11 0V76M12 0V76M13 0V76M14 0V76M15 0V76M16 0V76M17 0V76M18 0V76M19 0V76M20 0V76M21 0V76M22 0V76M23 0V76M24 0V76M25 0V76M26 0V76M27 0V76M28 0V76M29 0V76M30 0V76M31 0V76M32 0V76M33 0V76M34 0V76M35 0V76M36 0V76M37 0V76M38 0V76M39 0V76M40 0V76M41 0V76M42 0V76M43 0V76M44 0V76M45 0V76M46 0V76M47 0V76M48 0V76M49 0V76M50 0V76M51 0V76M52 0V76M53 0V76M54 0V76M55 0V76M56 0V76M57 0V76M58 0V76M59 0V76M60 0V76M61 0V76M62 0V76M63 0V76M64 0V76M65 0V76M66 0V76M67 0V76M68 0V76M69 0V76M70 0V76M71 0V76M72 0V76M73 0V76M74 0V76M75 0V76M0 1H76M0 2H76M0 3H76M0 4H76M0 5H76M0 6H76M0 7H76M0 8H76M0 9H76M0 10H76M0 11H76M0 12H76M0 13H76M0 14H76M0 15H76M0 16H76M0 17H76M0 18H76M0 19H76M0 20H76M0 21H76M0 22H76M0 23H76M0 24H76M0 25H76M0 26H76M0 27H76M0 28H76M0 29H76M0 30H76M0 31H76M0 32H76M0 33H76M0 34H76M0 35H76M0 36H76M0 37H76M0 38H76M0 39H76M0 40H76M0 41H76M0 42H76M0 43H76M0 44H76M0 45H76M0 46H76M0 47H76M0 48H76M0 49H76M0 50H76M0 51H76M0 52H76M0 53H76M0 54H76M0 55H76M0 56H76M0 57H76M0 58H76M0 59H76M0 60H76M0 61H76M0 62H76M0 63H76M0 64H76M0 65H76M0 66H76M0 67H76M0 68H76M0 69H76M0 70H76M0 71H76M0 72H76M0 73H76M0 74H76M0 75H76" stroke="#ffffff" stroke-opacity="0.09" stroke-width="0.3" fill="none"/><path d="M34 0V76M68 0V76M0 34H76M0 68H76" stroke="#eef3ff" stroke-opacity="0.9" stroke-width="0.62" fill="none"/></g></g><path d="M31.70 36.30H277.50M31.70 280.50H277.50" stroke="#1a1a2a" stroke-width="1" fill="none"/><path d="M277.50 36.30V280.50" stroke="#888" stroke-width="0.9" fill="none"/><line x1="23.70" x2="32.20" y1="36.30" y2="36.30" stroke="#111" stroke-width="1.2"/><line x1="23.70" x2="32.20" y1="145.55" y2="145.55" stroke="#111" stroke-width="1.2"/><line x1="23.70" x2="32.20" y1="254.79" y2="254.79" stroke="#111" stroke-width="1.2"/><line x1="23.70" x2="32.20" y1="280.50" y2="280.50" stroke="#111" stroke-width="1.2"/><line x1="32.20" x2="32.20" y1="280.50" y2="289.00" stroke="#111" stroke-width="1.2"/><line x1="141.94" x2="141.94" y1="280.50" y2="289.00" stroke="#111" stroke-width="1.2"/><line x1="251.68" x2="251.68" y1="280.50" y2="289.00" stroke="#111" stroke-width="1.2"/><line x1="277.50" x2="277.50" y1="280.50" y2="289.00" stroke="#111" stroke-width="1.2"/><g filter="url(#bl)"><g transform="translate(351.90 36.10) scale(3.2276 3.2132)"><path fill="#210cd3" d="M48 13h1v1h-1zM29 28h1v1h-1zM28 29h1v1h-1zM65 29h1v1h-1zM13 48h1v1h-1zM29 65h1v1h-1z"/><path fill="#200ddd" d="M63 1h1v1h-1zM10 2h1v1h-1zM24 3h1v1h-1zM35 3h1v1h-1zM66 8h1v1h-1zM71 9h1v1h-1zM2 10h1v1h-1zM28 12h1v1h-1zM33 12h1v1h-1zM27 13h1v1h-1zM33 13h1v1h-1zM51 13h1v1h-1zM26 19h1v1h-1zM37 21h1v1h-1zM38 21h1v1h-1zM62 21h1v1h-1zM51 23h1v1h-1zM65 23h1v1h-1zM3 24h1v1h-1zM19 26h1v1h-1zM13 27h1v1h-1zM12 28h1v1h-1zM60 30h1v1h-1zM37 32h1v1h-1zM12 33h1v1h-1zM13 33h1v1h-1zM3 35h1v1h-1zM21 37h1v1h-1zM32 37h1v1h-1zM21 38h1v1h-1zM75 38h1v1h-1zM54 39h1v1h-1zM68 41h1v1h-1zM70 43h1v1h-1zM74 43h1v1h-1zM60 44h1v1h-1zM66 47h1v1h-1zM60 50h1v1h-1zM13 51h1v1h-1zM23 51h1v1h-1zM39 54h1v1h-1zM30 60h1v1h-1zM44 60h1v1h-1zM50 60h1v1h-1zM21 62h1v1h-1zM1 63h1v1h-1zM23 65h1v1h-1zM8 66h1v1h-1zM47 66h1v1h-1zM41 68h1v1h-1zM43 70h1v1h-1zM9 71h1v1h-1zM43 74h1v1h-1zM38 75h1v1h-1z"/><path fill="#1f0ee6" d="M4 0h1v1h-1zM5 0h1v1h-1zM22 0h1v1h-1zM54 0h1v1h-1zM3 1h1v1h-1zM6 1h1v1h-1zM41 1h1v1h-1zM43 1h1v1h-1zM58 1h1v1h-1zM6 2h1v1h-1zM8 2h1v1h-1zM11 2h1v1h-1zM38 2h1v1h-1zM54 2h1v1h-1zM1 3h1v1h-1zM17 3h1v1h-1zM43 3h1v1h-1zM51 3h1v1h-1zM67 3h1v1h-1zM0 4h1v1h-1zM7 4h1v1h-1zM13 4h1v1h-1zM21 4h1v1h-1zM28 4h1v1h-1zM45 4h1v1h-1zM0 5h1v1h-1zM22 5h1v1h-1zM1 6h1v1h-1zM2 6h1v1h-1zM31 6h1v1h-1zM4 7h1v1h-1zM28 7h1v1h-1zM53 7h1v1h-1zM72 7h1v1h-1zM2 8h1v1h-1zM9 8h1v1h-1zM27 8h1v1h-1zM45 8h1v1h-1zM8 9h1v1h-1zM24 9h1v1h-1zM33 9h1v1h-1zM38 9h1v1h-1zM47 9h1v1h-1zM56 9h1v1h-1zM59 9h1v1h-1zM62 9h1v1h-1zM64 9h1v1h-1zM66 9h1v1h-1zM48 10h1v1h-1zM67 10h1v1h-1zM2 11h1v1h-1zM17 11h1v1h-1zM18 11h1v1h-1zM20 11h1v1h-1zM28 11h1v1h-1zM42 11h1v1h-1zM45 11h1v1h-1zM51 11h1v1h-1zM54 11h1v1h-1zM67 11h1v1h-1zM15 12h1v1h-1zM24 12h1v1h-1zM45 12h1v1h-1zM51 12h1v1h-1zM4 13h1v1h-1zM74 13h1v1h-1zM15 14h1v1h-1zM21 14h1v1h-1zM31 14h1v1h-1zM62 14h1v1h-1zM12 15h1v1h-1zM14 15h1v1h-1zM33 15h1v1h-1zM36 15h1v1h-1zM38 15h1v1h-1zM59 15h1v1h-1zM65 15h1v1h-1zM28 16h1v1h-1zM3 17h1v1h-1zM11 17h1v1h-1zM25 17h1v1h-1zM11 18h1v1h-1zM55 18h1v1h-1zM65 18h1v1h-1zM23 19h1v1h-1zM57 19h1v1h-1zM11 20h1v1h-1zM28 20h1v1h-1zM35 20h1v1h-1zM4 21h1v1h-1zM14 21h1v1h-1zM24 21h1v1h-1zM32 21h1v1h-1zM49 21h1v1h-1zM0 22h1v1h-1zM5 22h1v1h-1zM49 22h1v1h-1zM55 22h1v1h-1zM71 22h1v1h-1zM19 23h1v1h-1zM26 23h1v1h-1zM29 23h1v1h-1zM37 23h1v1h-1zM69 23h1v1h-1zM9 24h1v1h-1zM12 24h1v1h-1zM21 24h1v1h-1zM34 24h1v1h-1zM40 24h1v1h-1zM51 24h1v1h-1zM58 24h1v1h-1zM75 24h1v1h-1zM17 25h1v1h-1zM32 25h1v1h-1zM63 25h1v1h-1zM23 26h1v1h-1zM32 26h1v1h-1zM36 26h1v1h-1zM62 26h1v1h-1zM8 27h1v1h-1zM29 27h1v1h-1zM57 27h1v1h-1zM58 27h1v1h-1zM4 28h1v1h-1zM7 28h1v1h-1zM11 28h1v1h-1zM16 28h1v1h-1zM20 28h1v1h-1zM30 28h1v1h-1zM39 28h1v1h-1zM41 28h1v1h-1zM43 28h1v1h-1zM67 28h1v1h-1zM68 28h1v1h-1zM23 29h1v1h-1zM27 29h1v1h-1zM60 29h1v1h-1zM28 30h1v1h-1zM59 30h1v1h-1zM61 30h1v1h-1zM6 31h1v1h-1zM14 31h1v1h-1zM50 31h1v1h-1zM52 31h1v1h-1zM21 32h1v1h-1zM25 32h1v1h-1zM26 32h1v1h-1zM33 32h1v1h-1zM57 32h1v1h-1zM9 33h1v1h-1zM15 33h1v1h-1zM32 33h1v1h-1zM47 33h1v1h-1zM24 34h1v1h-1zM46 34h1v1h-1zM20 35h1v1h-1zM50 35h1v1h-1zM15 36h1v1h-1zM26 36h1v1h-1zM23 37h1v1h-1zM40 37h1v1h-1zM2 38h1v1h-1zM9 38h1v1h-1zM15 38h1v1h-1zM54 38h1v1h-1zM28 39h1v1h-1zM60 39h1v1h-1zM24 40h1v1h-1zM37 40h1v1h-1zM47 40h1v1h-1zM1 41h1v1h-1zM28 41h1v1h-1zM64 41h1v1h-1zM11 42h1v1h-1zM1 43h1v1h-1zM3 43h1v1h-1zM28 43h1v1h-1zM4 45h1v1h-1zM8 45h1v1h-1zM11 45h1v1h-1zM12 45h1v1h-1zM56 45h1v1h-1zM34 46h1v1h-1zM57 46h1v1h-1zM58 46h1v1h-1zM62 46h1v1h-1zM64 46h1v1h-1zM9 47h1v1h-1zM33 47h1v1h-1zM40 47h1v1h-1zM10 48h1v1h-1zM21 49h1v1h-1zM22 49h1v1h-1zM50 49h1v1h-1zM31 50h1v1h-1zM35 50h1v1h-1zM49 50h1v1h-1zM54 50h1v1h-1zM61 50h1v1h-1zM3 51h1v1h-1zM11 51h1v1h-1zM12 51h1v1h-1zM24 51h1v1h-1zM66 51h1v1h-1zM31 52h1v1h-1zM60 52h1v1h-1zM7 53h1v1h-1zM0 54h1v1h-1zM2 54h1v1h-1zM11 54h1v1h-1zM38 54h1v1h-1zM50 54h1v1h-1zM18 55h1v1h-1zM22 55h1v1h-1zM9 56h1v1h-1zM45 56h1v1h-1zM57 56h1v1h-1zM62 56h1v1h-1zM19 57h1v1h-1zM27 57h1v1h-1zM32 57h1v1h-1zM46 57h1v1h-1zM56 57h1v1h-1zM1 58h1v1h-1zM24 58h1v1h-1zM27 58h1v1h-1zM46 58h1v1h-1zM66 58h1v1h-1zM9 59h1v1h-1zM15 59h1v1h-1zM30 59h1v1h-1zM61 59h1v1h-1zM29 60h1v1h-1zM39 60h1v1h-1zM52 60h1v1h-1zM63 60h1v1h-1zM69 60h1v1h-1zM30 61h1v1h-1zM50 61h1v1h-1zM59 61h1v1h-1zM9 62h1v1h-1zM14 62h1v1h-1zM26 62h1v1h-1zM46 62h1v1h-1zM56 62h1v1h-1zM65 62h1v1h-1zM25 63h1v1h-1zM60 63h1v1h-1zM73 63h1v1h-1zM9 64h1v1h-1zM41 64h1v1h-1zM46 64h1v1h-1zM69 64h1v1h-1zM15 65h1v1h-1zM18 65h1v1h-1zM62 65h1v1h-1zM9 66h1v1h-1zM51 66h1v1h-1zM58 66h1v1h-1zM75 66h1v1h-1zM3 67h1v1h-1zM10 67h1v1h-1zM11 67h1v1h-1zM28 67h1v1h-1zM28 68h1v1h-1zM23 69h1v1h-1zM60 69h1v1h-1zM64 69h1v1h-1zM22 71h1v1h-1zM7 72h1v1h-1zM63 73h1v1h-1zM13 74h1v1h-1zM24 75h1v1h-1zM66 75h1v1h-1z"/><path fill="#2117ec" d="M2 0h1v1h-1zM9 0h1v1h-1zM16 0h1v1h-1zM23 0h1v1h-1zM27 0h1v1h-1zM31 0h1v1h-1zM32 0h1v1h-1zM50 0h1v1h-1zM63 0h1v1h-1zM67 0h1v1h-1zM4 1h1v1h-1zM8 1h1v1h-1zM16 1h1v1h-1zM21 1h1v1h-1zM22 1h1v1h-1zM35 1h1v1h-1zM53 1h1v1h-1zM73 1h1v1h-1zM75 1h1v1h-1zM0 2h1v1h-1zM3 2h1v1h-1zM5 2h1v1h-1zM15 2h1v1h-1zM36 2h1v1h-1zM43 2h1v1h-1zM48 2h1v1h-1zM59 2h1v1h-1zM69 2h1v1h-1zM70 2h1v1h-1zM2 3h1v1h-1zM7 3h1v1h-1zM12 3h1v1h-1zM20 3h1v1h-1zM23 3h1v1h-1zM26 3h1v1h-1zM28 3h1v1h-1zM30 3h1v1h-1zM32 3h1v1h-1zM47 3h1v1h-1zM65 3h1v1h-1zM1 4h1v1h-1zM14 4h1v1h-1zM22 4h1v1h-1zM23 4h1v1h-1zM24 4h1v1h-1zM30 4h1v1h-1zM31 4h1v1h-1zM38 4h1v1h-1zM64 4h1v1h-1zM2 5h1v1h-1zM10 5h1v1h-1zM11 5h1v1h-1zM15 5h1v1h-1zM16 5h1v1h-1zM20 5h1v1h-1zM30 5h1v1h-1zM37 5h1v1h-1zM40 5h1v1h-1zM55 5h1v1h-1zM69 5h1v1h-1zM70 5h1v1h-1zM19 6h1v1h-1zM50 6h1v1h-1zM62 6h1v1h-1zM65 6h1v1h-1zM75 6h1v1h-1zM3 7h1v1h-1zM8 7h1v1h-1zM19 7h1v1h-1zM63 7h1v1h-1zM73 7h1v1h-1zM1 8h1v1h-1zM7 8h1v1h-1zM11 8h1v1h-1zM26 8h1v1h-1zM32 8h1v1h-1zM37 8h1v1h-1zM38 8h1v1h-1zM42 8h1v1h-1zM58 8h1v1h-1zM74 8h1v1h-1zM0 9h1v1h-1zM13 9h1v1h-1zM20 9h1v1h-1zM21 9h1v1h-1zM23 9h1v1h-1zM31 9h1v1h-1zM52 9h1v1h-1zM58 9h1v1h-1zM73 9h1v1h-1zM5 10h1v1h-1zM13 10h1v1h-1zM20 10h1v1h-1zM24 10h1v1h-1zM25 10h1v1h-1zM26 10h1v1h-1zM31 10h1v1h-1zM69 10h1v1h-1zM71 10h1v1h-1zM72 10h1v1h-1zM74 10h1v1h-1zM5 11h1v1h-1zM8 11h1v1h-1zM26 11h1v1h-1zM27 11h1v1h-1zM32 11h1v1h-1zM39 11h1v1h-1zM65 11h1v1h-1zM3 12h1v1h-1zM16 12h1v1h-1zM23 12h1v1h-1zM30 12h1v1h-1zM38 12h1v1h-1zM41 12h1v1h-1zM63 12h1v1h-1zM71 12h1v1h-1zM9 13h1v1h-1zM10 13h1v1h-1zM14 13h1v1h-1zM18 13h1v1h-1zM22 13h1v1h-1zM24 13h1v1h-1zM31 13h1v1h-1zM43 13h1v1h-1zM47 13h1v1h-1zM49 13h1v1h-1zM61 13h1v1h-1zM66 13h1v1h-1zM67 13h1v1h-1zM72 13h1v1h-1zM4 14h1v1h-1zM13 14h1v1h-1zM18 14h1v1h-1zM24 14h1v1h-1zM39 14h1v1h-1zM48 14h1v1h-1zM49 14h1v1h-1zM57 14h1v1h-1zM59 14h1v1h-1zM70 14h1v1h-1zM2 15h1v1h-1zM5 15h1v1h-1zM16 15h1v1h-1zM17 15h1v1h-1zM21 15h1v1h-1zM22 15h1v1h-1zM41 15h1v1h-1zM45 15h1v1h-1zM67 15h1v1h-1zM69 15h1v1h-1zM74 15h1v1h-1zM0 16h1v1h-1zM1 16h1v1h-1zM5 16h1v1h-1zM12 16h1v1h-1zM15 16h1v1h-1zM23 16h1v1h-1zM26 16h1v1h-1zM64 16h1v1h-1zM15 17h1v1h-1zM24 17h1v1h-1zM26 17h1v1h-1zM28 17h1v1h-1zM29 17h1v1h-1zM36 17h1v1h-1zM52 17h1v1h-1zM62 17h1v1h-1zM13 18h1v1h-1zM14 18h1v1h-1zM19 18h1v1h-1zM21 18h1v1h-1zM25 18h1v1h-1zM39 18h1v1h-1zM43 18h1v1h-1zM45 18h1v1h-1zM52 18h1v1h-1zM74 18h1v1h-1zM6 19h1v1h-1zM7 19h1v1h-1zM18 19h1v1h-1zM29 19h1v1h-1zM40 19h1v1h-1zM43 19h1v1h-1zM56 19h1v1h-1zM3 20h1v1h-1zM5 20h1v1h-1zM9 20h1v1h-1zM10 20h1v1h-1zM24 20h1v1h-1zM26 20h1v1h-1zM43 20h1v1h-1zM60 20h1v1h-1zM68 20h1v1h-1zM1 21h1v1h-1zM9 21h1v1h-1zM15 21h1v1h-1zM18 21h1v1h-1zM27 21h1v1h-1zM29 21h1v1h-1zM31 21h1v1h-1zM34 21h1v1h-1zM43 21h1v1h-1zM54 21h1v1h-1zM1 22h1v1h-1zM4 22h1v1h-1zM13 22h1v1h-1zM15 22h1v1h-1zM26 22h1v1h-1zM65 22h1v1h-1zM0 23h1v1h-1zM3 23h1v1h-1zM4 23h1v1h-1zM9 23h1v1h-1zM12 23h1v1h-1zM16 23h1v1h-1zM33 23h1v1h-1zM67 23h1v1h-1zM4 24h1v1h-1zM10 24h1v1h-1zM13 24h1v1h-1zM14 24h1v1h-1zM17 24h1v1h-1zM20 24h1v1h-1zM53 24h1v1h-1zM56 24h1v1h-1zM60 24h1v1h-1zM10 25h1v1h-1zM18 25h1v1h-1zM26 25h1v1h-1zM34 25h1v1h-1zM48 25h1v1h-1zM49 25h1v1h-1zM55 25h1v1h-1zM59 25h1v1h-1zM66 25h1v1h-1zM71 25h1v1h-1zM3 26h1v1h-1zM8 26h1v1h-1zM10 26h1v1h-1zM11 26h1v1h-1zM16 26h1v1h-1zM17 26h1v1h-1zM20 26h1v1h-1zM22 26h1v1h-1zM25 26h1v1h-1zM29 26h1v1h-1zM39 26h1v1h-1zM41 26h1v1h-1zM42 26h1v1h-1zM48 26h1v1h-1zM0 27h1v1h-1zM11 27h1v1h-1zM21 27h1v1h-1zM30 27h1v1h-1zM32 27h1v1h-1zM44 27h1v1h-1zM65 27h1v1h-1zM3 28h1v1h-1zM17 28h1v1h-1zM40 28h1v1h-1zM54 28h1v1h-1zM63 28h1v1h-1zM64 28h1v1h-1zM65 28h1v1h-1zM17 29h1v1h-1zM19 29h1v1h-1zM21 29h1v1h-1zM26 29h1v1h-1zM30 29h1v1h-1zM39 29h1v1h-1zM40 29h1v1h-1zM42 29h1v1h-1zM46 29h1v1h-1zM57 29h1v1h-1zM61 29h1v1h-1zM63 29h1v1h-1zM73 29h1v1h-1zM75 29h1v1h-1zM3 30h1v1h-1zM4 30h1v1h-1zM5 30h1v1h-1zM12 30h1v1h-1zM27 30h1v1h-1zM29 30h1v1h-1zM50 30h1v1h-1zM71 30h1v1h-1zM0 31h1v1h-1zM4 31h1v1h-1zM9 31h1v1h-1zM10 31h1v1h-1zM13 31h1v1h-1zM21 31h1v1h-1zM35 31h1v1h-1zM67 31h1v1h-1zM69 31h1v1h-1zM0 32h1v1h-1zM3 32h1v1h-1zM8 32h1v1h-1zM11 32h1v1h-1zM27 32h1v1h-1zM50 32h1v1h-1zM54 32h1v1h-1zM23 33h1v1h-1zM40 33h1v1h-1zM67 33h1v1h-1zM21 34h1v1h-1zM25 34h1v1h-1zM38 34h1v1h-1zM43 34h1v1h-1zM66 34h1v1h-1zM69 34h1v1h-1zM1 35h1v1h-1zM31 35h1v1h-1zM42 35h1v1h-1zM56 35h1v1h-1zM2 36h1v1h-1zM17 36h1v1h-1zM55 36h1v1h-1zM56 36h1v1h-1zM5 37h1v1h-1zM8 37h1v1h-1zM39 37h1v1h-1zM69 37h1v1h-1zM72 37h1v1h-1zM4 38h1v1h-1zM8 38h1v1h-1zM12 38h1v1h-1zM34 38h1v1h-1zM45 38h1v1h-1zM59 38h1v1h-1zM64 38h1v1h-1zM11 39h1v1h-1zM14 39h1v1h-1zM18 39h1v1h-1zM26 39h1v1h-1zM29 39h1v1h-1zM37 39h1v1h-1zM5 40h1v1h-1zM19 40h1v1h-1zM28 40h1v1h-1zM29 40h1v1h-1zM33 40h1v1h-1zM67 40h1v1h-1zM12 41h1v1h-1zM15 41h1v1h-1zM26 41h1v1h-1zM43 41h1v1h-1zM8 42h1v1h-1zM26 42h1v1h-1zM29 42h1v1h-1zM35 42h1v1h-1zM43 42h1v1h-1zM44 42h1v1h-1zM48 42h1v1h-1zM57 42h1v1h-1zM61 42h1v1h-1zM69 42h1v1h-1zM75 42h1v1h-1zM2 43h1v1h-1zM13 43h1v1h-1zM18 43h1v1h-1zM19 43h1v1h-1zM20 43h1v1h-1zM21 43h1v1h-1zM34 43h1v1h-1zM41 43h1v1h-1zM42 43h1v1h-1zM53 43h1v1h-1zM55 43h1v1h-1zM59 43h1v1h-1zM60 43h1v1h-1zM71 43h1v1h-1zM73 43h1v1h-1zM27 44h1v1h-1zM42 44h1v1h-1zM52 44h1v1h-1zM63 44h1v1h-1zM66 44h1v1h-1zM73 44h1v1h-1zM15 45h1v1h-1zM18 45h1v1h-1zM38 45h1v1h-1zM57 45h1v1h-1zM59 45h1v1h-1zM64 45h1v1h-1zM29 46h1v1h-1zM3 47h1v1h-1zM13 47h1v1h-1zM56 47h1v1h-1zM2 48h1v1h-1zM14 48h1v1h-1zM25 48h1v1h-1zM26 48h1v1h-1zM42 48h1v1h-1zM13 49h1v1h-1zM14 49h1v1h-1zM25 49h1v1h-1zM60 49h1v1h-1zM67 49h1v1h-1zM0 50h1v1h-1zM6 50h1v1h-1zM30 50h1v1h-1zM32 50h1v1h-1zM68 50h1v1h-1zM72 50h1v1h-1zM61 51h1v1h-1zM68 51h1v1h-1zM70 51h1v1h-1zM75 51h1v1h-1zM9 52h1v1h-1zM17 52h1v1h-1zM18 52h1v1h-1zM44 52h1v1h-1zM68 52h1v1h-1zM1 53h1v1h-1zM24 53h1v1h-1zM43 53h1v1h-1zM21 54h1v1h-1zM28 54h1v1h-1zM32 54h1v1h-1zM5 55h1v1h-1zM25 55h1v1h-1zM36 55h1v1h-1zM43 55h1v1h-1zM19 56h1v1h-1zM24 56h1v1h-1zM35 56h1v1h-1zM36 56h1v1h-1zM47 56h1v1h-1zM68 56h1v1h-1zM71 56h1v1h-1zM14 57h1v1h-1zM29 57h1v1h-1zM42 57h1v1h-1zM45 57h1v1h-1zM71 57h1v1h-1zM8 58h1v1h-1zM9 58h1v1h-1zM2 59h1v1h-1zM14 59h1v1h-1zM25 59h1v1h-1zM38 59h1v1h-1zM43 59h1v1h-1zM45 59h1v1h-1zM64 59h1v1h-1zM73 59h1v1h-1zM20 60h1v1h-1zM24 60h1v1h-1zM43 60h1v1h-1zM49 60h1v1h-1zM13 61h1v1h-1zM29 61h1v1h-1zM42 61h1v1h-1zM51 61h1v1h-1zM6 62h1v1h-1zM17 62h1v1h-1zM0 63h1v1h-1zM7 63h1v1h-1zM12 63h1v1h-1zM28 63h1v1h-1zM29 63h1v1h-1zM44 63h1v1h-1zM4 64h1v1h-1zM16 64h1v1h-1zM28 64h1v1h-1zM38 64h1v1h-1zM45 64h1v1h-1zM59 64h1v1h-1zM70 64h1v1h-1zM3 65h1v1h-1zM6 65h1v1h-1zM11 65h1v1h-1zM22 65h1v1h-1zM27 65h1v1h-1zM28 65h1v1h-1zM13 66h1v1h-1zM25 66h1v1h-1zM34 66h1v1h-1zM44 66h1v1h-1zM0 67h1v1h-1zM13 67h1v1h-1zM15 67h1v1h-1zM23 67h1v1h-1zM31 67h1v1h-1zM33 67h1v1h-1zM40 67h1v1h-1zM49 67h1v1h-1zM20 68h1v1h-1zM50 68h1v1h-1zM51 68h1v1h-1zM52 68h1v1h-1zM56 68h1v1h-1zM2 69h1v1h-1zM5 69h1v1h-1zM10 69h1v1h-1zM15 69h1v1h-1zM31 69h1v1h-1zM34 69h1v1h-1zM37 69h1v1h-1zM42 69h1v1h-1zM2 70h1v1h-1zM5 70h1v1h-1zM14 70h1v1h-1zM51 70h1v1h-1zM64 70h1v1h-1zM10 71h1v1h-1zM12 71h1v1h-1zM25 71h1v1h-1zM30 71h1v1h-1zM43 71h1v1h-1zM56 71h1v1h-1zM57 71h1v1h-1zM10 72h1v1h-1zM13 72h1v1h-1zM37 72h1v1h-1zM50 72h1v1h-1zM1 73h1v1h-1zM7 73h1v1h-1zM9 73h1v1h-1zM29 73h1v1h-1zM43 73h1v1h-1zM44 73h1v1h-1zM59 73h1v1h-1zM8 74h1v1h-1zM10 74h1v1h-1zM15 74h1v1h-1zM18 74h1v1h-1zM1 75h1v1h-1zM6 75h1v1h-1zM29 75h1v1h-1zM42 75h1v1h-1zM51 75h1v1h-1z"/><path fill="#2929ed" d="M10 0h1v1h-1zM13 0h1v1h-1zM17 0h1v1h-1zM25 0h1v1h-1zM33 0h1v1h-1zM38 0h1v1h-1zM51 0h1v1h-1zM5 1h1v1h-1zM18 1h1v1h-1zM19 1h1v1h-1zM28 1h1v1h-1zM31 1h1v1h-1zM40 1h1v1h-1zM60 1h1v1h-1zM72 1h1v1h-1zM14 2h1v1h-1zM19 2h1v1h-1zM44 2h1v1h-1zM53 2h1v1h-1zM73 2h1v1h-1zM6 3h1v1h-1zM14 3h1v1h-1zM16 3h1v1h-1zM19 3h1v1h-1zM33 3h1v1h-1zM55 3h1v1h-1zM59 3h1v1h-1zM11 4h1v1h-1zM16 4h1v1h-1zM18 4h1v1h-1zM29 4h1v1h-1zM39 4h1v1h-1zM54 4h1v1h-1zM55 4h1v1h-1zM1 5h1v1h-1zM7 5h1v1h-1zM9 5h1v1h-1zM18 5h1v1h-1zM39 5h1v1h-1zM45 5h1v1h-1zM67 5h1v1h-1zM73 5h1v1h-1zM3 6h1v1h-1zM9 6h1v1h-1zM12 6h1v1h-1zM22 6h1v1h-1zM40 6h1v1h-1zM44 6h1v1h-1zM47 6h1v1h-1zM53 6h1v1h-1zM5 7h1v1h-1zM14 7h1v1h-1zM24 7h1v1h-1zM30 7h1v1h-1zM35 7h1v1h-1zM61 7h1v1h-1zM71 7h1v1h-1zM20 8h1v1h-1zM31 8h1v1h-1zM33 8h1v1h-1zM35 8h1v1h-1zM43 8h1v1h-1zM53 8h1v1h-1zM54 8h1v1h-1zM70 8h1v1h-1zM5 9h1v1h-1zM6 9h1v1h-1zM10 9h1v1h-1zM14 9h1v1h-1zM22 9h1v1h-1zM26 9h1v1h-1zM28 9h1v1h-1zM41 9h1v1h-1zM46 9h1v1h-1zM51 9h1v1h-1zM0 10h1v1h-1zM9 10h1v1h-1zM14 10h1v1h-1zM17 10h1v1h-1zM22 10h1v1h-1zM27 10h1v1h-1zM28 10h1v1h-1zM62 10h1v1h-1zM66 10h1v1h-1zM75 10h1v1h-1zM4 11h1v1h-1zM14 11h1v1h-1zM16 11h1v1h-1zM37 11h1v1h-1zM40 11h1v1h-1zM43 11h1v1h-1zM6 12h1v1h-1zM25 12h1v1h-1zM29 12h1v1h-1zM43 12h1v1h-1zM49 12h1v1h-1zM55 12h1v1h-1zM66 12h1v1h-1zM72 12h1v1h-1zM0 13h1v1h-1zM19 13h1v1h-1zM20 13h1v1h-1zM26 13h1v1h-1zM30 13h1v1h-1zM2 14h1v1h-1zM3 14h1v1h-1zM7 14h1v1h-1zM9 14h1v1h-1zM10 14h1v1h-1zM11 14h1v1h-1zM17 14h1v1h-1zM19 14h1v1h-1zM25 14h1v1h-1zM30 14h1v1h-1zM35 14h1v1h-1zM36 14h1v1h-1zM38 14h1v1h-1zM44 14h1v1h-1zM53 14h1v1h-1zM72 14h1v1h-1zM20 15h1v1h-1zM23 15h1v1h-1zM24 15h1v1h-1zM28 15h1v1h-1zM32 15h1v1h-1zM40 15h1v1h-1zM46 15h1v1h-1zM49 15h1v1h-1zM3 16h1v1h-1zM4 16h1v1h-1zM11 16h1v1h-1zM19 16h1v1h-1zM22 16h1v1h-1zM30 16h1v1h-1zM31 16h1v1h-1zM43 16h1v1h-1zM51 16h1v1h-1zM73 16h1v1h-1zM0 17h1v1h-1zM10 17h1v1h-1zM14 17h1v1h-1zM21 17h1v1h-1zM30 17h1v1h-1zM31 17h1v1h-1zM32 17h1v1h-1zM47 17h1v1h-1zM1 18h1v1h-1zM4 18h1v1h-1zM5 18h1v1h-1zM30 18h1v1h-1zM33 18h1v1h-1zM66 18h1v1h-1zM70 18h1v1h-1zM1 19h1v1h-1zM2 19h1v1h-1zM3 19h1v1h-1zM13 19h1v1h-1zM14 19h1v1h-1zM16 19h1v1h-1zM22 19h1v1h-1zM33 19h1v1h-1zM53 19h1v1h-1zM62 19h1v1h-1zM68 19h1v1h-1zM8 20h1v1h-1zM13 20h1v1h-1zM15 20h1v1h-1zM37 20h1v1h-1zM40 20h1v1h-1zM57 20h1v1h-1zM71 20h1v1h-1zM17 21h1v1h-1zM39 21h1v1h-1zM48 21h1v1h-1zM64 21h1v1h-1zM6 22h1v1h-1zM9 22h1v1h-1zM10 22h1v1h-1zM16 22h1v1h-1zM19 22h1v1h-1zM32 22h1v1h-1zM39 22h1v1h-1zM53 22h1v1h-1zM57 22h1v1h-1zM15 23h1v1h-1zM28 23h1v1h-1zM30 23h1v1h-1zM39 23h1v1h-1zM7 24h1v1h-1zM15 24h1v1h-1zM26 24h1v1h-1zM31 24h1v1h-1zM39 24h1v1h-1zM45 24h1v1h-1zM0 25h1v1h-1zM12 25h1v1h-1zM14 25h1v1h-1zM46 25h1v1h-1zM57 25h1v1h-1zM72 25h1v1h-1zM9 26h1v1h-1zM13 26h1v1h-1zM24 26h1v1h-1zM31 26h1v1h-1zM68 26h1v1h-1zM75 26h1v1h-1zM10 27h1v1h-1zM40 27h1v1h-1zM50 27h1v1h-1zM53 27h1v1h-1zM56 27h1v1h-1zM61 27h1v1h-1zM63 27h1v1h-1zM1 28h1v1h-1zM9 28h1v1h-1zM10 28h1v1h-1zM15 28h1v1h-1zM23 28h1v1h-1zM70 28h1v1h-1zM4 29h1v1h-1zM12 29h1v1h-1zM64 29h1v1h-1zM67 29h1v1h-1zM7 30h1v1h-1zM13 30h1v1h-1zM14 30h1v1h-1zM16 30h1v1h-1zM17 30h1v1h-1zM18 30h1v1h-1zM23 30h1v1h-1zM42 30h1v1h-1zM63 30h1v1h-1zM1 31h1v1h-1zM8 31h1v1h-1zM16 31h1v1h-1zM17 31h1v1h-1zM24 31h1v1h-1zM26 31h1v1h-1zM34 31h1v1h-1zM36 31h1v1h-1zM53 31h1v1h-1zM60 31h1v1h-1zM61 31h1v1h-1zM65 31h1v1h-1zM15 32h1v1h-1zM17 32h1v1h-1zM22 32h1v1h-1zM51 32h1v1h-1zM52 32h1v1h-1zM55 32h1v1h-1zM56 32h1v1h-1zM66 32h1v1h-1zM73 32h1v1h-1zM0 33h1v1h-1zM3 33h1v1h-1zM8 33h1v1h-1zM18 33h1v1h-1zM19 33h1v1h-1zM36 33h1v1h-1zM63 33h1v1h-1zM31 34h1v1h-1zM40 34h1v1h-1zM57 34h1v1h-1zM60 34h1v1h-1zM7 35h1v1h-1zM8 35h1v1h-1zM14 35h1v1h-1zM36 35h1v1h-1zM53 35h1v1h-1zM63 35h1v1h-1zM64 35h1v1h-1zM68 35h1v1h-1zM71 35h1v1h-1zM14 36h1v1h-1zM31 36h1v1h-1zM33 36h1v1h-1zM35 36h1v1h-1zM59 36h1v1h-1zM61 36h1v1h-1zM11 37h1v1h-1zM20 37h1v1h-1zM58 37h1v1h-1zM0 38h1v1h-1zM14 38h1v1h-1zM70 38h1v1h-1zM71 38h1v1h-1zM4 39h1v1h-1zM5 39h1v1h-1zM21 39h1v1h-1zM22 39h1v1h-1zM23 39h1v1h-1zM24 39h1v1h-1zM43 39h1v1h-1zM52 39h1v1h-1zM70 39h1v1h-1zM1 40h1v1h-1zM6 40h1v1h-1zM11 40h1v1h-1zM15 40h1v1h-1zM20 40h1v1h-1zM27 40h1v1h-1zM34 40h1v1h-1zM65 40h1v1h-1zM9 41h1v1h-1zM73 41h1v1h-1zM30 42h1v1h-1zM54 42h1v1h-1zM8 43h1v1h-1zM11 43h1v1h-1zM12 43h1v1h-1zM16 43h1v1h-1zM39 43h1v1h-1zM2 44h1v1h-1zM6 44h1v1h-1zM14 44h1v1h-1zM64 44h1v1h-1zM5 45h1v1h-1zM24 45h1v1h-1zM49 45h1v1h-1zM53 45h1v1h-1zM62 45h1v1h-1zM67 45h1v1h-1zM9 46h1v1h-1zM15 46h1v1h-1zM25 46h1v1h-1zM49 46h1v1h-1zM52 46h1v1h-1zM65 46h1v1h-1zM70 46h1v1h-1zM6 47h1v1h-1zM17 47h1v1h-1zM21 48h1v1h-1zM12 49h1v1h-1zM15 49h1v1h-1zM45 49h1v1h-1zM46 49h1v1h-1zM57 49h1v1h-1zM58 49h1v1h-1zM27 50h1v1h-1zM0 51h1v1h-1zM9 51h1v1h-1zM16 51h1v1h-1zM32 51h1v1h-1zM32 52h1v1h-1zM39 52h1v1h-1zM46 52h1v1h-1zM56 52h1v1h-1zM2 53h1v1h-1zM6 53h1v1h-1zM8 53h1v1h-1zM14 53h1v1h-1zM19 53h1v1h-1zM22 53h1v1h-1zM27 53h1v1h-1zM31 53h1v1h-1zM35 53h1v1h-1zM45 53h1v1h-1zM67 53h1v1h-1zM70 53h1v1h-1zM4 54h1v1h-1zM8 54h1v1h-1zM42 54h1v1h-1zM66 54h1v1h-1zM3 55h1v1h-1zM4 55h1v1h-1zM12 55h1v1h-1zM32 55h1v1h-1zM27 56h1v1h-1zM32 56h1v1h-1zM52 56h1v1h-1zM20 57h1v1h-1zM22 57h1v1h-1zM25 57h1v1h-1zM34 57h1v1h-1zM49 57h1v1h-1zM72 57h1v1h-1zM75 57h1v1h-1zM37 58h1v1h-1zM49 58h1v1h-1zM69 58h1v1h-1zM3 59h1v1h-1zM36 59h1v1h-1zM69 59h1v1h-1zM75 59h1v1h-1zM1 60h1v1h-1zM31 60h1v1h-1zM34 60h1v1h-1zM7 61h1v1h-1zM27 61h1v1h-1zM31 61h1v1h-1zM36 61h1v1h-1zM10 62h1v1h-1zM19 62h1v1h-1zM45 62h1v1h-1zM72 62h1v1h-1zM27 63h1v1h-1zM30 63h1v1h-1zM33 63h1v1h-1zM35 63h1v1h-1zM21 64h1v1h-1zM29 64h1v1h-1zM35 64h1v1h-1zM44 64h1v1h-1zM31 65h1v1h-1zM40 65h1v1h-1zM46 65h1v1h-1zM72 65h1v1h-1zM10 66h1v1h-1zM12 66h1v1h-1zM18 66h1v1h-1zM32 66h1v1h-1zM54 66h1v1h-1zM68 66h1v1h-1zM5 67h1v1h-1zM29 67h1v1h-1zM45 67h1v1h-1zM53 67h1v1h-1zM19 68h1v1h-1zM26 68h1v1h-1zM35 68h1v1h-1zM66 68h1v1h-1zM58 69h1v1h-1zM59 69h1v1h-1zM8 70h1v1h-1zM18 70h1v1h-1zM28 70h1v1h-1zM38 70h1v1h-1zM39 70h1v1h-1zM46 70h1v1h-1zM53 70h1v1h-1zM7 71h1v1h-1zM20 71h1v1h-1zM35 71h1v1h-1zM38 71h1v1h-1zM1 72h1v1h-1zM12 72h1v1h-1zM14 72h1v1h-1zM25 72h1v1h-1zM57 72h1v1h-1zM62 72h1v1h-1zM65 72h1v1h-1zM2 73h1v1h-1zM5 73h1v1h-1zM16 73h1v1h-1zM32 73h1v1h-1zM41 73h1v1h-1zM10 75h1v1h-1zM26 75h1v1h-1zM57 75h1v1h-1zM59 75h1v1h-1z"/><path fill="#313bef" d="M12 0h1v1h-1zM42 0h1v1h-1zM49 0h1v1h-1zM7 1h1v1h-1zM24 1h1v1h-1zM49 1h1v1h-1zM61 1h1v1h-1zM4 2h1v1h-1zM61 2h1v1h-1zM40 3h1v1h-1zM63 3h1v1h-1zM66 3h1v1h-1zM2 4h1v1h-1zM25 4h1v1h-1zM69 4h1v1h-1zM25 5h1v1h-1zM36 5h1v1h-1zM53 5h1v1h-1zM23 6h1v1h-1zM43 6h1v1h-1zM57 6h1v1h-1zM73 6h1v1h-1zM1 7h1v1h-1zM16 7h1v1h-1zM34 7h1v1h-1zM40 7h1v1h-1zM70 7h1v1h-1zM51 8h1v1h-1zM60 8h1v1h-1zM15 9h1v1h-1zM55 9h1v1h-1zM63 9h1v1h-1zM67 9h1v1h-1zM70 9h1v1h-1zM59 10h1v1h-1zM0 12h1v1h-1zM60 12h1v1h-1zM37 13h1v1h-1zM34 14h1v1h-1zM41 14h1v1h-1zM74 14h1v1h-1zM9 15h1v1h-1zM27 15h1v1h-1zM29 15h1v1h-1zM50 15h1v1h-1zM7 16h1v1h-1zM19 17h1v1h-1zM40 17h1v1h-1zM66 17h1v1h-1zM40 18h1v1h-1zM51 18h1v1h-1zM17 19h1v1h-1zM70 19h1v1h-1zM71 19h1v1h-1zM63 20h1v1h-1zM74 20h1v1h-1zM23 21h1v1h-1zM6 23h1v1h-1zM21 23h1v1h-1zM53 23h1v1h-1zM1 24h1v1h-1zM43 24h1v1h-1zM52 24h1v1h-1zM4 25h1v1h-1zM5 25h1v1h-1zM67 25h1v1h-1zM30 26h1v1h-1zM56 26h1v1h-1zM15 27h1v1h-1zM46 27h1v1h-1zM15 29h1v1h-1zM32 29h1v1h-1zM44 29h1v1h-1zM26 30h1v1h-1zM54 30h1v1h-1zM73 31h1v1h-1zM29 32h1v1h-1zM75 32h1v1h-1zM46 33h1v1h-1zM59 33h1v1h-1zM7 34h1v1h-1zM14 34h1v1h-1zM37 35h1v1h-1zM43 35h1v1h-1zM75 35h1v1h-1zM5 36h1v1h-1zM49 36h1v1h-1zM53 36h1v1h-1zM13 37h1v1h-1zM35 37h1v1h-1zM51 37h1v1h-1zM55 39h1v1h-1zM57 39h1v1h-1zM3 40h1v1h-1zM7 40h1v1h-1zM17 40h1v1h-1zM18 40h1v1h-1zM41 40h1v1h-1zM14 41h1v1h-1zM40 41h1v1h-1zM0 42h1v1h-1zM47 42h1v1h-1zM6 43h1v1h-1zM24 43h1v1h-1zM35 43h1v1h-1zM49 43h1v1h-1zM29 44h1v1h-1zM51 45h1v1h-1zM66 45h1v1h-1zM69 45h1v1h-1zM27 46h1v1h-1zM33 46h1v1h-1zM56 46h1v1h-1zM67 46h1v1h-1zM42 47h1v1h-1zM67 47h1v1h-1zM55 48h1v1h-1zM0 49h1v1h-1zM1 49h1v1h-1zM36 49h1v1h-1zM43 49h1v1h-1zM63 49h1v1h-1zM15 50h1v1h-1zM8 51h1v1h-1zM18 51h1v1h-1zM37 51h1v1h-1zM45 51h1v1h-1zM55 51h1v1h-1zM24 52h1v1h-1zM5 53h1v1h-1zM23 53h1v1h-1zM36 53h1v1h-1zM30 54h1v1h-1zM9 55h1v1h-1zM39 55h1v1h-1zM48 55h1v1h-1zM51 55h1v1h-1zM26 56h1v1h-1zM46 56h1v1h-1zM74 56h1v1h-1zM6 57h1v1h-1zM39 57h1v1h-1zM10 59h1v1h-1zM33 59h1v1h-1zM66 59h1v1h-1zM8 60h1v1h-1zM12 60h1v1h-1zM1 61h1v1h-1zM2 61h1v1h-1zM3 63h1v1h-1zM9 63h1v1h-1zM20 63h1v1h-1zM49 63h1v1h-1zM3 66h1v1h-1zM17 66h1v1h-1zM45 66h1v1h-1zM59 66h1v1h-1zM9 67h1v1h-1zM25 67h1v1h-1zM46 67h1v1h-1zM47 67h1v1h-1zM4 69h1v1h-1zM45 69h1v1h-1zM7 70h1v1h-1zM9 70h1v1h-1zM19 70h1v1h-1zM19 71h1v1h-1zM6 73h1v1h-1zM31 73h1v1h-1zM14 74h1v1h-1zM20 74h1v1h-1zM56 74h1v1h-1zM32 75h1v1h-1zM35 75h1v1h-1z"/><path fill="#394df0" d="M21 0h1v1h-1zM39 0h1v1h-1zM43 0h1v1h-1zM56 0h1v1h-1zM57 0h1v1h-1zM68 0h1v1h-1zM70 0h1v1h-1zM17 1h1v1h-1zM20 1h1v1h-1zM33 1h1v1h-1zM34 1h1v1h-1zM54 1h1v1h-1zM66 1h1v1h-1zM33 2h1v1h-1zM45 2h1v1h-1zM66 2h1v1h-1zM10 3h1v1h-1zM34 3h1v1h-1zM46 3h1v1h-1zM54 3h1v1h-1zM20 4h1v1h-1zM37 4h1v1h-1zM42 4h1v1h-1zM46 4h1v1h-1zM53 4h1v1h-1zM67 4h1v1h-1zM28 5h1v1h-1zM29 5h1v1h-1zM44 5h1v1h-1zM49 5h1v1h-1zM74 5h1v1h-1zM7 6h1v1h-1zM16 6h1v1h-1zM39 6h1v1h-1zM41 6h1v1h-1zM55 6h1v1h-1zM69 6h1v1h-1zM6 7h1v1h-1zM10 7h1v1h-1zM36 7h1v1h-1zM52 7h1v1h-1zM56 7h1v1h-1zM16 8h1v1h-1zM37 9h1v1h-1zM74 9h1v1h-1zM3 10h1v1h-1zM7 10h1v1h-1zM19 10h1v1h-1zM38 10h1v1h-1zM51 10h1v1h-1zM73 10h1v1h-1zM25 11h1v1h-1zM34 11h1v1h-1zM35 11h1v1h-1zM73 11h1v1h-1zM74 11h1v1h-1zM39 12h1v1h-1zM62 12h1v1h-1zM46 13h1v1h-1zM29 14h1v1h-1zM46 14h1v1h-1zM51 14h1v1h-1zM64 14h1v1h-1zM35 15h1v1h-1zM58 15h1v1h-1zM6 16h1v1h-1zM8 16h1v1h-1zM17 16h1v1h-1zM32 16h1v1h-1zM34 16h1v1h-1zM74 16h1v1h-1zM1 17h1v1h-1zM16 17h1v1h-1zM20 17h1v1h-1zM45 17h1v1h-1zM60 18h1v1h-1zM72 18h1v1h-1zM75 18h1v1h-1zM10 19h1v1h-1zM38 19h1v1h-1zM41 19h1v1h-1zM55 19h1v1h-1zM63 19h1v1h-1zM1 20h1v1h-1zM4 20h1v1h-1zM17 20h1v1h-1zM21 20h1v1h-1zM64 20h1v1h-1zM65 20h1v1h-1zM66 20h1v1h-1zM0 21h1v1h-1zM20 21h1v1h-1zM35 21h1v1h-1zM45 21h1v1h-1zM47 21h1v1h-1zM52 21h1v1h-1zM71 21h1v1h-1zM73 21h1v1h-1zM62 22h1v1h-1zM70 22h1v1h-1zM27 23h1v1h-1zM41 23h1v1h-1zM63 23h1v1h-1zM71 23h1v1h-1zM72 23h1v1h-1zM36 24h1v1h-1zM49 24h1v1h-1zM61 24h1v1h-1zM70 24h1v1h-1zM11 25h1v1h-1zM38 25h1v1h-1zM59 26h1v1h-1zM61 26h1v1h-1zM67 26h1v1h-1zM69 26h1v1h-1zM23 27h1v1h-1zM47 27h1v1h-1zM52 27h1v1h-1zM74 27h1v1h-1zM5 28h1v1h-1zM5 29h1v1h-1zM14 29h1v1h-1zM72 29h1v1h-1zM55 30h1v1h-1zM57 30h1v1h-1zM32 31h1v1h-1zM39 31h1v1h-1zM59 31h1v1h-1zM64 31h1v1h-1zM16 32h1v1h-1zM31 32h1v1h-1zM39 32h1v1h-1zM59 32h1v1h-1zM71 32h1v1h-1zM72 32h1v1h-1zM1 33h1v1h-1zM2 33h1v1h-1zM35 33h1v1h-1zM42 33h1v1h-1zM62 33h1v1h-1zM71 33h1v1h-1zM1 34h1v1h-1zM3 34h1v1h-1zM11 34h1v1h-1zM16 34h1v1h-1zM59 34h1v1h-1zM11 35h1v1h-1zM15 35h1v1h-1zM21 35h1v1h-1zM33 35h1v1h-1zM44 35h1v1h-1zM45 35h1v1h-1zM66 35h1v1h-1zM7 36h1v1h-1zM24 36h1v1h-1zM45 36h1v1h-1zM46 36h1v1h-1zM68 36h1v1h-1zM74 36h1v1h-1zM4 37h1v1h-1zM9 37h1v1h-1zM38 37h1v1h-1zM56 37h1v1h-1zM62 37h1v1h-1zM10 38h1v1h-1zM19 38h1v1h-1zM25 38h1v1h-1zM37 38h1v1h-1zM0 39h1v1h-1zM6 39h1v1h-1zM12 39h1v1h-1zM31 39h1v1h-1zM32 39h1v1h-1zM56 39h1v1h-1zM74 39h1v1h-1zM6 41h1v1h-1zM19 41h1v1h-1zM23 41h1v1h-1zM51 41h1v1h-1zM63 41h1v1h-1zM70 41h1v1h-1zM4 42h1v1h-1zM33 42h1v1h-1zM0 43h1v1h-1zM56 43h1v1h-1zM5 44h1v1h-1zM35 44h1v1h-1zM69 44h1v1h-1zM71 44h1v1h-1zM2 45h1v1h-1zM17 45h1v1h-1zM21 45h1v1h-1zM35 45h1v1h-1zM36 45h1v1h-1zM58 45h1v1h-1zM3 46h1v1h-1zM4 46h1v1h-1zM13 46h1v1h-1zM14 46h1v1h-1zM36 46h1v1h-1zM61 46h1v1h-1zM21 47h1v1h-1zM27 47h1v1h-1zM59 47h1v1h-1zM70 47h1v1h-1zM54 48h1v1h-1zM65 48h1v1h-1zM5 49h1v1h-1zM24 49h1v1h-1zM65 49h1v1h-1zM68 49h1v1h-1zM72 49h1v1h-1zM10 51h1v1h-1zM14 51h1v1h-1zM41 51h1v1h-1zM56 51h1v1h-1zM62 51h1v1h-1zM7 52h1v1h-1zM21 52h1v1h-1zM27 52h1v1h-1zM63 52h1v1h-1zM66 52h1v1h-1zM69 52h1v1h-1zM4 53h1v1h-1zM57 53h1v1h-1zM1 54h1v1h-1zM3 54h1v1h-1zM48 54h1v1h-1zM56 54h1v1h-1zM57 54h1v1h-1zM6 55h1v1h-1zM19 55h1v1h-1zM30 55h1v1h-1zM66 55h1v1h-1zM70 55h1v1h-1zM0 56h1v1h-1zM7 56h1v1h-1zM37 56h1v1h-1zM39 56h1v1h-1zM43 56h1v1h-1zM51 56h1v1h-1zM54 56h1v1h-1zM64 56h1v1h-1zM0 57h1v1h-1zM30 57h1v1h-1zM53 57h1v1h-1zM54 57h1v1h-1zM15 58h1v1h-1zM45 58h1v1h-1zM26 59h1v1h-1zM31 59h1v1h-1zM32 59h1v1h-1zM34 59h1v1h-1zM47 59h1v1h-1zM72 59h1v1h-1zM18 60h1v1h-1zM24 61h1v1h-1zM26 61h1v1h-1zM46 61h1v1h-1zM12 62h1v1h-1zM22 62h1v1h-1zM33 62h1v1h-1zM37 62h1v1h-1zM51 62h1v1h-1zM63 62h1v1h-1zM19 63h1v1h-1zM23 63h1v1h-1zM41 63h1v1h-1zM52 63h1v1h-1zM62 63h1v1h-1zM14 64h1v1h-1zM20 64h1v1h-1zM31 64h1v1h-1zM56 64h1v1h-1zM20 65h1v1h-1zM48 65h1v1h-1zM49 65h1v1h-1zM69 65h1v1h-1zM71 65h1v1h-1zM1 66h1v1h-1zM2 66h1v1h-1zM20 66h1v1h-1zM35 66h1v1h-1zM52 66h1v1h-1zM55 66h1v1h-1zM4 67h1v1h-1zM26 67h1v1h-1zM0 68h1v1h-1zM36 68h1v1h-1zM49 68h1v1h-1zM6 69h1v1h-1zM26 69h1v1h-1zM44 69h1v1h-1zM52 69h1v1h-1zM65 69h1v1h-1zM0 70h1v1h-1zM22 70h1v1h-1zM24 70h1v1h-1zM41 70h1v1h-1zM47 70h1v1h-1zM55 70h1v1h-1zM21 71h1v1h-1zM23 71h1v1h-1zM32 71h1v1h-1zM33 71h1v1h-1zM44 71h1v1h-1zM65 71h1v1h-1zM18 72h1v1h-1zM23 72h1v1h-1zM29 72h1v1h-1zM32 72h1v1h-1zM49 72h1v1h-1zM59 72h1v1h-1zM10 73h1v1h-1zM11 73h1v1h-1zM21 73h1v1h-1zM5 74h1v1h-1zM9 74h1v1h-1zM11 74h1v1h-1zM16 74h1v1h-1zM27 74h1v1h-1zM36 74h1v1h-1zM39 74h1v1h-1zM18 75h1v1h-1z"/><path fill="#415ff2" d="M8 0h1v1h-1zM14 0h1v1h-1zM20 0h1v1h-1zM36 0h1v1h-1zM46 0h1v1h-1zM69 0h1v1h-1zM9 1h1v1h-1zM11 1h1v1h-1zM47 1h1v1h-1zM51 1h1v1h-1zM7 2h1v1h-1zM35 2h1v1h-1zM42 2h1v1h-1zM63 2h1v1h-1zM27 3h1v1h-1zM31 3h1v1h-1zM36 3h1v1h-1zM37 3h1v1h-1zM42 3h1v1h-1zM45 3h1v1h-1zM56 3h1v1h-1zM58 3h1v1h-1zM60 3h1v1h-1zM64 3h1v1h-1zM9 4h1v1h-1zM17 4h1v1h-1zM44 4h1v1h-1zM47 4h1v1h-1zM50 4h1v1h-1zM60 4h1v1h-1zM61 4h1v1h-1zM6 5h1v1h-1zM8 5h1v1h-1zM24 5h1v1h-1zM31 5h1v1h-1zM32 5h1v1h-1zM33 5h1v1h-1zM34 5h1v1h-1zM47 5h1v1h-1zM59 5h1v1h-1zM65 5h1v1h-1zM71 5h1v1h-1zM5 6h1v1h-1zM10 6h1v1h-1zM27 6h1v1h-1zM28 6h1v1h-1zM33 6h1v1h-1zM37 6h1v1h-1zM52 6h1v1h-1zM56 6h1v1h-1zM59 6h1v1h-1zM60 6h1v1h-1zM67 6h1v1h-1zM2 7h1v1h-1zM13 7h1v1h-1zM15 7h1v1h-1zM18 7h1v1h-1zM47 7h1v1h-1zM58 7h1v1h-1zM59 7h1v1h-1zM65 7h1v1h-1zM68 7h1v1h-1zM0 8h1v1h-1zM5 8h1v1h-1zM13 8h1v1h-1zM14 8h1v1h-1zM19 8h1v1h-1zM25 8h1v1h-1zM47 8h1v1h-1zM52 8h1v1h-1zM56 8h1v1h-1zM57 8h1v1h-1zM67 8h1v1h-1zM68 8h1v1h-1zM69 8h1v1h-1zM1 9h1v1h-1zM4 9h1v1h-1zM35 9h1v1h-1zM40 9h1v1h-1zM6 10h1v1h-1zM16 10h1v1h-1zM40 10h1v1h-1zM41 10h1v1h-1zM44 10h1v1h-1zM50 10h1v1h-1zM53 10h1v1h-1zM64 10h1v1h-1zM1 11h1v1h-1zM56 11h1v1h-1zM59 11h1v1h-1zM63 11h1v1h-1zM40 12h1v1h-1zM44 12h1v1h-1zM47 12h1v1h-1zM48 12h1v1h-1zM52 12h1v1h-1zM64 12h1v1h-1zM73 12h1v1h-1zM7 13h1v1h-1zM8 13h1v1h-1zM36 13h1v1h-1zM38 13h1v1h-1zM39 13h1v1h-1zM52 13h1v1h-1zM53 13h1v1h-1zM71 13h1v1h-1zM73 13h1v1h-1zM0 14h1v1h-1zM8 14h1v1h-1zM42 14h1v1h-1zM54 14h1v1h-1zM66 14h1v1h-1zM75 14h1v1h-1zM7 15h1v1h-1zM37 15h1v1h-1zM57 15h1v1h-1zM63 15h1v1h-1zM64 15h1v1h-1zM71 15h1v1h-1zM72 15h1v1h-1zM10 16h1v1h-1zM20 16h1v1h-1zM45 16h1v1h-1zM62 16h1v1h-1zM4 17h1v1h-1zM33 17h1v1h-1zM39 17h1v1h-1zM43 17h1v1h-1zM49 17h1v1h-1zM57 17h1v1h-1zM60 17h1v1h-1zM67 17h1v1h-1zM75 17h1v1h-1zM7 18h1v1h-1zM22 18h1v1h-1zM23 18h1v1h-1zM26 18h1v1h-1zM37 18h1v1h-1zM42 18h1v1h-1zM50 18h1v1h-1zM62 18h1v1h-1zM63 18h1v1h-1zM69 18h1v1h-1zM8 19h1v1h-1zM21 19h1v1h-1zM28 19h1v1h-1zM32 19h1v1h-1zM39 19h1v1h-1zM67 19h1v1h-1zM72 19h1v1h-1zM75 19h1v1h-1zM0 20h1v1h-1zM16 20h1v1h-1zM42 20h1v1h-1zM44 20h1v1h-1zM62 20h1v1h-1zM19 21h1v1h-1zM40 21h1v1h-1zM51 21h1v1h-1zM59 21h1v1h-1zM65 21h1v1h-1zM74 21h1v1h-1zM75 21h1v1h-1zM18 22h1v1h-1zM23 22h1v1h-1zM28 22h1v1h-1zM30 22h1v1h-1zM41 22h1v1h-1zM43 22h1v1h-1zM44 22h1v1h-1zM48 22h1v1h-1zM54 22h1v1h-1zM72 22h1v1h-1zM18 23h1v1h-1zM22 23h1v1h-1zM25 23h1v1h-1zM40 23h1v1h-1zM66 23h1v1h-1zM74 23h1v1h-1zM5 24h1v1h-1zM27 24h1v1h-1zM29 24h1v1h-1zM30 24h1v1h-1zM37 24h1v1h-1zM47 24h1v1h-1zM59 24h1v1h-1zM71 24h1v1h-1zM8 25h1v1h-1zM23 25h1v1h-1zM28 25h1v1h-1zM35 25h1v1h-1zM40 25h1v1h-1zM68 25h1v1h-1zM70 25h1v1h-1zM74 25h1v1h-1zM18 26h1v1h-1zM38 26h1v1h-1zM50 26h1v1h-1zM51 26h1v1h-1zM55 26h1v1h-1zM3 27h1v1h-1zM6 27h1v1h-1zM24 27h1v1h-1zM38 27h1v1h-1zM43 27h1v1h-1zM48 27h1v1h-1zM59 27h1v1h-1zM70 27h1v1h-1zM6 28h1v1h-1zM19 28h1v1h-1zM22 28h1v1h-1zM25 28h1v1h-1zM42 28h1v1h-1zM45 28h1v1h-1zM47 28h1v1h-1zM49 28h1v1h-1zM56 28h1v1h-1zM59 28h1v1h-1zM62 28h1v1h-1zM24 29h1v1h-1zM31 29h1v1h-1zM36 29h1v1h-1zM37 29h1v1h-1zM38 29h1v1h-1zM41 29h1v1h-1zM43 29h1v1h-1zM48 29h1v1h-1zM49 29h1v1h-1zM54 29h1v1h-1zM56 29h1v1h-1zM62 29h1v1h-1zM66 29h1v1h-1zM69 29h1v1h-1zM71 29h1v1h-1zM22 30h1v1h-1zM24 30h1v1h-1zM49 30h1v1h-1zM62 30h1v1h-1zM70 30h1v1h-1zM3 31h1v1h-1zM5 31h1v1h-1zM29 31h1v1h-1zM37 31h1v1h-1zM44 31h1v1h-1zM47 31h1v1h-1zM55 31h1v1h-1zM66 31h1v1h-1zM75 31h1v1h-1zM5 32h1v1h-1zM19 32h1v1h-1zM44 32h1v1h-1zM67 32h1v1h-1zM5 33h1v1h-1zM6 33h1v1h-1zM17 33h1v1h-1zM38 33h1v1h-1zM56 33h1v1h-1zM69 33h1v1h-1zM73 33h1v1h-1zM5 34h1v1h-1zM37 34h1v1h-1zM58 34h1v1h-1zM65 34h1v1h-1zM2 35h1v1h-1zM9 35h1v1h-1zM25 35h1v1h-1zM39 35h1v1h-1zM46 35h1v1h-1zM51 35h1v1h-1zM72 35h1v1h-1zM0 36h1v1h-1zM3 36h1v1h-1zM13 36h1v1h-1zM29 36h1v1h-1zM41 36h1v1h-1zM44 36h1v1h-1zM3 37h1v1h-1zM6 37h1v1h-1zM15 37h1v1h-1zM18 37h1v1h-1zM24 37h1v1h-1zM29 37h1v1h-1zM31 37h1v1h-1zM34 37h1v1h-1zM46 37h1v1h-1zM48 37h1v1h-1zM52 37h1v1h-1zM54 37h1v1h-1zM13 38h1v1h-1zM26 38h1v1h-1zM27 38h1v1h-1zM29 38h1v1h-1zM33 38h1v1h-1zM46 38h1v1h-1zM61 38h1v1h-1zM13 39h1v1h-1zM17 39h1v1h-1zM19 39h1v1h-1zM35 39h1v1h-1zM44 39h1v1h-1zM50 39h1v1h-1zM59 39h1v1h-1zM73 39h1v1h-1zM9 40h1v1h-1zM10 40h1v1h-1zM12 40h1v1h-1zM21 40h1v1h-1zM23 40h1v1h-1zM25 40h1v1h-1zM50 40h1v1h-1zM70 40h1v1h-1zM71 40h1v1h-1zM10 41h1v1h-1zM22 41h1v1h-1zM29 41h1v1h-1zM36 41h1v1h-1zM47 41h1v1h-1zM52 41h1v1h-1zM58 41h1v1h-1zM65 41h1v1h-1zM66 41h1v1h-1zM2 42h1v1h-1zM3 42h1v1h-1zM14 42h1v1h-1zM18 42h1v1h-1zM20 42h1v1h-1zM28 42h1v1h-1zM65 42h1v1h-1zM70 42h1v1h-1zM71 42h1v1h-1zM17 43h1v1h-1zM22 43h1v1h-1zM27 43h1v1h-1zM29 43h1v1h-1zM62 43h1v1h-1zM63 43h1v1h-1zM4 44h1v1h-1zM10 44h1v1h-1zM12 44h1v1h-1zM20 44h1v1h-1zM22 44h1v1h-1zM31 44h1v1h-1zM32 44h1v1h-1zM36 44h1v1h-1zM39 44h1v1h-1zM55 44h1v1h-1zM67 44h1v1h-1zM68 44h1v1h-1zM3 45h1v1h-1zM16 45h1v1h-1zM28 45h1v1h-1zM70 45h1v1h-1zM0 46h1v1h-1zM35 46h1v1h-1zM37 46h1v1h-1zM38 46h1v1h-1zM50 46h1v1h-1zM55 46h1v1h-1zM69 46h1v1h-1zM74 46h1v1h-1zM1 47h1v1h-1zM4 47h1v1h-1zM5 47h1v1h-1zM7 47h1v1h-1zM8 47h1v1h-1zM12 47h1v1h-1zM24 47h1v1h-1zM28 47h1v1h-1zM31 47h1v1h-1zM41 47h1v1h-1zM68 47h1v1h-1zM74 47h1v1h-1zM12 48h1v1h-1zM22 48h1v1h-1zM27 48h1v1h-1zM29 48h1v1h-1zM37 48h1v1h-1zM52 48h1v1h-1zM66 48h1v1h-1zM69 48h1v1h-1zM17 49h1v1h-1zM28 49h1v1h-1zM29 49h1v1h-1zM30 49h1v1h-1zM55 49h1v1h-1zM70 49h1v1h-1zM4 50h1v1h-1zM10 50h1v1h-1zM18 50h1v1h-1zM26 50h1v1h-1zM39 50h1v1h-1zM40 50h1v1h-1zM46 50h1v1h-1zM52 50h1v1h-1zM66 50h1v1h-1zM1 51h1v1h-1zM21 51h1v1h-1zM26 51h1v1h-1zM35 51h1v1h-1zM53 51h1v1h-1zM64 51h1v1h-1zM71 51h1v1h-1zM73 51h1v1h-1zM74 51h1v1h-1zM6 52h1v1h-1zM8 52h1v1h-1zM12 52h1v1h-1zM13 52h1v1h-1zM37 52h1v1h-1zM41 52h1v1h-1zM48 52h1v1h-1zM50 52h1v1h-1zM62 52h1v1h-1zM73 52h1v1h-1zM74 52h1v1h-1zM10 53h1v1h-1zM13 53h1v1h-1zM51 53h1v1h-1zM58 53h1v1h-1zM65 53h1v1h-1zM72 53h1v1h-1zM73 53h1v1h-1zM14 54h1v1h-1zM22 54h1v1h-1zM29 54h1v1h-1zM37 54h1v1h-1zM59 54h1v1h-1zM62 54h1v1h-1zM68 54h1v1h-1zM71 54h1v1h-1zM74 54h1v1h-1zM75 54h1v1h-1zM26 55h1v1h-1zM31 55h1v1h-1zM44 55h1v1h-1zM46 55h1v1h-1zM49 55h1v1h-1zM59 55h1v1h-1zM75 55h1v1h-1zM3 56h1v1h-1zM6 56h1v1h-1zM8 56h1v1h-1zM11 56h1v1h-1zM28 56h1v1h-1zM29 56h1v1h-1zM33 56h1v1h-1zM61 56h1v1h-1zM69 56h1v1h-1zM70 56h1v1h-1zM8 57h1v1h-1zM15 57h1v1h-1zM17 57h1v1h-1zM70 57h1v1h-1zM3 58h1v1h-1zM7 58h1v1h-1zM34 58h1v1h-1zM41 58h1v1h-1zM53 58h1v1h-1zM67 58h1v1h-1zM70 58h1v1h-1zM5 59h1v1h-1zM6 59h1v1h-1zM7 59h1v1h-1zM11 59h1v1h-1zM21 59h1v1h-1zM24 59h1v1h-1zM27 59h1v1h-1zM28 59h1v1h-1zM39 59h1v1h-1zM54 59h1v1h-1zM55 59h1v1h-1zM60 59h1v1h-1zM70 59h1v1h-1zM3 60h1v1h-1zM4 60h1v1h-1zM6 60h1v1h-1zM17 60h1v1h-1zM59 60h1v1h-1zM4 61h1v1h-1zM38 61h1v1h-1zM56 61h1v1h-1zM62 61h1v1h-1zM67 61h1v1h-1zM70 61h1v1h-1zM73 61h1v1h-1zM16 62h1v1h-1zM18 62h1v1h-1zM20 62h1v1h-1zM28 62h1v1h-1zM29 62h1v1h-1zM30 62h1v1h-1zM43 62h1v1h-1zM52 62h1v1h-1zM54 62h1v1h-1zM61 62h1v1h-1zM66 62h1v1h-1zM71 62h1v1h-1zM2 63h1v1h-1zM11 63h1v1h-1zM15 63h1v1h-1zM18 63h1v1h-1zM43 63h1v1h-1zM64 63h1v1h-1zM66 63h1v1h-1zM68 63h1v1h-1zM3 64h1v1h-1zM10 64h1v1h-1zM12 64h1v1h-1zM15 64h1v1h-1zM51 64h1v1h-1zM63 64h1v1h-1zM66 64h1v1h-1zM71 64h1v1h-1zM5 65h1v1h-1zM7 65h1v1h-1zM21 65h1v1h-1zM34 65h1v1h-1zM41 65h1v1h-1zM42 65h1v1h-1zM53 65h1v1h-1zM14 66h1v1h-1zM23 66h1v1h-1zM29 66h1v1h-1zM31 66h1v1h-1zM41 66h1v1h-1zM48 66h1v1h-1zM50 66h1v1h-1zM62 66h1v1h-1zM63 66h1v1h-1zM64 66h1v1h-1zM67 66h1v1h-1zM70 66h1v1h-1zM6 67h1v1h-1zM8 67h1v1h-1zM17 67h1v1h-1zM19 67h1v1h-1zM32 67h1v1h-1zM44 67h1v1h-1zM58 67h1v1h-1zM61 67h1v1h-1zM66 67h1v1h-1zM68 67h1v1h-1zM69 67h1v1h-1zM75 67h1v1h-1zM7 68h1v1h-1zM8 68h1v1h-1zM25 68h1v1h-1zM44 68h1v1h-1zM47 68h1v1h-1zM54 68h1v1h-1zM63 68h1v1h-1zM67 68h1v1h-1zM74 68h1v1h-1zM75 68h1v1h-1zM0 69h1v1h-1zM8 69h1v1h-1zM18 69h1v1h-1zM29 69h1v1h-1zM33 69h1v1h-1zM46 69h1v1h-1zM48 69h1v1h-1zM56 69h1v1h-1zM67 69h1v1h-1zM25 70h1v1h-1zM27 70h1v1h-1zM30 70h1v1h-1zM40 70h1v1h-1zM42 70h1v1h-1zM45 70h1v1h-1zM49 70h1v1h-1zM56 70h1v1h-1zM57 70h1v1h-1zM58 70h1v1h-1zM59 70h1v1h-1zM61 70h1v1h-1zM66 70h1v1h-1zM5 71h1v1h-1zM13 71h1v1h-1zM15 71h1v1h-1zM24 71h1v1h-1zM29 71h1v1h-1zM40 71h1v1h-1zM42 71h1v1h-1zM51 71h1v1h-1zM54 71h1v1h-1zM62 71h1v1h-1zM64 71h1v1h-1zM15 72h1v1h-1zM19 72h1v1h-1zM22 72h1v1h-1zM35 72h1v1h-1zM53 72h1v1h-1zM12 73h1v1h-1zM13 73h1v1h-1zM33 73h1v1h-1zM39 73h1v1h-1zM51 73h1v1h-1zM52 73h1v1h-1zM53 73h1v1h-1zM61 73h1v1h-1zM21 74h1v1h-1zM23 74h1v1h-1zM25 74h1v1h-1zM46 74h1v1h-1zM47 74h1v1h-1zM51 74h1v1h-1zM52 74h1v1h-1zM54 74h1v1h-1zM68 74h1v1h-1zM14 75h1v1h-1zM17 75h1v1h-1zM19 75h1v1h-1zM21 75h1v1h-1zM31 75h1v1h-1zM54 75h1v1h-1zM55 75h1v1h-1zM67 75h1v1h-1zM68 75h1v1h-1z"/><path fill="#476cf3" d="M11 0h1v1h-1zM26 0h1v1h-1zM61 0h1v1h-1zM64 0h1v1h-1zM65 0h1v1h-1zM75 0h1v1h-1zM2 1h1v1h-1zM45 1h1v1h-1zM55 1h1v1h-1zM65 1h1v1h-1zM67 1h1v1h-1zM69 1h1v1h-1zM1 2h1v1h-1zM17 2h1v1h-1zM23 2h1v1h-1zM25 2h1v1h-1zM26 2h1v1h-1zM32 2h1v1h-1zM41 2h1v1h-1zM58 2h1v1h-1zM67 2h1v1h-1zM38 3h1v1h-1zM15 4h1v1h-1zM48 4h1v1h-1zM49 4h1v1h-1zM52 4h1v1h-1zM56 4h1v1h-1zM57 4h1v1h-1zM71 4h1v1h-1zM21 5h1v1h-1zM38 5h1v1h-1zM46 5h1v1h-1zM48 5h1v1h-1zM52 5h1v1h-1zM56 5h1v1h-1zM57 5h1v1h-1zM61 5h1v1h-1zM66 5h1v1h-1zM29 6h1v1h-1zM32 6h1v1h-1zM64 6h1v1h-1zM70 6h1v1h-1zM17 7h1v1h-1zM21 7h1v1h-1zM22 7h1v1h-1zM26 7h1v1h-1zM33 7h1v1h-1zM37 7h1v1h-1zM64 7h1v1h-1zM17 8h1v1h-1zM22 8h1v1h-1zM28 8h1v1h-1zM29 8h1v1h-1zM63 8h1v1h-1zM71 8h1v1h-1zM73 8h1v1h-1zM16 9h1v1h-1zM29 9h1v1h-1zM32 9h1v1h-1zM36 9h1v1h-1zM39 9h1v1h-1zM43 9h1v1h-1zM49 9h1v1h-1zM50 9h1v1h-1zM54 9h1v1h-1zM60 9h1v1h-1zM61 9h1v1h-1zM15 10h1v1h-1zM18 10h1v1h-1zM29 10h1v1h-1zM36 10h1v1h-1zM37 10h1v1h-1zM42 10h1v1h-1zM43 10h1v1h-1zM45 10h1v1h-1zM56 10h1v1h-1zM57 10h1v1h-1zM61 10h1v1h-1zM70 10h1v1h-1zM0 11h1v1h-1zM41 11h1v1h-1zM52 11h1v1h-1zM61 11h1v1h-1zM69 11h1v1h-1zM72 11h1v1h-1zM21 12h1v1h-1zM31 12h1v1h-1zM34 12h1v1h-1zM46 12h1v1h-1zM59 12h1v1h-1zM70 12h1v1h-1zM15 13h1v1h-1zM17 13h1v1h-1zM40 13h1v1h-1zM41 13h1v1h-1zM42 13h1v1h-1zM58 13h1v1h-1zM62 13h1v1h-1zM22 14h1v1h-1zM23 14h1v1h-1zM47 14h1v1h-1zM50 14h1v1h-1zM63 14h1v1h-1zM69 14h1v1h-1zM4 15h1v1h-1zM10 15h1v1h-1zM13 15h1v1h-1zM25 15h1v1h-1zM34 15h1v1h-1zM54 15h1v1h-1zM73 15h1v1h-1zM75 15h1v1h-1zM9 16h1v1h-1zM35 16h1v1h-1zM38 16h1v1h-1zM40 16h1v1h-1zM42 16h1v1h-1zM48 16h1v1h-1zM49 16h1v1h-1zM52 16h1v1h-1zM54 16h1v1h-1zM56 16h1v1h-1zM65 16h1v1h-1zM68 16h1v1h-1zM69 16h1v1h-1zM72 16h1v1h-1zM2 17h1v1h-1zM7 17h1v1h-1zM8 17h1v1h-1zM13 17h1v1h-1zM18 17h1v1h-1zM41 17h1v1h-1zM42 17h1v1h-1zM58 17h1v1h-1zM59 17h1v1h-1zM61 17h1v1h-1zM63 17h1v1h-1zM72 17h1v1h-1zM73 17h1v1h-1zM74 17h1v1h-1zM10 18h1v1h-1zM17 18h1v1h-1zM24 18h1v1h-1zM32 18h1v1h-1zM61 18h1v1h-1zM68 18h1v1h-1zM73 18h1v1h-1zM31 19h1v1h-1zM46 19h1v1h-1zM48 19h1v1h-1zM49 19h1v1h-1zM52 19h1v1h-1zM54 19h1v1h-1zM64 19h1v1h-1zM66 19h1v1h-1zM69 19h1v1h-1zM34 20h1v1h-1zM41 20h1v1h-1zM45 20h1v1h-1zM47 20h1v1h-1zM48 20h1v1h-1zM72 20h1v1h-1zM73 20h1v1h-1zM5 21h1v1h-1zM7 21h1v1h-1zM12 21h1v1h-1zM28 21h1v1h-1zM30 21h1v1h-1zM56 21h1v1h-1zM7 22h1v1h-1zM8 22h1v1h-1zM14 22h1v1h-1zM25 22h1v1h-1zM36 22h1v1h-1zM42 22h1v1h-1zM47 22h1v1h-1zM52 22h1v1h-1zM61 22h1v1h-1zM66 22h1v1h-1zM69 22h1v1h-1zM75 22h1v1h-1zM2 23h1v1h-1zM14 23h1v1h-1zM46 23h1v1h-1zM75 23h1v1h-1zM18 24h1v1h-1zM28 24h1v1h-1zM32 24h1v1h-1zM42 24h1v1h-1zM44 24h1v1h-1zM46 24h1v1h-1zM54 24h1v1h-1zM66 24h1v1h-1zM69 24h1v1h-1zM2 25h1v1h-1zM15 25h1v1h-1zM22 25h1v1h-1zM36 25h1v1h-1zM37 25h1v1h-1zM43 25h1v1h-1zM44 25h1v1h-1zM50 25h1v1h-1zM51 25h1v1h-1zM52 25h1v1h-1zM53 25h1v1h-1zM54 25h1v1h-1zM58 25h1v1h-1zM62 25h1v1h-1zM64 25h1v1h-1zM0 26h1v1h-1zM2 26h1v1h-1zM7 26h1v1h-1zM37 26h1v1h-1zM40 26h1v1h-1zM44 26h1v1h-1zM54 26h1v1h-1zM58 26h1v1h-1zM60 26h1v1h-1zM66 26h1v1h-1zM31 27h1v1h-1zM33 27h1v1h-1zM51 27h1v1h-1zM55 27h1v1h-1zM60 27h1v1h-1zM75 27h1v1h-1zM8 28h1v1h-1zM21 28h1v1h-1zM24 28h1v1h-1zM33 28h1v1h-1zM36 28h1v1h-1zM48 28h1v1h-1zM50 28h1v1h-1zM51 28h1v1h-1zM71 28h1v1h-1zM72 28h1v1h-1zM75 28h1v1h-1zM6 29h1v1h-1zM8 29h1v1h-1zM9 29h1v1h-1zM10 29h1v1h-1zM70 29h1v1h-1zM21 30h1v1h-1zM34 30h1v1h-1zM37 30h1v1h-1zM38 30h1v1h-1zM52 30h1v1h-1zM64 30h1v1h-1zM69 30h1v1h-1zM74 30h1v1h-1zM12 31h1v1h-1zM19 31h1v1h-1zM27 31h1v1h-1zM42 31h1v1h-1zM48 31h1v1h-1zM56 31h1v1h-1zM72 31h1v1h-1zM74 31h1v1h-1zM2 32h1v1h-1zM6 32h1v1h-1zM9 32h1v1h-1zM18 32h1v1h-1zM24 32h1v1h-1zM40 32h1v1h-1zM41 32h1v1h-1zM53 32h1v1h-1zM62 32h1v1h-1zM63 32h1v1h-1zM7 33h1v1h-1zM27 33h1v1h-1zM28 33h1v1h-1zM45 33h1v1h-1zM50 33h1v1h-1zM64 33h1v1h-1zM12 34h1v1h-1zM15 34h1v1h-1zM20 34h1v1h-1zM30 34h1v1h-1zM45 34h1v1h-1zM62 34h1v1h-1zM63 34h1v1h-1zM71 34h1v1h-1zM75 34h1v1h-1zM16 35h1v1h-1zM67 35h1v1h-1zM69 35h1v1h-1zM70 35h1v1h-1zM9 36h1v1h-1zM10 36h1v1h-1zM22 36h1v1h-1zM25 36h1v1h-1zM28 36h1v1h-1zM65 36h1v1h-1zM70 36h1v1h-1zM7 37h1v1h-1zM10 37h1v1h-1zM25 37h1v1h-1zM26 37h1v1h-1zM30 37h1v1h-1zM41 37h1v1h-1zM42 37h1v1h-1zM59 37h1v1h-1zM3 38h1v1h-1zM5 38h1v1h-1zM16 38h1v1h-1zM30 38h1v1h-1zM48 38h1v1h-1zM51 38h1v1h-1zM53 38h1v1h-1zM60 38h1v1h-1zM9 39h1v1h-1zM46 39h1v1h-1zM62 39h1v1h-1zM71 39h1v1h-1zM75 39h1v1h-1zM13 40h1v1h-1zM16 40h1v1h-1zM26 40h1v1h-1zM32 40h1v1h-1zM55 40h1v1h-1zM66 40h1v1h-1zM2 41h1v1h-1zM11 41h1v1h-1zM13 41h1v1h-1zM17 41h1v1h-1zM20 41h1v1h-1zM32 41h1v1h-1zM37 41h1v1h-1zM56 41h1v1h-1zM61 41h1v1h-1zM69 41h1v1h-1zM10 42h1v1h-1zM13 42h1v1h-1zM16 42h1v1h-1zM17 42h1v1h-1zM22 42h1v1h-1zM24 42h1v1h-1zM31 42h1v1h-1zM37 42h1v1h-1zM50 42h1v1h-1zM58 42h1v1h-1zM59 42h1v1h-1zM64 42h1v1h-1zM67 42h1v1h-1zM9 43h1v1h-1zM10 43h1v1h-1zM25 43h1v1h-1zM46 43h1v1h-1zM51 43h1v1h-1zM57 43h1v1h-1zM66 43h1v1h-1zM69 43h1v1h-1zM24 44h1v1h-1zM25 44h1v1h-1zM26 44h1v1h-1zM45 44h1v1h-1zM51 44h1v1h-1zM1 45h1v1h-1zM10 45h1v1h-1zM20 45h1v1h-1zM33 45h1v1h-1zM34 45h1v1h-1zM44 45h1v1h-1zM60 45h1v1h-1zM71 45h1v1h-1zM5 46h1v1h-1zM12 46h1v1h-1zM19 46h1v1h-1zM23 46h1v1h-1zM24 46h1v1h-1zM39 46h1v1h-1zM43 46h1v1h-1zM51 46h1v1h-1zM54 46h1v1h-1zM63 46h1v1h-1zM73 46h1v1h-1zM14 47h1v1h-1zM20 47h1v1h-1zM22 47h1v1h-1zM51 47h1v1h-1zM52 47h1v1h-1zM60 47h1v1h-1zM4 48h1v1h-1zM5 48h1v1h-1zM16 48h1v1h-1zM19 48h1v1h-1zM20 48h1v1h-1zM28 48h1v1h-1zM31 48h1v1h-1zM38 48h1v1h-1zM59 48h1v1h-1zM64 48h1v1h-1zM4 49h1v1h-1zM9 49h1v1h-1zM16 49h1v1h-1zM19 49h1v1h-1zM51 49h1v1h-1zM62 49h1v1h-1zM66 49h1v1h-1zM9 50h1v1h-1zM14 50h1v1h-1zM25 50h1v1h-1zM28 50h1v1h-1zM33 50h1v1h-1zM42 50h1v1h-1zM53 50h1v1h-1zM63 50h1v1h-1zM25 51h1v1h-1zM27 51h1v1h-1zM28 51h1v1h-1zM38 51h1v1h-1zM43 51h1v1h-1zM44 51h1v1h-1zM46 51h1v1h-1zM47 51h1v1h-1zM49 51h1v1h-1zM4 52h1v1h-1zM5 52h1v1h-1zM11 52h1v1h-1zM16 52h1v1h-1zM19 52h1v1h-1zM22 52h1v1h-1zM25 52h1v1h-1zM30 52h1v1h-1zM47 52h1v1h-1zM55 52h1v1h-1zM65 52h1v1h-1zM25 53h1v1h-1zM32 53h1v1h-1zM38 53h1v1h-1zM50 53h1v1h-1zM55 53h1v1h-1zM74 53h1v1h-1zM9 54h1v1h-1zM15 54h1v1h-1zM16 54h1v1h-1zM19 54h1v1h-1zM24 54h1v1h-1zM25 54h1v1h-1zM26 54h1v1h-1zM46 54h1v1h-1zM69 54h1v1h-1zM1 55h1v1h-1zM27 55h1v1h-1zM40 55h1v1h-1zM52 55h1v1h-1zM53 55h1v1h-1zM63 55h1v1h-1zM4 56h1v1h-1zM5 56h1v1h-1zM10 56h1v1h-1zM16 56h1v1h-1zM21 56h1v1h-1zM31 56h1v1h-1zM41 56h1v1h-1zM60 56h1v1h-1zM75 56h1v1h-1zM4 57h1v1h-1zM5 57h1v1h-1zM10 57h1v1h-1zM43 57h1v1h-1zM66 57h1v1h-1zM69 57h1v1h-1zM73 57h1v1h-1zM2 58h1v1h-1zM13 58h1v1h-1zM17 58h1v1h-1zM25 58h1v1h-1zM26 58h1v1h-1zM42 58h1v1h-1zM63 58h1v1h-1zM71 58h1v1h-1zM75 58h1v1h-1zM12 59h1v1h-1zM17 59h1v1h-1zM37 59h1v1h-1zM42 59h1v1h-1zM48 59h1v1h-1zM68 59h1v1h-1zM9 60h1v1h-1zM26 60h1v1h-1zM27 60h1v1h-1zM38 60h1v1h-1zM45 60h1v1h-1zM47 60h1v1h-1zM56 60h1v1h-1zM62 60h1v1h-1zM72 60h1v1h-1zM0 61h1v1h-1zM5 61h1v1h-1zM9 61h1v1h-1zM10 61h1v1h-1zM11 61h1v1h-1zM17 61h1v1h-1zM18 61h1v1h-1zM22 61h1v1h-1zM41 61h1v1h-1zM63 61h1v1h-1zM64 61h1v1h-1zM69 61h1v1h-1zM72 61h1v1h-1zM74 61h1v1h-1zM13 62h1v1h-1zM25 62h1v1h-1zM32 62h1v1h-1zM34 62h1v1h-1zM39 62h1v1h-1zM49 62h1v1h-1zM60 62h1v1h-1zM68 62h1v1h-1zM69 62h1v1h-1zM8 63h1v1h-1zM14 63h1v1h-1zM17 63h1v1h-1zM32 63h1v1h-1zM34 63h1v1h-1zM46 63h1v1h-1zM50 63h1v1h-1zM55 63h1v1h-1zM58 63h1v1h-1zM61 63h1v1h-1zM0 64h1v1h-1zM6 64h1v1h-1zM7 64h1v1h-1zM19 64h1v1h-1zM25 64h1v1h-1zM30 64h1v1h-1zM33 64h1v1h-1zM42 64h1v1h-1zM48 64h1v1h-1zM61 64h1v1h-1zM0 65h1v1h-1zM1 65h1v1h-1zM16 65h1v1h-1zM36 65h1v1h-1zM52 65h1v1h-1zM74 65h1v1h-1zM5 66h1v1h-1zM19 66h1v1h-1zM22 66h1v1h-1zM24 66h1v1h-1zM26 66h1v1h-1zM40 66h1v1h-1zM43 66h1v1h-1zM49 66h1v1h-1zM57 66h1v1h-1zM1 67h1v1h-1zM2 67h1v1h-1zM35 67h1v1h-1zM42 67h1v1h-1zM16 68h1v1h-1zM18 68h1v1h-1zM59 68h1v1h-1zM62 68h1v1h-1zM69 68h1v1h-1zM73 68h1v1h-1zM1 69h1v1h-1zM11 69h1v1h-1zM14 69h1v1h-1zM16 69h1v1h-1zM19 69h1v1h-1zM22 69h1v1h-1zM24 69h1v1h-1zM30 69h1v1h-1zM35 69h1v1h-1zM41 69h1v1h-1zM43 69h1v1h-1zM54 69h1v1h-1zM57 69h1v1h-1zM61 69h1v1h-1zM62 69h1v1h-1zM68 69h1v1h-1zM6 70h1v1h-1zM10 70h1v1h-1zM12 70h1v1h-1zM29 70h1v1h-1zM35 70h1v1h-1zM36 70h1v1h-1zM4 71h1v1h-1zM8 71h1v1h-1zM28 71h1v1h-1zM34 71h1v1h-1zM39 71h1v1h-1zM45 71h1v1h-1zM58 71h1v1h-1zM11 72h1v1h-1zM16 72h1v1h-1zM17 72h1v1h-1zM20 72h1v1h-1zM28 72h1v1h-1zM31 72h1v1h-1zM60 72h1v1h-1zM61 72h1v1h-1zM8 73h1v1h-1zM15 73h1v1h-1zM17 73h1v1h-1zM18 73h1v1h-1zM20 73h1v1h-1zM46 73h1v1h-1zM57 73h1v1h-1zM68 73h1v1h-1zM17 74h1v1h-1zM30 74h1v1h-1zM31 74h1v1h-1zM53 74h1v1h-1zM61 74h1v1h-1zM65 74h1v1h-1zM0 75h1v1h-1zM15 75h1v1h-1zM22 75h1v1h-1zM23 75h1v1h-1zM27 75h1v1h-1zM28 75h1v1h-1zM34 75h1v1h-1zM39 75h1v1h-1zM56 75h1v1h-1zM58 75h1v1h-1z"/><path fill="#4c79f3" d="M1 0h1v1h-1zM3 0h1v1h-1zM18 0h1v1h-1zM40 0h1v1h-1zM44 0h1v1h-1zM47 0h1v1h-1zM48 0h1v1h-1zM55 0h1v1h-1zM74 0h1v1h-1zM0 1h1v1h-1zM29 1h1v1h-1zM62 1h1v1h-1zM20 2h1v1h-1zM21 2h1v1h-1zM39 2h1v1h-1zM40 2h1v1h-1zM56 2h1v1h-1zM57 2h1v1h-1zM60 2h1v1h-1zM74 2h1v1h-1zM0 3h1v1h-1zM15 3h1v1h-1zM22 3h1v1h-1zM49 3h1v1h-1zM52 3h1v1h-1zM53 3h1v1h-1zM68 3h1v1h-1zM73 3h1v1h-1zM74 3h1v1h-1zM10 4h1v1h-1zM27 4h1v1h-1zM33 4h1v1h-1zM34 4h1v1h-1zM40 4h1v1h-1zM62 5h1v1h-1zM68 5h1v1h-1zM15 6h1v1h-1zM21 6h1v1h-1zM25 6h1v1h-1zM36 6h1v1h-1zM45 6h1v1h-1zM66 6h1v1h-1zM68 6h1v1h-1zM72 6h1v1h-1zM20 7h1v1h-1zM27 7h1v1h-1zM38 7h1v1h-1zM39 7h1v1h-1zM50 7h1v1h-1zM51 7h1v1h-1zM54 7h1v1h-1zM69 7h1v1h-1zM10 8h1v1h-1zM41 8h1v1h-1zM46 8h1v1h-1zM61 8h1v1h-1zM64 8h1v1h-1zM19 9h1v1h-1zM44 9h1v1h-1zM48 9h1v1h-1zM68 9h1v1h-1zM4 10h1v1h-1zM8 10h1v1h-1zM65 10h1v1h-1zM19 11h1v1h-1zM22 11h1v1h-1zM23 11h1v1h-1zM36 11h1v1h-1zM38 11h1v1h-1zM44 11h1v1h-1zM46 11h1v1h-1zM53 11h1v1h-1zM60 11h1v1h-1zM64 11h1v1h-1zM71 11h1v1h-1zM13 12h1v1h-1zM35 12h1v1h-1zM50 12h1v1h-1zM56 12h1v1h-1zM58 12h1v1h-1zM68 12h1v1h-1zM74 12h1v1h-1zM12 13h1v1h-1zM23 13h1v1h-1zM29 13h1v1h-1zM35 13h1v1h-1zM63 13h1v1h-1zM75 13h1v1h-1zM33 14h1v1h-1zM37 14h1v1h-1zM52 14h1v1h-1zM71 14h1v1h-1zM3 15h1v1h-1zM6 15h1v1h-1zM43 15h1v1h-1zM47 15h1v1h-1zM55 15h1v1h-1zM62 15h1v1h-1zM66 15h1v1h-1zM70 15h1v1h-1zM33 16h1v1h-1zM36 16h1v1h-1zM57 16h1v1h-1zM67 16h1v1h-1zM71 16h1v1h-1zM75 16h1v1h-1zM46 17h1v1h-1zM48 17h1v1h-1zM53 17h1v1h-1zM68 17h1v1h-1zM0 18h1v1h-1zM35 18h1v1h-1zM44 18h1v1h-1zM47 18h1v1h-1zM57 18h1v1h-1zM9 19h1v1h-1zM11 19h1v1h-1zM35 19h1v1h-1zM36 19h1v1h-1zM47 19h1v1h-1zM50 19h1v1h-1zM51 19h1v1h-1zM2 20h1v1h-1zM7 20h1v1h-1zM23 20h1v1h-1zM25 20h1v1h-1zM29 20h1v1h-1zM39 20h1v1h-1zM46 20h1v1h-1zM49 20h1v1h-1zM51 20h1v1h-1zM59 20h1v1h-1zM75 20h1v1h-1zM2 21h1v1h-1zM6 21h1v1h-1zM33 21h1v1h-1zM42 21h1v1h-1zM53 21h1v1h-1zM58 21h1v1h-1zM66 21h1v1h-1zM69 21h1v1h-1zM3 22h1v1h-1zM11 22h1v1h-1zM33 22h1v1h-1zM60 22h1v1h-1zM11 23h1v1h-1zM13 23h1v1h-1zM20 23h1v1h-1zM31 23h1v1h-1zM32 23h1v1h-1zM36 23h1v1h-1zM44 23h1v1h-1zM47 23h1v1h-1zM52 23h1v1h-1zM54 23h1v1h-1zM56 23h1v1h-1zM61 23h1v1h-1zM62 23h1v1h-1zM64 23h1v1h-1zM25 24h1v1h-1zM33 24h1v1h-1zM38 24h1v1h-1zM41 24h1v1h-1zM48 24h1v1h-1zM67 24h1v1h-1zM74 24h1v1h-1zM6 25h1v1h-1zM20 25h1v1h-1zM24 25h1v1h-1zM27 25h1v1h-1zM39 25h1v1h-1zM41 25h1v1h-1zM42 25h1v1h-1zM56 25h1v1h-1zM65 25h1v1h-1zM69 25h1v1h-1zM75 25h1v1h-1zM72 26h1v1h-1zM74 26h1v1h-1zM4 27h1v1h-1zM7 27h1v1h-1zM25 27h1v1h-1zM34 27h1v1h-1zM35 27h1v1h-1zM37 27h1v1h-1zM42 27h1v1h-1zM67 27h1v1h-1zM68 27h1v1h-1zM32 28h1v1h-1zM37 28h1v1h-1zM57 28h1v1h-1zM60 28h1v1h-1zM1 29h1v1h-1zM13 29h1v1h-1zM20 29h1v1h-1zM34 29h1v1h-1zM45 29h1v1h-1zM47 29h1v1h-1zM55 29h1v1h-1zM35 30h1v1h-1zM39 30h1v1h-1zM41 30h1v1h-1zM48 30h1v1h-1zM53 30h1v1h-1zM72 30h1v1h-1zM23 31h1v1h-1zM45 31h1v1h-1zM62 31h1v1h-1zM68 31h1v1h-1zM23 32h1v1h-1zM28 32h1v1h-1zM35 32h1v1h-1zM45 32h1v1h-1zM46 32h1v1h-1zM58 32h1v1h-1zM68 32h1v1h-1zM74 32h1v1h-1zM4 33h1v1h-1zM14 33h1v1h-1zM16 33h1v1h-1zM21 33h1v1h-1zM22 33h1v1h-1zM24 33h1v1h-1zM34 33h1v1h-1zM44 33h1v1h-1zM48 33h1v1h-1zM54 33h1v1h-1zM55 33h1v1h-1zM65 33h1v1h-1zM66 33h1v1h-1zM68 33h1v1h-1zM70 33h1v1h-1zM72 33h1v1h-1zM4 34h1v1h-1zM27 34h1v1h-1zM29 34h1v1h-1zM33 34h1v1h-1zM35 34h1v1h-1zM52 34h1v1h-1zM54 34h1v1h-1zM12 35h1v1h-1zM13 35h1v1h-1zM18 35h1v1h-1zM19 35h1v1h-1zM27 35h1v1h-1zM30 35h1v1h-1zM32 35h1v1h-1zM34 35h1v1h-1zM41 35h1v1h-1zM47 35h1v1h-1zM49 35h1v1h-1zM6 36h1v1h-1zM11 36h1v1h-1zM16 36h1v1h-1zM19 36h1v1h-1zM23 36h1v1h-1zM39 36h1v1h-1zM40 36h1v1h-1zM50 36h1v1h-1zM71 36h1v1h-1zM72 36h1v1h-1zM14 37h1v1h-1zM27 37h1v1h-1zM28 37h1v1h-1zM44 37h1v1h-1zM49 37h1v1h-1zM64 37h1v1h-1zM67 37h1v1h-1zM70 37h1v1h-1zM74 37h1v1h-1zM7 38h1v1h-1zM11 38h1v1h-1zM24 38h1v1h-1zM39 38h1v1h-1zM43 38h1v1h-1zM49 38h1v1h-1zM52 38h1v1h-1zM55 38h1v1h-1zM56 38h1v1h-1zM72 38h1v1h-1zM2 39h1v1h-1zM7 39h1v1h-1zM20 39h1v1h-1zM25 39h1v1h-1zM30 39h1v1h-1zM36 39h1v1h-1zM38 39h1v1h-1zM40 39h1v1h-1zM65 39h1v1h-1zM68 39h1v1h-1zM69 39h1v1h-1zM0 40h1v1h-1zM2 40h1v1h-1zM4 40h1v1h-1zM36 40h1v1h-1zM39 40h1v1h-1zM44 40h1v1h-1zM48 40h1v1h-1zM58 40h1v1h-1zM72 40h1v1h-1zM74 40h1v1h-1zM8 41h1v1h-1zM24 41h1v1h-1zM25 41h1v1h-1zM30 41h1v1h-1zM35 41h1v1h-1zM45 41h1v1h-1zM50 41h1v1h-1zM21 42h1v1h-1zM25 42h1v1h-1zM27 42h1v1h-1zM53 42h1v1h-1zM15 43h1v1h-1zM38 43h1v1h-1zM45 43h1v1h-1zM50 43h1v1h-1zM58 43h1v1h-1zM61 43h1v1h-1zM75 43h1v1h-1zM0 44h1v1h-1zM9 44h1v1h-1zM11 44h1v1h-1zM18 44h1v1h-1zM23 44h1v1h-1zM33 44h1v1h-1zM37 44h1v1h-1zM40 44h1v1h-1zM50 44h1v1h-1zM70 44h1v1h-1zM72 44h1v1h-1zM6 45h1v1h-1zM29 45h1v1h-1zM31 45h1v1h-1zM32 45h1v1h-1zM41 45h1v1h-1zM43 45h1v1h-1zM8 46h1v1h-1zM11 46h1v1h-1zM17 46h1v1h-1zM20 46h1v1h-1zM32 46h1v1h-1zM72 46h1v1h-1zM0 47h1v1h-1zM15 47h1v1h-1zM18 47h1v1h-1zM19 47h1v1h-1zM23 47h1v1h-1zM29 47h1v1h-1zM35 47h1v1h-1zM48 47h1v1h-1zM63 47h1v1h-1zM65 47h1v1h-1zM0 48h1v1h-1zM9 48h1v1h-1zM17 48h1v1h-1zM24 48h1v1h-1zM30 48h1v1h-1zM33 48h1v1h-1zM40 48h1v1h-1zM47 48h1v1h-1zM49 48h1v1h-1zM51 48h1v1h-1zM62 48h1v1h-1zM68 48h1v1h-1zM3 49h1v1h-1zM20 49h1v1h-1zM35 49h1v1h-1zM37 49h1v1h-1zM38 49h1v1h-1zM48 49h1v1h-1zM53 49h1v1h-1zM74 49h1v1h-1zM7 50h1v1h-1zM12 50h1v1h-1zM19 50h1v1h-1zM36 50h1v1h-1zM41 50h1v1h-1zM43 50h1v1h-1zM44 50h1v1h-1zM55 50h1v1h-1zM64 50h1v1h-1zM70 50h1v1h-1zM7 51h1v1h-1zM19 51h1v1h-1zM20 51h1v1h-1zM48 51h1v1h-1zM52 51h1v1h-1zM3 52h1v1h-1zM14 52h1v1h-1zM23 52h1v1h-1zM34 52h1v1h-1zM38 52h1v1h-1zM51 52h1v1h-1zM53 52h1v1h-1zM70 52h1v1h-1zM72 52h1v1h-1zM3 53h1v1h-1zM11 53h1v1h-1zM17 53h1v1h-1zM21 53h1v1h-1zM30 53h1v1h-1zM42 53h1v1h-1zM49 53h1v1h-1zM52 53h1v1h-1zM66 53h1v1h-1zM7 54h1v1h-1zM23 54h1v1h-1zM33 54h1v1h-1zM34 54h1v1h-1zM60 54h1v1h-1zM72 54h1v1h-1zM0 55h1v1h-1zM15 55h1v1h-1zM29 55h1v1h-1zM33 55h1v1h-1zM38 55h1v1h-1zM50 55h1v1h-1zM58 55h1v1h-1zM60 55h1v1h-1zM65 55h1v1h-1zM67 55h1v1h-1zM2 56h1v1h-1zM12 56h1v1h-1zM23 56h1v1h-1zM25 56h1v1h-1zM38 56h1v1h-1zM59 56h1v1h-1zM66 56h1v1h-1zM67 56h1v1h-1zM73 56h1v1h-1zM2 57h1v1h-1zM16 57h1v1h-1zM18 57h1v1h-1zM28 57h1v1h-1zM58 57h1v1h-1zM12 58h1v1h-1zM21 58h1v1h-1zM32 58h1v1h-1zM40 58h1v1h-1zM43 58h1v1h-1zM55 58h1v1h-1zM57 58h1v1h-1zM60 58h1v1h-1zM68 58h1v1h-1zM74 58h1v1h-1zM20 59h1v1h-1zM56 59h1v1h-1zM62 59h1v1h-1zM65 59h1v1h-1zM2 60h1v1h-1zM11 60h1v1h-1zM22 60h1v1h-1zM28 60h1v1h-1zM54 60h1v1h-1zM55 60h1v1h-1zM58 60h1v1h-1zM65 60h1v1h-1zM70 60h1v1h-1zM71 60h1v1h-1zM8 61h1v1h-1zM23 61h1v1h-1zM43 61h1v1h-1zM1 62h1v1h-1zM5 62h1v1h-1zM15 62h1v1h-1zM23 62h1v1h-1zM31 62h1v1h-1zM48 62h1v1h-1zM59 62h1v1h-1zM73 62h1v1h-1zM13 63h1v1h-1zM47 63h1v1h-1zM71 63h1v1h-1zM75 63h1v1h-1zM8 64h1v1h-1zM11 64h1v1h-1zM23 64h1v1h-1zM37 64h1v1h-1zM50 64h1v1h-1zM10 65h1v1h-1zM25 65h1v1h-1zM33 65h1v1h-1zM39 65h1v1h-1zM47 65h1v1h-1zM55 65h1v1h-1zM59 65h1v1h-1zM60 65h1v1h-1zM6 66h1v1h-1zM15 66h1v1h-1zM21 66h1v1h-1zM33 66h1v1h-1zM53 66h1v1h-1zM56 66h1v1h-1zM74 66h1v1h-1zM16 67h1v1h-1zM24 67h1v1h-1zM27 67h1v1h-1zM37 67h1v1h-1zM55 67h1v1h-1zM56 67h1v1h-1zM70 67h1v1h-1zM72 67h1v1h-1zM73 67h1v1h-1zM74 67h1v1h-1zM3 68h1v1h-1zM5 68h1v1h-1zM6 68h1v1h-1zM9 68h1v1h-1zM12 68h1v1h-1zM17 68h1v1h-1zM27 68h1v1h-1zM31 68h1v1h-1zM32 68h1v1h-1zM33 68h1v1h-1zM39 68h1v1h-1zM48 68h1v1h-1zM58 68h1v1h-1zM7 69h1v1h-1zM21 69h1v1h-1zM25 69h1v1h-1zM39 69h1v1h-1zM15 70h1v1h-1zM33 70h1v1h-1zM37 70h1v1h-1zM44 70h1v1h-1zM50 70h1v1h-1zM52 70h1v1h-1zM60 70h1v1h-1zM67 70h1v1h-1zM11 71h1v1h-1zM14 71h1v1h-1zM16 71h1v1h-1zM36 71h1v1h-1zM60 71h1v1h-1zM63 71h1v1h-1zM6 72h1v1h-1zM26 72h1v1h-1zM30 72h1v1h-1zM33 72h1v1h-1zM36 72h1v1h-1zM38 72h1v1h-1zM40 72h1v1h-1zM44 72h1v1h-1zM46 72h1v1h-1zM52 72h1v1h-1zM54 72h1v1h-1zM67 72h1v1h-1zM3 73h1v1h-1zM56 73h1v1h-1zM62 73h1v1h-1zM67 73h1v1h-1zM0 74h1v1h-1zM2 74h1v1h-1zM3 74h1v1h-1zM12 74h1v1h-1zM24 74h1v1h-1zM26 74h1v1h-1zM32 74h1v1h-1zM37 74h1v1h-1zM40 74h1v1h-1zM49 74h1v1h-1zM58 74h1v1h-1zM66 74h1v1h-1zM67 74h1v1h-1zM13 75h1v1h-1zM16 75h1v1h-1zM20 75h1v1h-1zM25 75h1v1h-1zM43 75h1v1h-1zM63 75h1v1h-1z"/><path fill="#5286f4" d="M24 0h1v1h-1zM29 0h1v1h-1zM35 0h1v1h-1zM52 0h1v1h-1zM66 0h1v1h-1zM32 1h1v1h-1zM50 1h1v1h-1zM59 1h1v1h-1zM64 1h1v1h-1zM13 2h1v1h-1zM29 2h1v1h-1zM30 2h1v1h-1zM37 2h1v1h-1zM50 2h1v1h-1zM65 2h1v1h-1zM72 2h1v1h-1zM4 3h1v1h-1zM8 3h1v1h-1zM39 3h1v1h-1zM41 3h1v1h-1zM48 3h1v1h-1zM57 3h1v1h-1zM62 3h1v1h-1zM69 3h1v1h-1zM3 4h1v1h-1zM5 4h1v1h-1zM62 4h1v1h-1zM63 4h1v1h-1zM74 4h1v1h-1zM4 5h1v1h-1zM17 5h1v1h-1zM58 5h1v1h-1zM60 5h1v1h-1zM64 5h1v1h-1zM72 5h1v1h-1zM75 5h1v1h-1zM35 6h1v1h-1zM38 6h1v1h-1zM46 6h1v1h-1zM71 6h1v1h-1zM9 7h1v1h-1zM42 7h1v1h-1zM43 7h1v1h-1zM48 7h1v1h-1zM60 7h1v1h-1zM62 7h1v1h-1zM3 8h1v1h-1zM12 8h1v1h-1zM18 8h1v1h-1zM21 8h1v1h-1zM34 8h1v1h-1zM39 8h1v1h-1zM40 8h1v1h-1zM50 8h1v1h-1zM72 8h1v1h-1zM75 8h1v1h-1zM7 9h1v1h-1zM11 9h1v1h-1zM17 9h1v1h-1zM18 9h1v1h-1zM27 9h1v1h-1zM34 9h1v1h-1zM42 9h1v1h-1zM53 9h1v1h-1zM57 9h1v1h-1zM72 9h1v1h-1zM75 9h1v1h-1zM34 10h1v1h-1zM39 10h1v1h-1zM47 10h1v1h-1zM60 10h1v1h-1zM63 10h1v1h-1zM9 11h1v1h-1zM30 11h1v1h-1zM66 11h1v1h-1zM68 11h1v1h-1zM8 12h1v1h-1zM22 12h1v1h-1zM32 12h1v1h-1zM54 12h1v1h-1zM57 12h1v1h-1zM75 12h1v1h-1zM2 13h1v1h-1zM25 13h1v1h-1zM34 13h1v1h-1zM45 13h1v1h-1zM54 13h1v1h-1zM56 13h1v1h-1zM59 13h1v1h-1zM64 13h1v1h-1zM65 13h1v1h-1zM16 14h1v1h-1zM32 14h1v1h-1zM55 14h1v1h-1zM58 14h1v1h-1zM60 14h1v1h-1zM65 14h1v1h-1zM18 15h1v1h-1zM44 15h1v1h-1zM48 15h1v1h-1zM60 15h1v1h-1zM61 15h1v1h-1zM14 16h1v1h-1zM21 16h1v1h-1zM27 16h1v1h-1zM41 16h1v1h-1zM55 16h1v1h-1zM58 16h1v1h-1zM61 16h1v1h-1zM63 16h1v1h-1zM66 16h1v1h-1zM70 16h1v1h-1zM5 17h1v1h-1zM9 17h1v1h-1zM23 17h1v1h-1zM27 17h1v1h-1zM35 17h1v1h-1zM37 17h1v1h-1zM8 18h1v1h-1zM9 18h1v1h-1zM15 18h1v1h-1zM34 18h1v1h-1zM36 18h1v1h-1zM38 18h1v1h-1zM54 18h1v1h-1zM58 18h1v1h-1zM59 18h1v1h-1zM71 18h1v1h-1zM37 19h1v1h-1zM44 19h1v1h-1zM45 19h1v1h-1zM60 19h1v1h-1zM65 19h1v1h-1zM22 20h1v1h-1zM52 20h1v1h-1zM53 20h1v1h-1zM56 20h1v1h-1zM58 20h1v1h-1zM61 20h1v1h-1zM8 21h1v1h-1zM16 21h1v1h-1zM22 21h1v1h-1zM41 21h1v1h-1zM50 21h1v1h-1zM63 21h1v1h-1zM67 21h1v1h-1zM12 22h1v1h-1zM20 22h1v1h-1zM21 22h1v1h-1zM35 22h1v1h-1zM38 22h1v1h-1zM45 22h1v1h-1zM46 22h1v1h-1zM50 22h1v1h-1zM51 22h1v1h-1zM59 22h1v1h-1zM63 22h1v1h-1zM68 22h1v1h-1zM17 23h1v1h-1zM24 23h1v1h-1zM35 23h1v1h-1zM38 23h1v1h-1zM42 23h1v1h-1zM43 23h1v1h-1zM45 23h1v1h-1zM58 23h1v1h-1zM68 23h1v1h-1zM0 24h1v1h-1zM23 24h1v1h-1zM55 24h1v1h-1zM57 24h1v1h-1zM64 24h1v1h-1zM68 24h1v1h-1zM13 25h1v1h-1zM61 25h1v1h-1zM46 26h1v1h-1zM57 26h1v1h-1zM70 26h1v1h-1zM9 27h1v1h-1zM16 27h1v1h-1zM17 27h1v1h-1zM41 27h1v1h-1zM49 27h1v1h-1zM54 27h1v1h-1zM66 27h1v1h-1zM38 28h1v1h-1zM52 28h1v1h-1zM55 28h1v1h-1zM61 28h1v1h-1zM73 28h1v1h-1zM0 29h1v1h-1zM2 29h1v1h-1zM51 29h1v1h-1zM59 29h1v1h-1zM2 30h1v1h-1zM11 30h1v1h-1zM36 30h1v1h-1zM43 30h1v1h-1zM44 30h1v1h-1zM51 30h1v1h-1zM58 30h1v1h-1zM65 30h1v1h-1zM66 30h1v1h-1zM73 30h1v1h-1zM75 30h1v1h-1zM41 31h1v1h-1zM51 31h1v1h-1zM57 31h1v1h-1zM71 31h1v1h-1zM1 32h1v1h-1zM12 32h1v1h-1zM14 32h1v1h-1zM34 32h1v1h-1zM69 32h1v1h-1zM49 33h1v1h-1zM52 33h1v1h-1zM8 34h1v1h-1zM9 34h1v1h-1zM10 34h1v1h-1zM13 34h1v1h-1zM18 34h1v1h-1zM32 34h1v1h-1zM36 34h1v1h-1zM48 34h1v1h-1zM53 34h1v1h-1zM61 34h1v1h-1zM68 34h1v1h-1zM0 35h1v1h-1zM6 35h1v1h-1zM17 35h1v1h-1zM22 35h1v1h-1zM23 35h1v1h-1zM58 35h1v1h-1zM62 35h1v1h-1zM18 36h1v1h-1zM30 36h1v1h-1zM34 36h1v1h-1zM38 36h1v1h-1zM2 37h1v1h-1zM17 37h1v1h-1zM19 37h1v1h-1zM61 37h1v1h-1zM63 37h1v1h-1zM71 37h1v1h-1zM73 37h1v1h-1zM6 38h1v1h-1zM18 38h1v1h-1zM22 38h1v1h-1zM23 38h1v1h-1zM28 38h1v1h-1zM36 38h1v1h-1zM47 38h1v1h-1zM58 38h1v1h-1zM73 38h1v1h-1zM74 38h1v1h-1zM3 39h1v1h-1zM8 39h1v1h-1zM10 39h1v1h-1zM53 39h1v1h-1zM64 39h1v1h-1zM8 40h1v1h-1zM46 40h1v1h-1zM73 40h1v1h-1zM3 41h1v1h-1zM16 41h1v1h-1zM21 41h1v1h-1zM27 41h1v1h-1zM31 41h1v1h-1zM53 41h1v1h-1zM75 41h1v1h-1zM7 42h1v1h-1zM9 42h1v1h-1zM23 42h1v1h-1zM46 42h1v1h-1zM56 42h1v1h-1zM60 42h1v1h-1zM73 42h1v1h-1zM7 43h1v1h-1zM23 43h1v1h-1zM30 43h1v1h-1zM44 43h1v1h-1zM47 43h1v1h-1zM48 43h1v1h-1zM15 44h1v1h-1zM19 44h1v1h-1zM30 44h1v1h-1zM43 44h1v1h-1zM49 44h1v1h-1zM75 44h1v1h-1zM13 45h1v1h-1zM19 45h1v1h-1zM22 45h1v1h-1zM23 45h1v1h-1zM50 45h1v1h-1zM63 45h1v1h-1zM65 45h1v1h-1zM68 45h1v1h-1zM6 46h1v1h-1zM22 46h1v1h-1zM26 46h1v1h-1zM40 46h1v1h-1zM42 46h1v1h-1zM66 46h1v1h-1zM68 46h1v1h-1zM75 46h1v1h-1zM10 47h1v1h-1zM38 47h1v1h-1zM43 47h1v1h-1zM54 47h1v1h-1zM57 47h1v1h-1zM72 47h1v1h-1zM3 48h1v1h-1zM7 48h1v1h-1zM15 48h1v1h-1zM34 48h1v1h-1zM43 48h1v1h-1zM56 48h1v1h-1zM57 48h1v1h-1zM61 48h1v1h-1zM72 48h1v1h-1zM74 48h1v1h-1zM27 49h1v1h-1zM33 49h1v1h-1zM44 49h1v1h-1zM71 49h1v1h-1zM1 50h1v1h-1zM2 50h1v1h-1zM8 50h1v1h-1zM21 50h1v1h-1zM22 50h1v1h-1zM45 50h1v1h-1zM59 50h1v1h-1zM69 50h1v1h-1zM22 51h1v1h-1zM29 51h1v1h-1zM30 51h1v1h-1zM31 51h1v1h-1zM57 51h1v1h-1zM59 51h1v1h-1zM60 51h1v1h-1zM67 51h1v1h-1zM69 51h1v1h-1zM0 52h1v1h-1zM20 52h1v1h-1zM28 52h1v1h-1zM33 52h1v1h-1zM57 52h1v1h-1zM58 52h1v1h-1zM9 53h1v1h-1zM20 53h1v1h-1zM34 53h1v1h-1zM39 53h1v1h-1zM41 53h1v1h-1zM56 53h1v1h-1zM59 53h1v1h-1zM60 53h1v1h-1zM68 53h1v1h-1zM75 53h1v1h-1zM12 54h1v1h-1zM13 54h1v1h-1zM18 54h1v1h-1zM27 54h1v1h-1zM47 54h1v1h-1zM63 54h1v1h-1zM65 54h1v1h-1zM70 54h1v1h-1zM14 55h1v1h-1zM16 55h1v1h-1zM24 55h1v1h-1zM28 55h1v1h-1zM56 55h1v1h-1zM62 55h1v1h-1zM68 55h1v1h-1zM71 55h1v1h-1zM73 55h1v1h-1zM74 55h1v1h-1zM13 56h1v1h-1zM20 56h1v1h-1zM42 56h1v1h-1zM48 56h1v1h-1zM53 56h1v1h-1zM55 56h1v1h-1zM63 56h1v1h-1zM72 56h1v1h-1zM3 57h1v1h-1zM9 57h1v1h-1zM12 57h1v1h-1zM24 57h1v1h-1zM26 57h1v1h-1zM31 57h1v1h-1zM47 57h1v1h-1zM48 57h1v1h-1zM51 57h1v1h-1zM52 57h1v1h-1zM60 57h1v1h-1zM74 57h1v1h-1zM5 58h1v1h-1zM14 58h1v1h-1zM16 58h1v1h-1zM18 58h1v1h-1zM20 58h1v1h-1zM23 58h1v1h-1zM30 58h1v1h-1zM35 58h1v1h-1zM38 58h1v1h-1zM52 58h1v1h-1zM61 58h1v1h-1zM64 58h1v1h-1zM72 58h1v1h-1zM1 59h1v1h-1zM13 59h1v1h-1zM18 59h1v1h-1zM22 59h1v1h-1zM29 59h1v1h-1zM50 59h1v1h-1zM51 59h1v1h-1zM53 59h1v1h-1zM5 60h1v1h-1zM7 60h1v1h-1zM10 60h1v1h-1zM14 60h1v1h-1zM15 60h1v1h-1zM19 60h1v1h-1zM42 60h1v1h-1zM51 60h1v1h-1zM53 60h1v1h-1zM57 60h1v1h-1zM64 60h1v1h-1zM68 60h1v1h-1zM73 60h1v1h-1zM15 61h1v1h-1zM16 61h1v1h-1zM20 61h1v1h-1zM25 61h1v1h-1zM28 61h1v1h-1zM34 61h1v1h-1zM37 61h1v1h-1zM48 61h1v1h-1zM58 61h1v1h-1zM65 61h1v1h-1zM3 62h1v1h-1zM4 62h1v1h-1zM7 62h1v1h-1zM35 62h1v1h-1zM55 62h1v1h-1zM70 62h1v1h-1zM4 63h1v1h-1zM10 63h1v1h-1zM16 63h1v1h-1zM21 63h1v1h-1zM22 63h1v1h-1zM37 63h1v1h-1zM45 63h1v1h-1zM54 63h1v1h-1zM56 63h1v1h-1zM65 63h1v1h-1zM70 63h1v1h-1zM74 63h1v1h-1zM1 64h1v1h-1zM5 64h1v1h-1zM13 64h1v1h-1zM24 64h1v1h-1zM39 64h1v1h-1zM58 64h1v1h-1zM60 64h1v1h-1zM2 65h1v1h-1zM13 65h1v1h-1zM14 65h1v1h-1zM19 65h1v1h-1zM30 65h1v1h-1zM45 65h1v1h-1zM54 65h1v1h-1zM61 65h1v1h-1zM63 65h1v1h-1zM68 65h1v1h-1zM75 65h1v1h-1zM0 66h1v1h-1zM11 66h1v1h-1zM16 66h1v1h-1zM27 66h1v1h-1zM30 66h1v1h-1zM46 66h1v1h-1zM72 66h1v1h-1zM21 67h1v1h-1zM51 67h1v1h-1zM71 67h1v1h-1zM11 68h1v1h-1zM22 68h1v1h-1zM23 68h1v1h-1zM24 68h1v1h-1zM34 68h1v1h-1zM45 68h1v1h-1zM46 68h1v1h-1zM53 68h1v1h-1zM55 68h1v1h-1zM60 68h1v1h-1zM65 68h1v1h-1zM3 69h1v1h-1zM32 69h1v1h-1zM50 69h1v1h-1zM51 69h1v1h-1zM16 70h1v1h-1zM26 70h1v1h-1zM54 70h1v1h-1zM62 70h1v1h-1zM63 70h1v1h-1zM6 71h1v1h-1zM18 71h1v1h-1zM31 71h1v1h-1zM37 71h1v1h-1zM49 71h1v1h-1zM55 71h1v1h-1zM67 71h1v1h-1zM2 72h1v1h-1zM5 72h1v1h-1zM8 72h1v1h-1zM9 72h1v1h-1zM47 72h1v1h-1zM48 72h1v1h-1zM56 72h1v1h-1zM58 72h1v1h-1zM66 72h1v1h-1zM28 73h1v1h-1zM30 73h1v1h-1zM37 73h1v1h-1zM38 73h1v1h-1zM40 73h1v1h-1zM42 73h1v1h-1zM55 73h1v1h-1zM60 73h1v1h-1zM4 74h1v1h-1zM38 74h1v1h-1zM48 74h1v1h-1zM55 74h1v1h-1zM57 74h1v1h-1zM63 74h1v1h-1zM5 75h1v1h-1zM8 75h1v1h-1zM9 75h1v1h-1zM12 75h1v1h-1zM30 75h1v1h-1zM41 75h1v1h-1zM44 75h1v1h-1zM46 75h1v1h-1zM53 75h1v1h-1zM65 75h1v1h-1z"/><path fill="#5893f5" d="M34 0h1v1h-1zM53 0h1v1h-1zM15 1h1v1h-1zM30 1h1v1h-1zM37 1h1v1h-1zM42 1h1v1h-1zM44 1h1v1h-1zM52 1h1v1h-1zM56 1h1v1h-1zM57 1h1v1h-1zM68 1h1v1h-1zM74 1h1v1h-1zM12 2h1v1h-1zM49 2h1v1h-1zM51 2h1v1h-1zM52 2h1v1h-1zM62 2h1v1h-1zM64 2h1v1h-1zM71 2h1v1h-1zM18 3h1v1h-1zM61 3h1v1h-1zM12 4h1v1h-1zM19 4h1v1h-1zM26 4h1v1h-1zM35 4h1v1h-1zM36 4h1v1h-1zM51 4h1v1h-1zM58 4h1v1h-1zM66 4h1v1h-1zM70 4h1v1h-1zM72 4h1v1h-1zM12 5h1v1h-1zM51 5h1v1h-1zM63 5h1v1h-1zM48 6h1v1h-1zM61 6h1v1h-1zM63 6h1v1h-1zM74 6h1v1h-1zM32 7h1v1h-1zM41 7h1v1h-1zM44 7h1v1h-1zM45 7h1v1h-1zM55 7h1v1h-1zM66 7h1v1h-1zM75 7h1v1h-1zM44 8h1v1h-1zM65 8h1v1h-1zM30 9h1v1h-1zM65 9h1v1h-1zM69 9h1v1h-1zM11 10h1v1h-1zM35 10h1v1h-1zM46 10h1v1h-1zM49 10h1v1h-1zM52 10h1v1h-1zM55 10h1v1h-1zM68 10h1v1h-1zM10 11h1v1h-1zM2 12h1v1h-1zM4 12h1v1h-1zM5 12h1v1h-1zM17 12h1v1h-1zM61 12h1v1h-1zM69 12h1v1h-1zM28 13h1v1h-1zM50 13h1v1h-1zM40 14h1v1h-1zM43 14h1v1h-1zM45 14h1v1h-1zM56 14h1v1h-1zM61 14h1v1h-1zM73 14h1v1h-1zM1 15h1v1h-1zM42 15h1v1h-1zM53 15h1v1h-1zM18 16h1v1h-1zM37 16h1v1h-1zM47 16h1v1h-1zM53 16h1v1h-1zM59 16h1v1h-1zM12 17h1v1h-1zM34 17h1v1h-1zM51 17h1v1h-1zM64 17h1v1h-1zM65 17h1v1h-1zM71 17h1v1h-1zM3 18h1v1h-1zM16 18h1v1h-1zM41 18h1v1h-1zM4 19h1v1h-1zM25 19h1v1h-1zM42 19h1v1h-1zM59 19h1v1h-1zM61 19h1v1h-1zM38 20h1v1h-1zM54 20h1v1h-1zM55 20h1v1h-1zM69 20h1v1h-1zM46 21h1v1h-1zM55 21h1v1h-1zM60 21h1v1h-1zM68 21h1v1h-1zM72 21h1v1h-1zM27 22h1v1h-1zM34 22h1v1h-1zM64 22h1v1h-1zM74 22h1v1h-1zM34 23h1v1h-1zM49 23h1v1h-1zM55 23h1v1h-1zM57 23h1v1h-1zM63 24h1v1h-1zM19 25h1v1h-1zM31 25h1v1h-1zM4 26h1v1h-1zM34 26h1v1h-1zM47 26h1v1h-1zM49 26h1v1h-1zM52 26h1v1h-1zM53 26h1v1h-1zM65 26h1v1h-1zM22 27h1v1h-1zM62 27h1v1h-1zM69 27h1v1h-1zM13 28h1v1h-1zM34 28h1v1h-1zM53 28h1v1h-1zM74 28h1v1h-1zM33 29h1v1h-1zM52 29h1v1h-1zM53 29h1v1h-1zM58 29h1v1h-1zM68 29h1v1h-1zM1 30h1v1h-1zM9 30h1v1h-1zM47 30h1v1h-1zM67 30h1v1h-1zM68 30h1v1h-1zM25 31h1v1h-1zM54 31h1v1h-1zM7 32h1v1h-1zM36 32h1v1h-1zM38 32h1v1h-1zM64 32h1v1h-1zM65 32h1v1h-1zM29 33h1v1h-1zM41 33h1v1h-1zM43 33h1v1h-1zM53 33h1v1h-1zM60 33h1v1h-1zM0 34h1v1h-1zM17 34h1v1h-1zM22 34h1v1h-1zM23 34h1v1h-1zM26 34h1v1h-1zM28 34h1v1h-1zM42 34h1v1h-1zM47 34h1v1h-1zM50 34h1v1h-1zM55 34h1v1h-1zM4 35h1v1h-1zM10 35h1v1h-1zM38 35h1v1h-1zM73 35h1v1h-1zM4 36h1v1h-1zM32 36h1v1h-1zM42 36h1v1h-1zM48 36h1v1h-1zM54 36h1v1h-1zM73 36h1v1h-1zM75 36h1v1h-1zM1 37h1v1h-1zM16 37h1v1h-1zM53 37h1v1h-1zM65 37h1v1h-1zM20 38h1v1h-1zM32 38h1v1h-1zM35 38h1v1h-1zM62 38h1v1h-1zM65 38h1v1h-1zM67 38h1v1h-1zM41 39h1v1h-1zM48 39h1v1h-1zM51 39h1v1h-1zM66 39h1v1h-1zM72 39h1v1h-1zM14 40h1v1h-1zM43 40h1v1h-1zM49 40h1v1h-1zM54 40h1v1h-1zM57 40h1v1h-1zM60 40h1v1h-1zM61 40h1v1h-1zM63 40h1v1h-1zM7 41h1v1h-1zM18 41h1v1h-1zM33 41h1v1h-1zM39 41h1v1h-1zM44 41h1v1h-1zM72 41h1v1h-1zM1 42h1v1h-1zM15 42h1v1h-1zM19 42h1v1h-1zM34 42h1v1h-1zM36 42h1v1h-1zM51 42h1v1h-1zM55 42h1v1h-1zM62 42h1v1h-1zM63 42h1v1h-1zM14 43h1v1h-1zM33 43h1v1h-1zM40 43h1v1h-1zM72 43h1v1h-1zM1 44h1v1h-1zM7 44h1v1h-1zM8 44h1v1h-1zM41 44h1v1h-1zM56 44h1v1h-1zM58 44h1v1h-1zM59 44h1v1h-1zM7 45h1v1h-1zM14 45h1v1h-1zM48 45h1v1h-1zM72 45h1v1h-1zM74 45h1v1h-1zM10 46h1v1h-1zM21 46h1v1h-1zM71 46h1v1h-1zM16 47h1v1h-1zM26 47h1v1h-1zM30 47h1v1h-1zM34 47h1v1h-1zM50 47h1v1h-1zM53 47h1v1h-1zM58 47h1v1h-1zM62 47h1v1h-1zM71 47h1v1h-1zM73 47h1v1h-1zM75 47h1v1h-1zM6 48h1v1h-1zM36 48h1v1h-1zM39 48h1v1h-1zM45 48h1v1h-1zM53 48h1v1h-1zM67 48h1v1h-1zM70 48h1v1h-1zM73 48h1v1h-1zM2 49h1v1h-1zM10 49h1v1h-1zM23 49h1v1h-1zM26 49h1v1h-1zM40 49h1v1h-1zM52 49h1v1h-1zM54 49h1v1h-1zM59 49h1v1h-1zM13 50h1v1h-1zM34 50h1v1h-1zM47 50h1v1h-1zM71 50h1v1h-1zM74 50h1v1h-1zM75 50h1v1h-1zM2 51h1v1h-1zM4 51h1v1h-1zM5 51h1v1h-1zM17 51h1v1h-1zM39 51h1v1h-1zM42 51h1v1h-1zM1 52h1v1h-1zM2 52h1v1h-1zM10 52h1v1h-1zM26 52h1v1h-1zM29 52h1v1h-1zM49 52h1v1h-1zM59 52h1v1h-1zM61 52h1v1h-1zM75 52h1v1h-1zM0 53h1v1h-1zM15 53h1v1h-1zM16 53h1v1h-1zM26 53h1v1h-1zM28 53h1v1h-1zM29 53h1v1h-1zM33 53h1v1h-1zM37 53h1v1h-1zM47 53h1v1h-1zM48 53h1v1h-1zM62 53h1v1h-1zM20 54h1v1h-1zM31 54h1v1h-1zM36 54h1v1h-1zM40 54h1v1h-1zM49 54h1v1h-1zM55 54h1v1h-1zM58 54h1v1h-1zM7 55h1v1h-1zM10 55h1v1h-1zM20 55h1v1h-1zM21 55h1v1h-1zM23 55h1v1h-1zM34 55h1v1h-1zM42 55h1v1h-1zM54 55h1v1h-1zM61 55h1v1h-1zM72 55h1v1h-1zM1 56h1v1h-1zM14 56h1v1h-1zM44 56h1v1h-1zM1 57h1v1h-1zM23 57h1v1h-1zM40 57h1v1h-1zM62 57h1v1h-1zM4 58h1v1h-1zM29 58h1v1h-1zM44 58h1v1h-1zM47 58h1v1h-1zM54 58h1v1h-1zM16 59h1v1h-1zM19 59h1v1h-1zM44 59h1v1h-1zM49 59h1v1h-1zM52 59h1v1h-1zM67 59h1v1h-1zM21 60h1v1h-1zM33 60h1v1h-1zM40 60h1v1h-1zM75 60h1v1h-1zM3 61h1v1h-1zM6 61h1v1h-1zM12 61h1v1h-1zM14 61h1v1h-1zM19 61h1v1h-1zM40 61h1v1h-1zM52 61h1v1h-1zM55 61h1v1h-1zM2 62h1v1h-1zM27 62h1v1h-1zM38 62h1v1h-1zM42 62h1v1h-1zM47 62h1v1h-1zM53 62h1v1h-1zM57 62h1v1h-1zM5 63h1v1h-1zM6 63h1v1h-1zM24 63h1v1h-1zM40 63h1v1h-1zM42 63h1v1h-1zM72 63h1v1h-1zM2 64h1v1h-1zM17 64h1v1h-1zM22 64h1v1h-1zM32 64h1v1h-1zM73 64h1v1h-1zM8 65h1v1h-1zM9 65h1v1h-1zM17 65h1v1h-1zM26 65h1v1h-1zM32 65h1v1h-1zM37 65h1v1h-1zM38 65h1v1h-1zM66 65h1v1h-1zM70 65h1v1h-1zM4 66h1v1h-1zM7 66h1v1h-1zM39 66h1v1h-1zM65 66h1v1h-1zM69 66h1v1h-1zM71 66h1v1h-1zM30 67h1v1h-1zM38 67h1v1h-1zM48 67h1v1h-1zM59 67h1v1h-1zM1 68h1v1h-1zM10 68h1v1h-1zM21 68h1v1h-1zM29 68h1v1h-1zM30 68h1v1h-1zM71 68h1v1h-1zM72 68h1v1h-1zM9 69h1v1h-1zM12 69h1v1h-1zM20 69h1v1h-1zM27 69h1v1h-1zM66 69h1v1h-1zM4 70h1v1h-1zM48 70h1v1h-1zM65 70h1v1h-1zM2 71h1v1h-1zM17 71h1v1h-1zM46 71h1v1h-1zM47 71h1v1h-1zM50 71h1v1h-1zM66 71h1v1h-1zM68 71h1v1h-1zM4 72h1v1h-1zM21 72h1v1h-1zM39 72h1v1h-1zM41 72h1v1h-1zM43 72h1v1h-1zM45 72h1v1h-1zM55 72h1v1h-1zM63 72h1v1h-1zM68 72h1v1h-1zM14 73h1v1h-1zM35 73h1v1h-1zM36 73h1v1h-1zM47 73h1v1h-1zM48 73h1v1h-1zM64 73h1v1h-1zM1 74h1v1h-1zM6 74h1v1h-1zM22 74h1v1h-1zM28 74h1v1h-1zM45 74h1v1h-1zM50 74h1v1h-1zM7 75h1v1h-1zM36 75h1v1h-1zM47 75h1v1h-1zM50 75h1v1h-1zM52 75h1v1h-1zM60 75h1v1h-1z"/><path fill="#5c9ff3" d="M19 0h1v1h-1zM41 0h1v1h-1zM58 0h1v1h-1zM62 0h1v1h-1zM71 0h1v1h-1zM38 1h1v1h-1zM39 1h1v1h-1zM46 1h1v1h-1zM5 3h1v1h-1zM50 3h1v1h-1zM70 3h1v1h-1zM71 3h1v1h-1zM75 3h1v1h-1zM75 4h1v1h-1zM3 5h1v1h-1zM26 5h1v1h-1zM35 5h1v1h-1zM42 5h1v1h-1zM11 6h1v1h-1zM14 6h1v1h-1zM34 6h1v1h-1zM49 6h1v1h-1zM49 7h1v1h-1zM24 8h1v1h-1zM48 8h1v1h-1zM55 8h1v1h-1zM25 9h1v1h-1zM12 10h1v1h-1zM6 11h1v1h-1zM12 11h1v1h-1zM15 11h1v1h-1zM47 11h1v1h-1zM50 11h1v1h-1zM55 11h1v1h-1zM57 11h1v1h-1zM58 11h1v1h-1zM10 12h1v1h-1zM11 12h1v1h-1zM65 12h1v1h-1zM60 13h1v1h-1zM6 14h1v1h-1zM20 14h1v1h-1zM67 14h1v1h-1zM68 14h1v1h-1zM11 15h1v1h-1zM50 16h1v1h-1zM60 16h1v1h-1zM44 17h1v1h-1zM54 17h1v1h-1zM55 17h1v1h-1zM69 17h1v1h-1zM70 17h1v1h-1zM31 18h1v1h-1zM46 18h1v1h-1zM48 18h1v1h-1zM53 18h1v1h-1zM64 18h1v1h-1zM0 19h1v1h-1zM74 19h1v1h-1zM14 20h1v1h-1zM33 20h1v1h-1zM36 20h1v1h-1zM67 20h1v1h-1zM36 21h1v1h-1zM44 21h1v1h-1zM57 21h1v1h-1zM67 22h1v1h-1zM59 23h1v1h-1zM60 23h1v1h-1zM8 24h1v1h-1zM62 24h1v1h-1zM9 25h1v1h-1zM47 25h1v1h-1zM60 25h1v1h-1zM5 26h1v1h-1zM28 26h1v1h-1zM43 26h1v1h-1zM63 26h1v1h-1zM45 27h1v1h-1zM64 27h1v1h-1zM26 28h1v1h-1zM31 28h1v1h-1zM35 29h1v1h-1zM50 29h1v1h-1zM18 31h1v1h-1zM28 31h1v1h-1zM33 31h1v1h-1zM43 31h1v1h-1zM49 31h1v1h-1zM42 32h1v1h-1zM43 32h1v1h-1zM47 32h1v1h-1zM20 33h1v1h-1zM31 33h1v1h-1zM37 33h1v1h-1zM51 33h1v1h-1zM61 33h1v1h-1zM6 34h1v1h-1zM44 34h1v1h-1zM73 34h1v1h-1zM74 34h1v1h-1zM5 35h1v1h-1zM29 35h1v1h-1zM20 36h1v1h-1zM21 36h1v1h-1zM51 36h1v1h-1zM57 36h1v1h-1zM69 36h1v1h-1zM33 37h1v1h-1zM57 37h1v1h-1zM68 37h1v1h-1zM1 38h1v1h-1zM68 38h1v1h-1zM1 39h1v1h-1zM42 39h1v1h-1zM52 40h1v1h-1zM62 40h1v1h-1zM0 41h1v1h-1zM62 41h1v1h-1zM71 41h1v1h-1zM74 41h1v1h-1zM5 42h1v1h-1zM32 42h1v1h-1zM39 42h1v1h-1zM68 42h1v1h-1zM26 43h1v1h-1zM31 43h1v1h-1zM32 43h1v1h-1zM17 44h1v1h-1zM21 44h1v1h-1zM34 44h1v1h-1zM48 44h1v1h-1zM54 44h1v1h-1zM61 44h1v1h-1zM62 44h1v1h-1zM27 45h1v1h-1zM52 45h1v1h-1zM1 46h1v1h-1zM18 46h1v1h-1zM11 47h1v1h-1zM25 47h1v1h-1zM32 47h1v1h-1zM8 48h1v1h-1zM18 48h1v1h-1zM44 48h1v1h-1zM58 48h1v1h-1zM6 49h1v1h-1zM7 49h1v1h-1zM31 49h1v1h-1zM69 49h1v1h-1zM3 50h1v1h-1zM11 50h1v1h-1zM16 50h1v1h-1zM29 50h1v1h-1zM33 51h1v1h-1zM36 51h1v1h-1zM40 52h1v1h-1zM45 52h1v1h-1zM18 53h1v1h-1zM17 54h1v1h-1zM44 54h1v1h-1zM8 55h1v1h-1zM11 55h1v1h-1zM17 55h1v1h-1zM11 57h1v1h-1zM21 57h1v1h-1zM36 57h1v1h-1zM37 57h1v1h-1zM0 58h1v1h-1zM11 58h1v1h-1zM48 58h1v1h-1zM73 58h1v1h-1zM23 59h1v1h-1zM74 59h1v1h-1zM13 60h1v1h-1zM16 60h1v1h-1zM23 60h1v1h-1zM25 60h1v1h-1zM33 61h1v1h-1zM44 61h1v1h-1zM0 62h1v1h-1zM24 62h1v1h-1zM40 62h1v1h-1zM41 62h1v1h-1zM44 62h1v1h-1zM26 63h1v1h-1zM18 64h1v1h-1zM27 64h1v1h-1zM12 65h1v1h-1zM14 67h1v1h-1zM20 67h1v1h-1zM22 67h1v1h-1zM14 68h1v1h-1zM37 68h1v1h-1zM38 68h1v1h-1zM42 68h1v1h-1zM17 69h1v1h-1zM36 69h1v1h-1zM49 69h1v1h-1zM3 70h1v1h-1zM17 70h1v1h-1zM0 71h1v1h-1zM3 71h1v1h-1zM41 71h1v1h-1zM34 73h1v1h-1zM58 73h1v1h-1zM19 74h1v1h-1zM34 74h1v1h-1zM41 74h1v1h-1zM59 74h1v1h-1zM3 75h1v1h-1zM4 75h1v1h-1z"/><path fill="#60aaf2" d="M6 0h1v1h-1zM28 0h1v1h-1zM37 0h1v1h-1zM72 0h1v1h-1zM73 0h1v1h-1zM25 1h1v1h-1zM27 1h1v1h-1zM48 1h1v1h-1zM70 1h1v1h-1zM47 2h1v1h-1zM68 2h1v1h-1zM75 2h1v1h-1zM9 3h1v1h-1zM72 3h1v1h-1zM43 4h1v1h-1zM65 4h1v1h-1zM41 5h1v1h-1zM0 6h1v1h-1zM26 6h1v1h-1zM54 6h1v1h-1zM58 6h1v1h-1zM12 7h1v1h-1zM23 7h1v1h-1zM46 7h1v1h-1zM57 7h1v1h-1zM23 8h1v1h-1zM36 8h1v1h-1zM49 8h1v1h-1zM3 9h1v1h-1zM30 10h1v1h-1zM7 12h1v1h-1zM18 12h1v1h-1zM42 12h1v1h-1zM53 12h1v1h-1zM32 13h1v1h-1zM55 13h1v1h-1zM57 13h1v1h-1zM68 13h1v1h-1zM19 15h1v1h-1zM39 15h1v1h-1zM51 15h1v1h-1zM52 15h1v1h-1zM56 15h1v1h-1zM68 15h1v1h-1zM44 16h1v1h-1zM56 17h1v1h-1zM12 18h1v1h-1zM67 18h1v1h-1zM15 19h1v1h-1zM24 19h1v1h-1zM34 19h1v1h-1zM58 19h1v1h-1zM73 19h1v1h-1zM31 20h1v1h-1zM70 20h1v1h-1zM25 21h1v1h-1zM26 21h1v1h-1zM61 21h1v1h-1zM37 22h1v1h-1zM7 23h1v1h-1zM8 23h1v1h-1zM48 23h1v1h-1zM19 24h1v1h-1zM35 24h1v1h-1zM50 24h1v1h-1zM65 24h1v1h-1zM72 24h1v1h-1zM73 24h1v1h-1zM1 25h1v1h-1zM21 25h1v1h-1zM33 25h1v1h-1zM45 25h1v1h-1zM6 26h1v1h-1zM21 26h1v1h-1zM33 26h1v1h-1zM45 26h1v1h-1zM71 26h1v1h-1zM73 26h1v1h-1zM1 27h1v1h-1zM72 27h1v1h-1zM0 28h1v1h-1zM35 28h1v1h-1zM44 28h1v1h-1zM46 28h1v1h-1zM58 28h1v1h-1zM10 30h1v1h-1zM45 30h1v1h-1zM20 31h1v1h-1zM38 31h1v1h-1zM40 31h1v1h-1zM58 31h1v1h-1zM63 31h1v1h-1zM70 31h1v1h-1zM13 32h1v1h-1zM48 32h1v1h-1zM49 32h1v1h-1zM61 32h1v1h-1zM25 33h1v1h-1zM26 33h1v1h-1zM39 33h1v1h-1zM74 33h1v1h-1zM19 34h1v1h-1zM39 34h1v1h-1zM67 34h1v1h-1zM70 34h1v1h-1zM72 34h1v1h-1zM24 35h1v1h-1zM28 35h1v1h-1zM52 35h1v1h-1zM65 35h1v1h-1zM8 36h1v1h-1zM63 36h1v1h-1zM64 36h1v1h-1zM66 36h1v1h-1zM67 36h1v1h-1zM0 37h1v1h-1zM22 37h1v1h-1zM43 37h1v1h-1zM60 37h1v1h-1zM31 38h1v1h-1zM41 38h1v1h-1zM50 38h1v1h-1zM15 39h1v1h-1zM33 39h1v1h-1zM34 39h1v1h-1zM45 39h1v1h-1zM47 39h1v1h-1zM63 39h1v1h-1zM67 39h1v1h-1zM31 40h1v1h-1zM56 40h1v1h-1zM59 40h1v1h-1zM69 40h1v1h-1zM75 40h1v1h-1zM5 41h1v1h-1zM38 41h1v1h-1zM55 41h1v1h-1zM12 42h1v1h-1zM45 42h1v1h-1zM72 42h1v1h-1zM74 42h1v1h-1zM4 43h1v1h-1zM37 43h1v1h-1zM16 44h1v1h-1zM28 44h1v1h-1zM46 44h1v1h-1zM25 45h1v1h-1zM26 45h1v1h-1zM30 45h1v1h-1zM39 45h1v1h-1zM42 45h1v1h-1zM54 45h1v1h-1zM61 45h1v1h-1zM7 46h1v1h-1zM28 46h1v1h-1zM44 46h1v1h-1zM59 46h1v1h-1zM2 47h1v1h-1zM39 47h1v1h-1zM1 48h1v1h-1zM23 48h1v1h-1zM32 48h1v1h-1zM63 48h1v1h-1zM8 49h1v1h-1zM32 49h1v1h-1zM61 49h1v1h-1zM73 49h1v1h-1zM24 50h1v1h-1zM38 50h1v1h-1zM51 50h1v1h-1zM65 50h1v1h-1zM67 50h1v1h-1zM73 50h1v1h-1zM15 51h1v1h-1zM50 51h1v1h-1zM63 51h1v1h-1zM65 51h1v1h-1zM72 51h1v1h-1zM15 52h1v1h-1zM35 52h1v1h-1zM12 53h1v1h-1zM63 53h1v1h-1zM69 53h1v1h-1zM6 54h1v1h-1zM45 54h1v1h-1zM64 54h1v1h-1zM13 55h1v1h-1zM41 55h1v1h-1zM64 55h1v1h-1zM15 56h1v1h-1zM17 56h1v1h-1zM40 56h1v1h-1zM7 57h1v1h-1zM13 57h1v1h-1zM6 58h1v1h-1zM19 58h1v1h-1zM28 58h1v1h-1zM31 58h1v1h-1zM59 58h1v1h-1zM65 58h1v1h-1zM40 59h1v1h-1zM46 59h1v1h-1zM58 59h1v1h-1zM37 60h1v1h-1zM61 60h1v1h-1zM21 61h1v1h-1zM32 61h1v1h-1zM45 61h1v1h-1zM49 61h1v1h-1zM60 61h1v1h-1zM66 61h1v1h-1zM68 61h1v1h-1zM71 61h1v1h-1zM74 62h1v1h-1zM31 63h1v1h-1zM36 63h1v1h-1zM39 63h1v1h-1zM48 63h1v1h-1zM51 63h1v1h-1zM53 63h1v1h-1zM67 63h1v1h-1zM36 64h1v1h-1zM54 64h1v1h-1zM55 64h1v1h-1zM74 64h1v1h-1zM4 65h1v1h-1zM24 65h1v1h-1zM35 65h1v1h-1zM50 65h1v1h-1zM51 65h1v1h-1zM58 65h1v1h-1zM73 65h1v1h-1zM36 66h1v1h-1zM61 66h1v1h-1zM18 67h1v1h-1zM34 67h1v1h-1zM36 67h1v1h-1zM39 67h1v1h-1zM50 67h1v1h-1zM63 67h1v1h-1zM2 68h1v1h-1zM13 68h1v1h-1zM15 68h1v1h-1zM61 68h1v1h-1zM40 69h1v1h-1zM53 69h1v1h-1zM1 70h1v1h-1zM20 70h1v1h-1zM31 70h1v1h-1zM34 70h1v1h-1zM73 70h1v1h-1zM26 71h1v1h-1zM61 71h1v1h-1zM0 72h1v1h-1zM3 72h1v1h-1zM24 72h1v1h-1zM27 72h1v1h-1zM34 72h1v1h-1zM42 72h1v1h-1zM51 72h1v1h-1zM0 73h1v1h-1zM19 73h1v1h-1zM24 73h1v1h-1zM26 73h1v1h-1zM49 73h1v1h-1zM50 73h1v1h-1zM65 73h1v1h-1zM70 73h1v1h-1zM33 74h1v1h-1zM42 74h1v1h-1zM62 74h1v1h-1zM64 74h1v1h-1zM2 75h1v1h-1zM40 75h1v1h-1z"/><path fill="#64b5f0" d="M45 0h1v1h-1zM13 1h1v1h-1zM71 1h1v1h-1zM31 2h1v1h-1zM34 2h1v1h-1zM46 2h1v1h-1zM8 4h1v1h-1zM59 4h1v1h-1zM23 5h1v1h-1zM43 5h1v1h-1zM50 5h1v1h-1zM54 5h1v1h-1zM24 6h1v1h-1zM42 6h1v1h-1zM51 6h1v1h-1zM67 7h1v1h-1zM74 7h1v1h-1zM4 8h1v1h-1zM59 8h1v1h-1zM21 10h1v1h-1zM32 10h1v1h-1zM33 10h1v1h-1zM54 10h1v1h-1zM48 11h1v1h-1zM70 11h1v1h-1zM36 12h1v1h-1zM37 12h1v1h-1zM67 12h1v1h-1zM1 13h1v1h-1zM16 13h1v1h-1zM70 13h1v1h-1zM26 15h1v1h-1zM13 16h1v1h-1zM39 16h1v1h-1zM46 16h1v1h-1zM22 17h1v1h-1zM50 17h1v1h-1zM49 18h1v1h-1zM30 20h1v1h-1zM32 20h1v1h-1zM50 20h1v1h-1zM10 21h1v1h-1zM70 21h1v1h-1zM17 22h1v1h-1zM40 22h1v1h-1zM73 22h1v1h-1zM5 23h1v1h-1zM73 23h1v1h-1zM6 24h1v1h-1zM73 25h1v1h-1zM15 26h1v1h-1zM35 26h1v1h-1zM64 26h1v1h-1zM39 27h1v1h-1zM71 27h1v1h-1zM66 28h1v1h-1zM69 28h1v1h-1zM20 30h1v1h-1zM2 31h1v1h-1zM46 31h1v1h-1zM10 32h1v1h-1zM20 32h1v1h-1zM60 32h1v1h-1zM10 33h1v1h-1zM75 33h1v1h-1zM2 34h1v1h-1zM26 35h1v1h-1zM59 35h1v1h-1zM12 36h1v1h-1zM37 36h1v1h-1zM47 36h1v1h-1zM12 37h1v1h-1zM36 37h1v1h-1zM66 37h1v1h-1zM75 37h1v1h-1zM57 38h1v1h-1zM63 38h1v1h-1zM69 38h1v1h-1zM16 39h1v1h-1zM27 39h1v1h-1zM49 39h1v1h-1zM22 40h1v1h-1zM68 40h1v1h-1zM46 41h1v1h-1zM57 41h1v1h-1zM59 41h1v1h-1zM67 41h1v1h-1zM6 42h1v1h-1zM52 42h1v1h-1zM5 43h1v1h-1zM53 44h1v1h-1zM74 44h1v1h-1zM0 45h1v1h-1zM46 45h1v1h-1zM2 46h1v1h-1zM16 46h1v1h-1zM31 46h1v1h-1zM41 46h1v1h-1zM45 46h1v1h-1zM47 46h1v1h-1zM36 47h1v1h-1zM46 47h1v1h-1zM49 47h1v1h-1zM61 47h1v1h-1zM64 47h1v1h-1zM11 48h1v1h-1zM71 48h1v1h-1zM75 48h1v1h-1zM18 49h1v1h-1zM39 49h1v1h-1zM47 49h1v1h-1zM56 49h1v1h-1zM5 50h1v1h-1zM17 50h1v1h-1zM20 50h1v1h-1zM6 51h1v1h-1zM58 51h1v1h-1zM42 52h1v1h-1zM44 53h1v1h-1zM5 54h1v1h-1zM10 54h1v1h-1zM61 54h1v1h-1zM57 55h1v1h-1zM49 56h1v1h-1zM38 57h1v1h-1zM41 57h1v1h-1zM55 57h1v1h-1zM59 57h1v1h-1zM67 57h1v1h-1zM68 57h1v1h-1zM51 58h1v1h-1zM4 59h1v1h-1zM8 59h1v1h-1zM35 59h1v1h-1zM41 59h1v1h-1zM57 59h1v1h-1zM32 60h1v1h-1zM66 60h1v1h-1zM47 61h1v1h-1zM54 61h1v1h-1zM75 61h1v1h-1zM38 63h1v1h-1zM26 64h1v1h-1zM47 64h1v1h-1zM72 64h1v1h-1zM28 66h1v1h-1zM37 66h1v1h-1zM60 66h1v1h-1zM73 66h1v1h-1zM7 67h1v1h-1zM12 67h1v1h-1zM41 67h1v1h-1zM57 67h1v1h-1zM40 68h1v1h-1zM57 68h1v1h-1zM28 69h1v1h-1zM38 69h1v1h-1zM11 70h1v1h-1zM13 70h1v1h-1zM21 70h1v1h-1zM1 71h1v1h-1zM27 71h1v1h-1zM48 71h1v1h-1zM64 72h1v1h-1zM22 73h1v1h-1zM23 73h1v1h-1zM25 73h1v1h-1zM66 73h1v1h-1zM7 74h1v1h-1zM44 74h1v1h-1zM33 75h1v1h-1zM37 75h1v1h-1zM48 75h1v1h-1zM61 75h1v1h-1z"/><path fill="#67beef" d="M9 2h1v1h-1zM68 4h1v1h-1zM13 5h1v1h-1zM2 9h1v1h-1zM33 11h1v1h-1zM62 11h1v1h-1zM5 13h1v1h-1zM28 18h1v1h-1zM18 28h1v1h-1zM11 33h1v1h-1zM57 33h1v1h-1zM40 35h1v1h-1zM74 35h1v1h-1zM43 36h1v1h-1zM44 38h1v1h-1zM35 40h1v1h-1zM54 41h1v1h-1zM60 41h1v1h-1zM36 43h1v1h-1zM38 44h1v1h-1zM41 54h1v1h-1zM33 57h1v1h-1zM61 57h1v1h-1zM41 60h1v1h-1zM57 61h1v1h-1zM11 62h1v1h-1zM4 68h1v1h-1zM35 74h1v1h-1z"/><path fill="#6bc8ee" d="M24 11h1v1h-1zM11 24h1v1h-1z"/><path fill="#6ed2ed" d="M31 30h1v1h-1zM56 30h1v1h-1zM30 31h1v1h-1zM30 56h1v1h-1zM75 62h1v1h-1zM62 75h1v1h-1z"/><path fill="#71dbec" d="M73 4h1v1h-1zM4 73h1v1h-1z"/><path fill="#73e2e7" d="M59 0h1v1h-1zM29 3h1v1h-1zM41 4h1v1h-1zM30 8h1v1h-1zM73 27h1v1h-1zM3 29h1v1h-1zM8 30h1v1h-1zM46 30h1v1h-1zM4 41h1v1h-1zM30 46h1v1h-1zM75 49h1v1h-1zM63 57h1v1h-1zM0 59h1v1h-1zM57 63h1v1h-1zM70 68h1v1h-1zM68 70h1v1h-1zM27 73h1v1h-1zM49 75h1v1h-1z"/><path fill="#75e4dc" d="M30 0h1v1h-1zM14 1h1v1h-1zM18 2h1v1h-1zM55 2h1v1h-1zM6 4h1v1h-1zM19 5h1v1h-1zM4 6h1v1h-1zM13 6h1v1h-1zM30 6h1v1h-1zM21 11h1v1h-1zM20 12h1v1h-1zM6 13h1v1h-1zM44 13h1v1h-1zM1 14h1v1h-1zM28 14h1v1h-1zM30 15h1v1h-1zM29 16h1v1h-1zM2 18h1v1h-1zM27 18h1v1h-1zM5 19h1v1h-1zM12 20h1v1h-1zM11 21h1v1h-1zM31 22h1v1h-1zM27 26h1v1h-1zM18 27h1v1h-1zM26 27h1v1h-1zM14 28h1v1h-1zM16 29h1v1h-1zM0 30h1v1h-1zM6 30h1v1h-1zM15 30h1v1h-1zM22 31h1v1h-1zM55 35h1v1h-1zM61 35h1v1h-1zM60 36h1v1h-1zM66 42h1v1h-1zM65 43h1v1h-1zM13 44h1v1h-1zM73 45h1v1h-1zM69 47h1v1h-1zM50 48h1v1h-1zM64 49h1v1h-1zM48 50h1v1h-1zM56 50h1v1h-1zM64 52h1v1h-1zM67 54h1v1h-1zM2 55h1v1h-1zM35 55h1v1h-1zM69 55h1v1h-1zM50 56h1v1h-1zM71 59h1v1h-1zM36 60h1v1h-1zM35 61h1v1h-1zM64 62h1v1h-1zM67 62h1v1h-1zM49 64h1v1h-1zM52 64h1v1h-1zM62 64h1v1h-1zM43 65h1v1h-1zM42 66h1v1h-1zM54 67h1v1h-1zM62 67h1v1h-1zM47 69h1v1h-1zM55 69h1v1h-1zM74 69h1v1h-1zM74 70h1v1h-1zM59 71h1v1h-1zM74 72h1v1h-1zM45 73h1v1h-1zM69 74h1v1h-1zM70 74h1v1h-1zM72 74h1v1h-1z"/><path fill="#76e7d1" d="M7 0h1v1h-1zM12 1h1v1h-1zM16 2h1v1h-1zM22 2h1v1h-1zM25 3h1v1h-1zM18 6h1v1h-1zM0 7h1v1h-1zM1 12h1v1h-1zM31 15h1v1h-1zM2 16h1v1h-1zM25 16h1v1h-1zM6 18h1v1h-1zM29 18h1v1h-1zM2 22h1v1h-1zM24 22h1v1h-1zM29 22h1v1h-1zM56 22h1v1h-1zM58 22h1v1h-1zM22 24h1v1h-1zM3 25h1v1h-1zM16 25h1v1h-1zM18 29h1v1h-1zM22 29h1v1h-1zM15 31h1v1h-1zM56 34h1v1h-1zM42 38h1v1h-1zM58 39h1v1h-1zM61 39h1v1h-1zM48 41h1v1h-1zM38 42h1v1h-1zM41 48h1v1h-1zM54 51h1v1h-1zM71 52h1v1h-1zM51 54h1v1h-1zM73 54h1v1h-1zM22 56h1v1h-1zM34 56h1v1h-1zM65 56h1v1h-1zM64 57h1v1h-1zM22 58h1v1h-1zM39 58h1v1h-1zM74 60h1v1h-1zM39 61h1v1h-1zM57 64h1v1h-1zM75 64h1v1h-1zM56 65h1v1h-1zM70 69h1v1h-1zM69 70h1v1h-1zM52 71h1v1h-1zM73 72h1v1h-1zM54 73h1v1h-1zM72 73h1v1h-1zM75 73h1v1h-1zM60 74h1v1h-1zM64 75h1v1h-1zM73 75h1v1h-1z"/><path fill="#77e9c6" d="M45 9h1v1h-1zM31 11h1v1h-1zM49 11h1v1h-1zM36 27h1v1h-1zM11 31h1v1h-1zM70 32h1v1h-1zM51 34h1v1h-1zM27 36h1v1h-1zM50 37h1v1h-1zM53 40h1v1h-1zM9 45h1v1h-1zM11 49h1v1h-1zM37 50h1v1h-1zM34 51h1v1h-1zM40 53h1v1h-1zM64 53h1v1h-1zM65 57h1v1h-1zM53 64h1v1h-1zM57 65h1v1h-1zM32 70h1v1h-1z"/><path fill="#79ebba" d="M60 0h1v1h-1zM36 1h1v1h-1zM20 6h1v1h-1zM62 8h1v1h-1zM69 13h1v1h-1zM56 18h1v1h-1zM6 20h1v1h-1zM74 29h1v1h-1zM58 33h1v1h-1zM1 36h1v1h-1zM64 40h1v1h-1zM68 43h1v1h-1zM65 44h1v1h-1zM18 56h1v1h-1zM33 58h1v1h-1zM0 60h1v1h-1zM8 62h1v1h-1zM40 64h1v1h-1zM68 64h1v1h-1zM44 65h1v1h-1zM43 68h1v1h-1zM64 68h1v1h-1zM13 69h1v1h-1zM29 74h1v1h-1z"/><path fill="#7fecaa" d="M58 10h1v1h-1zM70 23h1v1h-1zM30 25h1v1h-1zM25 30h1v1h-1zM40 30h1v1h-1zM30 40h1v1h-1zM10 58h1v1h-1zM67 60h1v1h-1zM60 67h1v1h-1zM23 70h1v1h-1z"/><path fill="#84ed9a" d="M75 11h1v1h-1zM30 19h1v1h-1zM19 30h1v1h-1zM71 53h1v1h-1zM53 71h1v1h-1zM11 75h1v1h-1z"/><path fill="#89ee8a" d="M54 35h1v1h-1zM35 54h1v1h-1z"/><path fill="#92ee7b" d="M69 63h1v1h-1zM63 69h1v1h-1z"/><path fill="#aaef61" d="M27 2h1v1h-1zM14 5h1v1h-1zM17 6h1v1h-1zM25 7h1v1h-1zM12 9h1v1h-1zM9 12h1v1h-1zM5 14h1v1h-1zM6 17h1v1h-1zM20 18h1v1h-1zM20 19h1v1h-1zM18 20h1v1h-1zM19 20h1v1h-1zM7 25h1v1h-1zM2 27h1v1h-1zM32 30h1v1h-1zM33 30h1v1h-1zM30 32h1v1h-1zM30 33h1v1h-1zM64 34h1v1h-1zM42 41h1v1h-1zM41 42h1v1h-1zM47 44h1v1h-1zM75 45h1v1h-1zM44 47h1v1h-1zM60 48h1v1h-1zM67 52h1v1h-1zM61 53h1v1h-1zM48 60h1v1h-1zM53 61h1v1h-1zM34 64h1v1h-1zM52 67h1v1h-1zM75 69h1v1h-1zM45 75h1v1h-1zM69 75h1v1h-1z"/><path fill="#b6f054" d="M10 1h1v1h-1zM27 5h1v1h-1zM11 7h1v1h-1zM1 10h1v1h-1zM7 11h1v1h-1zM27 14h1v1h-1zM5 27h1v1h-1zM14 27h1v1h-1zM48 35h1v1h-1zM52 36h1v1h-1zM40 38h1v1h-1zM38 40h1v1h-1zM45 40h1v1h-1zM52 43h1v1h-1zM57 44h1v1h-1zM40 45h1v1h-1zM60 46h1v1h-1zM35 48h1v1h-1zM36 52h1v1h-1zM43 52h1v1h-1zM44 57h1v1h-1zM62 58h1v1h-1zM46 60h1v1h-1zM58 62h1v1h-1zM73 71h1v1h-1zM71 73h1v1h-1zM75 74h1v1h-1zM74 75h1v1h-1z"/><path fill="#daf03c" d="M38 17h1v1h-1zM27 20h1v1h-1zM20 27h1v1h-1zM17 38h1v1h-1z"/><path fill="#e6f035" d="M44 3h1v1h-1zM32 4h1v1h-1zM8 6h1v1h-1zM6 8h1v1h-1zM15 8h1v1h-1zM13 11h1v1h-1zM29 11h1v1h-1zM19 12h1v1h-1zM27 12h1v1h-1zM11 13h1v1h-1zM8 15h1v1h-1zM24 16h1v1h-1zM12 19h1v1h-1zM27 19h1v1h-1zM16 24h1v1h-1zM12 27h1v1h-1zM19 27h1v1h-1zM11 29h1v1h-1zM4 32h1v1h-1zM62 36h1v1h-1zM42 40h1v1h-1zM51 40h1v1h-1zM49 41h1v1h-1zM40 42h1v1h-1zM54 43h1v1h-1zM64 43h1v1h-1zM3 44h1v1h-1zM41 49h1v1h-1zM57 50h1v1h-1zM58 50h1v1h-1zM40 51h1v1h-1zM54 53h1v1h-1zM43 54h1v1h-1zM53 54h1v1h-1zM50 57h1v1h-1zM50 58h1v1h-1zM36 62h1v1h-1zM43 64h1v1h-1zM65 64h1v1h-1zM64 65h1v1h-1zM75 72h1v1h-1zM72 75h1v1h-1z"/><path fill="#ebe830" d="M15 0h1v1h-1zM24 2h1v1h-1zM11 3h1v1h-1zM31 7h1v1h-1zM23 10h1v1h-1zM3 11h1v1h-1zM26 12h1v1h-1zM0 15h1v1h-1zM10 23h1v1h-1zM50 23h1v1h-1zM2 24h1v1h-1zM12 26h1v1h-1zM7 31h1v1h-1zM67 43h1v1h-1zM55 45h1v1h-1zM23 50h1v1h-1zM45 55h1v1h-1zM67 65h1v1h-1zM43 67h1v1h-1zM65 67h1v1h-1zM73 69h1v1h-1zM74 71h1v1h-1zM69 73h1v1h-1zM71 74h1v1h-1z"/><path fill="#ebdc2e" d="M71 69h1v1h-1zM69 71h1v1h-1z"/><path fill="#ebd02c" d="M26 1h1v1h-1zM1 26h1v1h-1zM75 71h1v1h-1zM71 75h1v1h-1z"/><path fill="#ebc429" d="M26 14h1v1h-1zM29 25h1v1h-1zM14 26h1v1h-1zM28 27h1v1h-1zM27 28h1v1h-1zM25 29h1v1h-1zM49 34h1v1h-1zM58 36h1v1h-1zM47 45h1v1h-1zM48 46h1v1h-1zM45 47h1v1h-1zM46 48h1v1h-1zM34 49h1v1h-1zM36 58h1v1h-1zM71 70h1v1h-1zM72 70h1v1h-1zM70 71h1v1h-1zM70 72h1v1h-1z"/><path fill="#ebb428" d="M23 1h1v1h-1zM28 2h1v1h-1zM29 7h1v1h-1zM1 23h1v1h-1zM2 28h1v1h-1zM7 29h1v1h-1zM41 34h1v1h-1zM45 37h1v1h-1zM66 38h1v1h-1zM34 41h1v1h-1zM37 45h1v1h-1zM62 50h1v1h-1zM58 56h1v1h-1zM56 58h1v1h-1zM63 59h1v1h-1zM50 62h1v1h-1zM59 63h1v1h-1zM38 66h1v1h-1zM75 70h1v1h-1zM70 75h1v1h-1z"/><path fill="#eb7d28" d="M21 3h1v1h-1zM14 12h1v1h-1zM12 14h1v1h-1zM3 21h1v1h-1zM54 52h1v1h-1zM52 54h1v1h-1z"/><path fill="#ec6e26" d="M13 3h1v1h-1zM3 13h1v1h-1zM21 13h1v1h-1zM13 21h1v1h-1zM60 35h1v1h-1zM49 42h1v1h-1zM53 46h1v1h-1zM42 49h1v1h-1zM46 53h1v1h-1zM35 60h1v1h-1zM72 69h1v1h-1zM69 72h1v1h-1zM74 73h1v1h-1zM73 74h1v1h-1z"/><path fill="#f02917" d="M57 35h1v1h-1zM47 37h1v1h-1zM55 37h1v1h-1zM37 47h1v1h-1zM55 47h1v1h-1zM37 55h1v1h-1zM47 55h1v1h-1zM35 57h1v1h-1z"/><path fill="#f01f14" d="M67 64h1v1h-1zM64 67h1v1h-1zM72 71h1v1h-1zM71 72h1v1h-1z"/><path fill="#a1181b" d="M0 0h1v1h-1zM1 1h1v1h-1zM2 2h1v1h-1zM3 3h1v1h-1zM4 4h1v1h-1zM5 5h1v1h-1zM6 6h1v1h-1zM7 7h1v1h-1zM8 8h1v1h-1zM9 9h1v1h-1zM10 10h1v1h-1zM11 11h1v1h-1zM12 12h1v1h-1zM13 13h1v1h-1zM14 14h1v1h-1zM15 15h1v1h-1zM16 16h1v1h-1zM17 17h1v1h-1zM18 18h1v1h-1zM19 19h1v1h-1zM20 20h1v1h-1zM21 21h1v1h-1zM22 22h1v1h-1zM23 23h1v1h-1zM24 24h1v1h-1zM25 25h1v1h-1zM26 26h1v1h-1zM27 27h1v1h-1zM28 28h1v1h-1zM29 29h1v1h-1zM30 30h1v1h-1zM31 31h1v1h-1zM32 32h1v1h-1zM33 33h1v1h-1zM34 34h1v1h-1zM35 35h1v1h-1zM36 36h1v1h-1zM37 37h1v1h-1zM38 38h1v1h-1zM39 39h1v1h-1zM40 40h1v1h-1zM41 41h1v1h-1zM42 42h1v1h-1zM43 43h1v1h-1zM44 44h1v1h-1zM45 45h1v1h-1zM46 46h1v1h-1zM47 47h1v1h-1zM48 48h1v1h-1zM49 49h1v1h-1zM50 50h1v1h-1zM51 51h1v1h-1zM52 52h1v1h-1zM53 53h1v1h-1zM54 54h1v1h-1zM55 55h1v1h-1zM56 56h1v1h-1zM57 57h1v1h-1zM58 58h1v1h-1zM59 59h1v1h-1zM60 60h1v1h-1zM61 61h1v1h-1zM62 62h1v1h-1zM63 63h1v1h-1zM64 64h1v1h-1zM65 65h1v1h-1zM66 66h1v1h-1zM67 67h1v1h-1zM68 68h1v1h-1zM69 69h1v1h-1zM70 70h1v1h-1zM71 71h1v1h-1zM72 72h1v1h-1zM73 73h1v1h-1zM74 74h1v1h-1zM75 75h1v1h-1z"/><path d="M1 0V76M2 0V76M3 0V76M4 0V76M5 0V76M6 0V76M7 0V76M8 0V76M9 0V76M10 0V76M11 0V76M12 0V76M13 0V76M14 0V76M15 0V76M16 0V76M17 0V76M18 0V76M19 0V76M20 0V76M21 0V76M22 0V76M23 0V76M24 0V76M25 0V76M26 0V76M27 0V76M28 0V76M29 0V76M30 0V76M31 0V76M32 0V76M33 0V76M34 0V76M35 0V76M36 0V76M37 0V76M38 0V76M39 0V76M40 0V76M41 0V76M42 0V76M43 0V76M44 0V76M45 0V76M46 0V76M47 0V76M48 0V76M49 0V76M50 0V76M51 0V76M52 0V76M53 0V76M54 0V76M55 0V76M56 0V76M57 0V76M58 0V76M59 0V76M60 0V76M61 0V76M62 0V76M63 0V76M64 0V76M65 0V76M66 0V76M67 0V76M68 0V76M69 0V76M70 0V76M71 0V76M72 0V76M73 0V76M74 0V76M75 0V76M0 1H76M0 2H76M0 3H76M0 4H76M0 5H76M0 6H76M0 7H76M0 8H76M0 9H76M0 10H76M0 11H76M0 12H76M0 13H76M0 14H76M0 15H76M0 16H76M0 17H76M0 18H76M0 19H76M0 20H76M0 21H76M0 22H76M0 23H76M0 24H76M0 25H76M0 26H76M0 27H76M0 28H76M0 29H76M0 30H76M0 31H76M0 32H76M0 33H76M0 34H76M0 35H76M0 36H76M0 37H76M0 38H76M0 39H76M0 40H76M0 41H76M0 42H76M0 43H76M0 44H76M0 45H76M0 46H76M0 47H76M0 48H76M0 49H76M0 50H76M0 51H76M0 52H76M0 53H76M0 54H76M0 55H76M0 56H76M0 57H76M0 58H76M0 59H76M0 60H76M0 61H76M0 62H76M0 63H76M0 64H76M0 65H76M0 66H76M0 67H76M0 68H76M0 69H76M0 70H76M0 71H76M0 72H76M0 73H76M0 74H76M0 75H76" stroke="#ffffff" stroke-opacity="0.09" stroke-width="0.3" fill="none"/><path d="M34 0V76M68 0V76M0 34H76M0 68H76" stroke="#eef3ff" stroke-opacity="0.9" stroke-width="0.62" fill="none"/></g></g><path d="M351.40 36.10H597.20M351.40 280.30H597.20" stroke="#1a1a2a" stroke-width="1" fill="none"/><path d="M597.20 36.10V280.30" stroke="#888" stroke-width="0.9" fill="none"/><line x1="343.40" x2="351.90" y1="36.10" y2="36.10" stroke="#111" stroke-width="1.2"/><line x1="343.40" x2="351.90" y1="145.35" y2="145.35" stroke="#111" stroke-width="1.2"/><line x1="343.40" x2="351.90" y1="254.59" y2="254.59" stroke="#111" stroke-width="1.2"/><line x1="343.40" x2="351.90" y1="280.30" y2="280.30" stroke="#111" stroke-width="1.2"/><line x1="351.90" x2="351.90" y1="280.30" y2="288.80" stroke="#111" stroke-width="1.2"/><line x1="461.64" x2="461.64" y1="280.30" y2="288.80" stroke="#111" stroke-width="1.2"/><line x1="571.38" x2="571.38" y1="280.30" y2="288.80" stroke="#111" stroke-width="1.2"/><line x1="597.20" x2="597.20" y1="280.30" y2="288.80" stroke="#111" stroke-width="1.2"/><text transform="translate(22.10 96.9) scale(1 1.08)" text-anchor="end" font-size="14.5" font-weight="bold">CT</text><text transform="translate(22.10 206.1) scale(1 1.06)" text-anchor="end" font-size="14.5" font-weight="bold">SA</text><text transform="translate(22.10 273.8) scale(1 1.02)" text-anchor="end" font-size="14.5" font-weight="bold">Vol</text><text transform="translate(341.50 96.9) scale(1 1.08)" text-anchor="end" font-size="14.5" font-weight="bold">CT</text><text transform="translate(341.50 206.1) scale(1 1.06)" text-anchor="end" font-size="14.5" font-weight="bold">SA</text><text transform="translate(341.50 273.8) scale(1 1.02)" text-anchor="end" font-size="14.5" font-weight="bold">Vol</text><text transform="translate(86.30 301.0) scale(1 1.06)" text-anchor="middle" font-size="14.5" font-weight="bold">CT</text><text transform="translate(195.50 301.0) scale(1 1.06)" text-anchor="middle" font-size="14.5" font-weight="bold">SA</text><text transform="translate(263.70 301.0) scale(1 1.06)" text-anchor="middle" font-size="14.5" font-weight="bold">Vol</text><text transform="translate(405.60 301.0) scale(1 1.06)" text-anchor="middle" font-size="14.5" font-weight="bold">CT</text><text transform="translate(515.40 301.0) scale(1 1.06)" text-anchor="middle" font-size="14.5" font-weight="bold">SA</text><text transform="translate(583.60 301.0) scale(1 1.06)" text-anchor="middle" font-size="14.5" font-weight="bold">Vol</text><rect x="640.40" y="35.300" width="19.70" height="5.031" fill="#801010"/><rect x="640.40" y="39.131" width="19.70" height="5.031" fill="#901111"/><rect x="640.40" y="42.962" width="19.70" height="5.031" fill="#a11212"/><rect x="640.40" y="46.794" width="19.70" height="5.031" fill="#b11313"/><rect x="640.40" y="50.625" width="19.70" height="5.031" fill="#c11514"/><rect x="640.40" y="54.456" width="19.70" height="5.031" fill="#cd1714"/><rect x="640.40" y="58.287" width="19.70" height="5.031" fill="#d91914"/><rect x="640.40" y="62.119" width="19.70" height="5.031" fill="#e51c14"/><rect x="640.40" y="65.950" width="19.70" height="5.031" fill="#f01f14"/><rect x="640.40" y="69.781" width="19.70" height="5.031" fill="#f02917"/><rect x="640.40" y="73.612" width="19.70" height="5.031" fill="#f03319"/><rect x="640.40" y="77.444" width="19.70" height="5.031" fill="#f03d1c"/><rect x="640.40" y="81.275" width="19.70" height="5.031" fill="#f0461e"/><rect x="640.40" y="85.106" width="19.70" height="5.031" fill="#ef5421"/><rect x="640.40" y="88.938" width="19.70" height="5.031" fill="#ed6123"/><rect x="640.40" y="92.769" width="19.70" height="5.031" fill="#ec6e26"/><rect x="640.40" y="96.600" width="19.70" height="5.031" fill="#eb7d28"/><rect x="640.40" y="100.431" width="19.70" height="5.031" fill="#eb8f28"/><rect x="640.40" y="104.262" width="19.70" height="5.031" fill="#eba228"/><rect x="640.40" y="108.094" width="19.70" height="5.031" fill="#ebb428"/><rect x="640.40" y="111.925" width="19.70" height="5.031" fill="#ebc429"/><rect x="640.40" y="115.756" width="19.70" height="5.031" fill="#ebd02c"/><rect x="640.40" y="119.587" width="19.70" height="5.031" fill="#ebdc2e"/><rect x="640.40" y="123.419" width="19.70" height="5.031" fill="#ebe830"/><rect x="640.40" y="127.250" width="19.70" height="5.031" fill="#e6f035"/><rect x="640.40" y="131.081" width="19.70" height="5.031" fill="#d9f03c"/><rect x="640.40" y="134.912" width="19.70" height="5.031" fill="#cbf043"/><rect x="640.40" y="138.744" width="19.70" height="5.031" fill="#bef04b"/><rect x="640.40" y="142.575" width="19.70" height="5.031" fill="#b0f054"/><rect x="640.40" y="146.406" width="19.70" height="5.031" fill="#a3f061"/><rect x="640.40" y="150.238" width="19.70" height="5.031" fill="#96f06e"/><rect x="640.40" y="154.069" width="19.70" height="5.031" fill="#89f07b"/><rect x="640.40" y="157.900" width="19.70" height="5.031" fill="#7ff08a"/><rect x="640.40" y="161.731" width="19.70" height="5.031" fill="#7af09a"/><rect x="640.40" y="165.562" width="19.70" height="5.031" fill="#75f0aa"/><rect x="640.40" y="169.394" width="19.70" height="5.031" fill="#6ff0ba"/><rect x="640.40" y="173.225" width="19.70" height="5.031" fill="#6cf0c7"/><rect x="640.40" y="177.056" width="19.70" height="5.031" fill="#6aefd3"/><rect x="640.40" y="180.887" width="19.70" height="5.031" fill="#67efdf"/><rect x="640.40" y="184.719" width="19.70" height="5.031" fill="#65eeeb"/><rect x="640.40" y="188.550" width="19.70" height="5.031" fill="#61e6ef"/><rect x="640.40" y="192.381" width="19.70" height="5.031" fill="#5cd9ee"/><rect x="640.40" y="196.212" width="19.70" height="5.031" fill="#57cced"/><rect x="640.40" y="200.044" width="19.70" height="5.031" fill="#52bfec"/><rect x="640.40" y="203.875" width="19.70" height="5.031" fill="#4db1ea"/><rect x="640.40" y="207.706" width="19.70" height="5.031" fill="#48a3e9"/><rect x="640.40" y="211.537" width="19.70" height="5.031" fill="#4394e8"/><rect x="640.40" y="215.369" width="19.70" height="5.031" fill="#3d86e6"/><rect x="640.40" y="219.200" width="19.70" height="5.031" fill="#3977e7"/><rect x="640.40" y="223.031" width="19.70" height="5.031" fill="#3569e8"/><rect x="640.40" y="226.863" width="19.70" height="5.031" fill="#315aea"/><rect x="640.40" y="230.694" width="19.70" height="5.031" fill="#2d4beb"/><rect x="640.40" y="234.525" width="19.70" height="5.031" fill="#293eec"/><rect x="640.40" y="238.356" width="19.70" height="5.031" fill="#2631ed"/><rect x="640.40" y="242.188" width="19.70" height="5.031" fill="#2223ef"/><rect x="640.40" y="246.019" width="19.70" height="5.031" fill="#1e16f0"/><rect x="640.40" y="249.850" width="19.70" height="5.031" fill="#1f12e7"/><rect x="640.40" y="253.681" width="19.70" height="5.031" fill="#200fde"/><rect x="640.40" y="257.512" width="19.70" height="5.031" fill="#220dd4"/><rect x="640.40" y="261.344" width="19.70" height="5.031" fill="#230bca"/><rect x="640.40" y="265.175" width="19.70" height="5.031" fill="#230bbe"/><rect x="640.40" y="269.006" width="19.70" height="5.031" fill="#230cb0"/><rect x="640.40" y="272.837" width="19.70" height="5.031" fill="#230ea3"/><rect x="640.40" y="276.669" width="19.70" height="3.831" fill="#230f96"/><rect x="640.40" y="35.30" width="19.70" height="245.20" fill="none" stroke="#777" stroke-width="0.8"/><line x1="658.10" x2="660.10" y1="65.95" y2="65.95" stroke="#333" stroke-width="0.8"/><line x1="658.10" x2="660.10" y1="96.60" y2="96.60" stroke="#333" stroke-width="0.8"/><line x1="658.10" x2="660.10" y1="127.25" y2="127.25" stroke="#333" stroke-width="0.8"/><line x1="658.10" x2="660.10" y1="157.90" y2="157.90" stroke="#333" stroke-width="0.8"/><line x1="658.10" x2="660.10" y1="188.55" y2="188.55" stroke="#333" stroke-width="0.8"/><line x1="658.10" x2="660.10" y1="219.20" y2="219.20" stroke="#333" stroke-width="0.8"/><line x1="658.10" x2="660.10" y1="249.85" y2="249.85" stroke="#333" stroke-width="0.8"/><text x="664" y="41.4" font-size="14">0.7</text><text x="664" y="286.2" font-size="14">0.3</text><text x="1.4" y="348.2" font-size="20" font-weight="bold">B</text><rect x="115.00" y="366.50" width="96.80" height="298.20" fill="#4ac938" stroke="#222" stroke-width="1"/><path d="M152.80 356.50H173.70M152.80 376.50H173.70M163.40 356.50V376.50" stroke="#2a2a2a" stroke-width="0.85" fill="none"/><rect x="221.80" y="393.40" width="96.50" height="271.30" fill="#e76131" stroke="#222" stroke-width="1"/><path d="M259.10 383.50H280.70M259.10 403.40H280.70M270.00 383.50V403.40" stroke="#2a2a2a" stroke-width="0.85" fill="none"/><path d="M98.60 337.80V680.30H334.80" stroke="#000" stroke-width="2.90" fill="none" stroke-linecap="round"/><line x1="93.80" x2="98.60" y1="395.70" y2="395.70" stroke="#000" stroke-width="2.2"/><text x="86.60" y="400.20" text-anchor="end" font-size="12.75" fill="#222">0.0515</text><line x1="93.80" x2="98.60" y1="468.20" y2="468.20" stroke="#000" stroke-width="2.2"/><text x="86.60" y="472.70" text-anchor="end" font-size="12.75" fill="#222">0.0510</text><line x1="93.80" x2="98.60" y1="539.70" y2="539.70" stroke="#000" stroke-width="2.2"/><text x="86.60" y="544.20" text-anchor="end" font-size="12.75" fill="#222">0.0505</text><line x1="93.80" x2="98.60" y1="611.80" y2="611.80" stroke="#000" stroke-width="2.2"/><text x="86.60" y="616.30" text-anchor="end" font-size="12.75" fill="#222">0.0500</text><line x1="163.20" x2="163.20" y1="680.30" y2="684.70" stroke="#000" stroke-width="1.5"/><text transform="translate(163.20 700.50) scale(1 1.04)" text-anchor="middle" font-size="14.7" font-weight="bold">Control</text><line x1="270.20" x2="270.20" y1="680.30" y2="684.70" stroke="#000" stroke-width="1.5"/><text transform="translate(270.20 700.50) scale(1 1.04)" text-anchor="middle" font-size="14.7" font-weight="bold">CHR</text><text transform="translate(31.60 509.30) rotate(-90)" text-anchor="middle" font-size="14.6" font-weight="bold">Global efficiency</text><rect x="442.50" y="367.40" width="97.30" height="295.10" fill="#4ac938" stroke="#222" stroke-width="1"/><path d="M480.20 357.30H501.80M480.20 377.40H501.80M490.70 357.30V377.40" stroke="#2a2a2a" stroke-width="0.85" fill="none"/><rect x="550.50" y="391.30" width="97.10" height="271.20" fill="#e76131" stroke="#222" stroke-width="1"/><path d="M588.20 381.00H609.50M588.20 401.40H609.50M598.40 381.00V401.40" stroke="#2a2a2a" stroke-width="0.85" fill="none"/><path d="M426.20 337.70V678.20H662.50" stroke="#000" stroke-width="2.50" fill="none" stroke-linecap="round"/><line x1="421.40" x2="426.20" y1="402.40" y2="402.40" stroke="#000" stroke-width="2.2"/><text x="415.70" y="406.90" text-anchor="end" font-size="12.30" fill="#222">0.1060</text><line x1="421.40" x2="426.20" y1="484.00" y2="484.00" stroke="#000" stroke-width="2.2"/><text x="415.70" y="488.50" text-anchor="end" font-size="12.30" fill="#222">0.1050</text><line x1="421.40" x2="426.20" y1="565.80" y2="565.80" stroke="#000" stroke-width="2.2"/><text x="415.70" y="570.30" text-anchor="end" font-size="12.30" fill="#222">0.1040</text><line x1="421.40" x2="426.20" y1="647.50" y2="647.50" stroke="#000" stroke-width="2.2"/><text x="415.70" y="652.00" text-anchor="end" font-size="12.30" fill="#222">0.1030</text><line x1="491.10" x2="491.10" y1="678.20" y2="682.60" stroke="#000" stroke-width="1.5"/><text transform="translate(491.10 699.20) scale(1 1.04)" text-anchor="middle" font-size="14.7" font-weight="bold">Control</text><line x1="598.60" x2="598.60" y1="678.20" y2="682.60" stroke="#000" stroke-width="1.5"/><text transform="translate(598.60 699.20) scale(1 1.04)" text-anchor="middle" font-size="14.7" font-weight="bold">CHR</text><text transform="translate(359.00 507.40) rotate(-90)" text-anchor="middle" font-size="14.6" font-weight="bold">Clustering coefficient</text></svg></body></html>
